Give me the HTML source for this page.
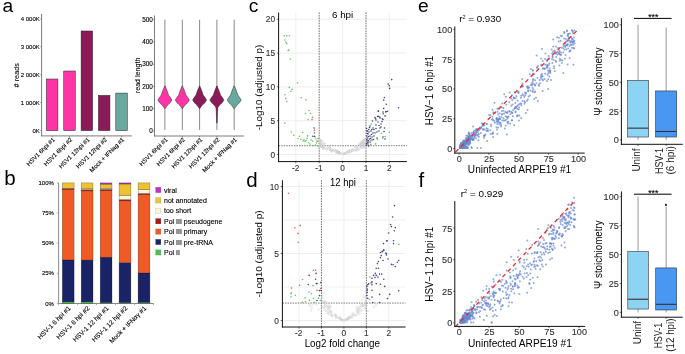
<!DOCTYPE html>
<html><head><meta charset="utf-8"><style>
html,body{margin:0;padding:0;background:#fff;width:685px;height:354px;overflow:hidden}
svg{display:block;will-change:transform}
text{font-family:"Liberation Sans", sans-serif}
</style></head><body>
<svg width="685" height="354" viewBox="0 0 685 354">
<rect width="685" height="354" fill="#fff"/>
<text x="2.40" y="12.20" font-size="19.2" text-anchor="start" fill="#000">a</text>
<text x="4.20" y="185.10" font-size="20.5" text-anchor="start" fill="#000">b</text>
<text x="248.80" y="12.20" font-size="19.2" text-anchor="start" fill="#000">c</text>
<text x="246.20" y="187.10" font-size="20.5" text-anchor="start" fill="#000">d</text>
<text x="418.00" y="11.90" font-size="19.2" text-anchor="start" fill="#000">e</text>
<text x="418.60" y="187.10" font-size="20.5" text-anchor="start" fill="#000">f</text>
<line x1="41.60" y1="14.00" x2="41.60" y2="136.20" stroke="#444" stroke-width="0.7"/>
<line x1="41.30" y1="135.90" x2="131.80" y2="135.90" stroke="#444" stroke-width="0.7"/>
<line x1="40.20" y1="130.60" x2="41.60" y2="130.60" stroke="#444" stroke-width="0.5"/>
<text x="39.80" y="132.70" font-size="6.0" text-anchor="end" fill="#000" stroke="#000" stroke-width="0.12">0K</text>
<line x1="40.20" y1="102.67" x2="41.60" y2="102.67" stroke="#444" stroke-width="0.5"/>
<text x="39.80" y="104.77" font-size="6.0" text-anchor="end" fill="#000" stroke="#000" stroke-width="0.12">1 000K</text>
<line x1="40.20" y1="74.74" x2="41.60" y2="74.74" stroke="#444" stroke-width="0.5"/>
<text x="39.80" y="76.84" font-size="6.0" text-anchor="end" fill="#000" stroke="#000" stroke-width="0.12">2 000K</text>
<line x1="40.20" y1="46.81" x2="41.60" y2="46.81" stroke="#444" stroke-width="0.5"/>
<text x="39.80" y="48.91" font-size="6.0" text-anchor="end" fill="#000" stroke="#000" stroke-width="0.12">3 000K</text>
<line x1="40.20" y1="18.88" x2="41.60" y2="18.88" stroke="#444" stroke-width="0.5"/>
<text x="39.80" y="20.98" font-size="6.0" text-anchor="end" fill="#000" stroke="#000" stroke-width="0.12">4 000K</text>
<rect x="46.40" y="79.00" width="11.50" height="51.60" fill="#FD35A6" stroke="#222" stroke-width="0.5"/>
<line x1="52.15" y1="135.90" x2="52.15" y2="137.30" stroke="#444" stroke-width="0.5"/>
<text x="55.35" y="140.00" font-size="6.05" text-anchor="end" fill="#000" stroke="#000" stroke-width="0.12" transform="rotate(-45 55.35 140.00)">HSV1 6hpi #1</text>
<rect x="63.75" y="71.00" width="11.50" height="59.60" fill="#FD35A6" stroke="#222" stroke-width="0.5"/>
<line x1="69.50" y1="135.90" x2="69.50" y2="137.30" stroke="#444" stroke-width="0.5"/>
<text x="72.70" y="140.00" font-size="6.05" text-anchor="end" fill="#000" stroke="#000" stroke-width="0.12" transform="rotate(-45 72.70 140.00)">HSV1 6hpi #2</text>
<rect x="81.10" y="31.00" width="11.50" height="99.60" fill="#8A1B58" stroke="#222" stroke-width="0.5"/>
<line x1="86.85" y1="135.90" x2="86.85" y2="137.30" stroke="#444" stroke-width="0.5"/>
<text x="90.05" y="140.00" font-size="6.05" text-anchor="end" fill="#000" stroke="#000" stroke-width="0.12" transform="rotate(-45 90.05 140.00)">HSV1 12hpi #1</text>
<rect x="98.45" y="95.40" width="11.50" height="35.20" fill="#8A1B58" stroke="#222" stroke-width="0.5"/>
<line x1="104.20" y1="135.90" x2="104.20" y2="137.30" stroke="#444" stroke-width="0.5"/>
<text x="107.40" y="140.00" font-size="6.05" text-anchor="end" fill="#000" stroke="#000" stroke-width="0.12" transform="rotate(-45 107.40 140.00)">HSV1 12hpi #2</text>
<rect x="115.80" y="93.10" width="11.50" height="37.50" fill="#69A89E" stroke="#222" stroke-width="0.5"/>
<line x1="121.55" y1="135.90" x2="121.55" y2="137.30" stroke="#444" stroke-width="0.5"/>
<text x="124.75" y="140.00" font-size="6.05" text-anchor="end" fill="#000" stroke="#000" stroke-width="0.12" transform="rotate(-45 124.75 140.00)">Mock + IFNag #1</text>
<text x="19.40" y="75.25" font-size="7.2" text-anchor="middle" fill="#111" stroke="#111" stroke-width="0.12" textLength="24.3" lengthAdjust="spacingAndGlyphs" transform="rotate(-90 19.40 75.25)"># reads</text>
<line x1="154.50" y1="15.50" x2="154.50" y2="136.30" stroke="#444" stroke-width="0.7"/>
<line x1="154.20" y1="136.00" x2="244.20" y2="136.00" stroke="#444" stroke-width="0.7"/>
<line x1="153.10" y1="131.00" x2="154.50" y2="131.00" stroke="#444" stroke-width="0.5"/>
<text x="152.90" y="133.20" font-size="6.4" text-anchor="end" fill="#000" stroke="#000" stroke-width="0.12">0</text>
<line x1="153.10" y1="108.74" x2="154.50" y2="108.74" stroke="#444" stroke-width="0.5"/>
<text x="152.90" y="110.94" font-size="6.4" text-anchor="end" fill="#000" stroke="#000" stroke-width="0.12">100</text>
<line x1="153.10" y1="86.48" x2="154.50" y2="86.48" stroke="#444" stroke-width="0.5"/>
<text x="152.90" y="88.68" font-size="6.4" text-anchor="end" fill="#000" stroke="#000" stroke-width="0.12">200</text>
<line x1="153.10" y1="64.22" x2="154.50" y2="64.22" stroke="#444" stroke-width="0.5"/>
<text x="152.90" y="66.42" font-size="6.4" text-anchor="end" fill="#000" stroke="#000" stroke-width="0.12">300</text>
<line x1="153.10" y1="41.96" x2="154.50" y2="41.96" stroke="#444" stroke-width="0.5"/>
<text x="152.90" y="44.16" font-size="6.4" text-anchor="end" fill="#000" stroke="#000" stroke-width="0.12">400</text>
<line x1="153.10" y1="19.70" x2="154.50" y2="19.70" stroke="#444" stroke-width="0.5"/>
<text x="152.90" y="21.90" font-size="6.4" text-anchor="end" fill="#000" stroke="#000" stroke-width="0.12">500</text>
<text x="140.00" y="75.40" font-size="7.2" text-anchor="middle" fill="#111" stroke="#111" stroke-width="0.12" textLength="35.5" lengthAdjust="spacingAndGlyphs" transform="rotate(-90 140.00 75.40)">read length</text>
<line x1="164.90" y1="19.70" x2="164.90" y2="88.00" stroke="#6a6a6a" stroke-width="0.8"/>
<line x1="164.90" y1="107.00" x2="164.90" y2="130.00" stroke="#6a6a6a" stroke-width="0.8"/>
<polygon points="165.20,86.00 165.70,87.50 166.40,89.00 167.50,92.00 168.50,95.00 170.40,97.50 171.90,100.10 170.40,102.50 167.70,105.00 166.20,107.00 165.30,108.50 164.50,108.50 163.60,107.00 162.10,105.00 159.40,102.50 157.90,100.10 159.40,97.50 161.30,95.00 162.30,92.00 163.40,89.00 164.10,87.50 164.60,86.00" fill="#FD35A6" stroke="#2a2a2a" stroke-width="0.5" stroke-linejoin="round"/>
<line x1="164.90" y1="136.00" x2="164.90" y2="137.30" stroke="#444" stroke-width="0.5"/>
<text x="168.10" y="140.00" font-size="6.05" text-anchor="end" fill="#000" stroke="#000" stroke-width="0.12" transform="rotate(-45 168.10 140.00)">HSV1 6hpi #1</text>
<line x1="182.30" y1="19.70" x2="182.30" y2="88.00" stroke="#6a6a6a" stroke-width="0.8"/>
<line x1="182.30" y1="107.00" x2="182.30" y2="130.00" stroke="#6a6a6a" stroke-width="0.8"/>
<polygon points="182.60,86.00 183.10,87.50 183.80,89.00 184.90,92.00 185.90,95.00 187.80,97.50 189.30,100.10 187.80,102.50 185.10,105.00 183.60,107.00 182.70,108.50 181.90,108.50 181.00,107.00 179.50,105.00 176.80,102.50 175.30,100.10 176.80,97.50 178.70,95.00 179.70,92.00 180.80,89.00 181.50,87.50 182.00,86.00" fill="#FD35A6" stroke="#2a2a2a" stroke-width="0.5" stroke-linejoin="round"/>
<line x1="182.30" y1="136.00" x2="182.30" y2="137.30" stroke="#444" stroke-width="0.5"/>
<text x="185.50" y="140.00" font-size="6.05" text-anchor="end" fill="#000" stroke="#000" stroke-width="0.12" transform="rotate(-45 185.50 140.00)">HSV1 6hpi #2</text>
<line x1="199.60" y1="19.70" x2="199.60" y2="88.00" stroke="#6a6a6a" stroke-width="0.8"/>
<line x1="199.60" y1="107.00" x2="199.60" y2="130.00" stroke="#6a6a6a" stroke-width="0.8"/>
<polygon points="199.90,86.00 200.40,87.50 201.10,89.00 202.20,92.00 203.20,95.00 205.10,97.50 206.60,100.10 205.10,102.50 202.40,105.00 200.90,107.00 200.00,108.50 199.20,108.50 198.30,107.00 196.80,105.00 194.10,102.50 192.60,100.10 194.10,97.50 196.00,95.00 197.00,92.00 198.10,89.00 198.80,87.50 199.30,86.00" fill="#8A1B58" stroke="#2a2a2a" stroke-width="0.5" stroke-linejoin="round"/>
<line x1="199.60" y1="136.00" x2="199.60" y2="137.30" stroke="#444" stroke-width="0.5"/>
<text x="202.80" y="140.00" font-size="6.05" text-anchor="end" fill="#000" stroke="#000" stroke-width="0.12" transform="rotate(-45 202.80 140.00)">HSV1 12hpi #1</text>
<line x1="216.90" y1="19.70" x2="216.90" y2="88.00" stroke="#6a6a6a" stroke-width="0.8"/>
<line x1="216.90" y1="107.00" x2="216.90" y2="130.00" stroke="#6a6a6a" stroke-width="0.8"/>
<polygon points="217.20,86.00 217.70,87.50 218.40,89.00 219.50,92.00 220.50,95.00 222.40,97.50 223.90,100.10 222.40,102.50 219.70,105.00 218.20,107.00 217.80,108.50 217.50,112.00 217.30,118.00 217.15,123.00 216.65,123.00 216.50,118.00 216.30,112.00 216.00,108.50 215.60,107.00 214.10,105.00 211.40,102.50 209.90,100.10 211.40,97.50 213.30,95.00 214.30,92.00 215.40,89.00 216.10,87.50 216.60,86.00" fill="#8A1B58" stroke="#2a2a2a" stroke-width="0.5" stroke-linejoin="round"/>
<line x1="216.90" y1="136.00" x2="216.90" y2="137.30" stroke="#444" stroke-width="0.5"/>
<text x="220.10" y="140.00" font-size="6.05" text-anchor="end" fill="#000" stroke="#000" stroke-width="0.12" transform="rotate(-45 220.10 140.00)">HSV1 12hpi #2</text>
<line x1="234.20" y1="19.70" x2="234.20" y2="88.00" stroke="#6a6a6a" stroke-width="0.8"/>
<line x1="234.20" y1="107.00" x2="234.20" y2="130.00" stroke="#6a6a6a" stroke-width="0.8"/>
<polygon points="234.50,86.00 235.00,87.50 235.70,89.00 236.80,92.00 237.80,95.00 239.70,97.50 241.20,100.10 239.70,102.50 237.00,105.00 235.50,107.00 234.60,108.50 233.80,108.50 232.90,107.00 231.40,105.00 228.70,102.50 227.20,100.10 228.70,97.50 230.60,95.00 231.60,92.00 232.70,89.00 233.40,87.50 233.90,86.00" fill="#69A89E" stroke="#2a2a2a" stroke-width="0.5" stroke-linejoin="round"/>
<line x1="234.20" y1="136.00" x2="234.20" y2="137.30" stroke="#444" stroke-width="0.5"/>
<text x="237.40" y="140.00" font-size="6.05" text-anchor="end" fill="#000" stroke="#000" stroke-width="0.12" transform="rotate(-45 237.40 140.00)">Mock + IFNag #1</text>
<line x1="58.60" y1="182.90" x2="58.60" y2="303.60" stroke="#8a8a8a" stroke-width="1.0"/>
<line x1="58.40" y1="303.50" x2="153.60" y2="303.50" stroke="#8a8a8a" stroke-width="1.0"/>
<line x1="56.80" y1="303.30" x2="58.60" y2="303.30" stroke="#8a8a8a" stroke-width="0.7"/>
<text x="53.90" y="305.50" font-size="6.0" text-anchor="end" fill="#000" stroke="#000" stroke-width="0.12">0%</text>
<line x1="56.80" y1="273.20" x2="58.60" y2="273.20" stroke="#8a8a8a" stroke-width="0.7"/>
<text x="53.90" y="275.40" font-size="6.0" text-anchor="end" fill="#000" stroke="#000" stroke-width="0.12">25%</text>
<line x1="56.80" y1="243.10" x2="58.60" y2="243.10" stroke="#8a8a8a" stroke-width="0.7"/>
<text x="53.90" y="245.30" font-size="6.0" text-anchor="end" fill="#000" stroke="#000" stroke-width="0.12">50%</text>
<line x1="56.80" y1="213.00" x2="58.60" y2="213.00" stroke="#8a8a8a" stroke-width="0.7"/>
<text x="53.90" y="215.20" font-size="6.0" text-anchor="end" fill="#000" stroke="#000" stroke-width="0.12">75%</text>
<line x1="56.80" y1="182.90" x2="58.60" y2="182.90" stroke="#8a8a8a" stroke-width="0.7"/>
<text x="53.90" y="185.10" font-size="6.0" text-anchor="end" fill="#000" stroke="#000" stroke-width="0.12">100%</text>
<line x1="58.60" y1="303.50" x2="58.60" y2="305.20" stroke="#8a8a8a" stroke-width="0.7"/>
<line x1="77.60" y1="303.50" x2="77.60" y2="305.20" stroke="#8a8a8a" stroke-width="0.7"/>
<line x1="96.50" y1="303.50" x2="96.50" y2="305.20" stroke="#8a8a8a" stroke-width="0.7"/>
<line x1="115.50" y1="303.50" x2="115.50" y2="305.20" stroke="#8a8a8a" stroke-width="0.7"/>
<line x1="134.50" y1="303.50" x2="134.50" y2="305.20" stroke="#8a8a8a" stroke-width="0.7"/>
<line x1="153.50" y1="303.50" x2="153.50" y2="305.20" stroke="#8a8a8a" stroke-width="0.7"/>
<rect x="62.30" y="301.86" width="11.80" height="1.44" fill="#4DC04A" stroke="#00000080" stroke-width="0.45"/>
<rect x="62.30" y="259.96" width="11.80" height="41.90" fill="#1A2366" stroke="#00000080" stroke-width="0.45"/>
<rect x="62.30" y="189.52" width="11.80" height="70.43" fill="#F05A27" stroke="#00000080" stroke-width="0.45"/>
<rect x="62.30" y="188.44" width="11.80" height="1.08" fill="#A81A14" stroke="#00000080" stroke-width="0.45"/>
<rect x="62.30" y="182.90" width="11.80" height="5.54" fill="#EFC232" stroke="#00000080" stroke-width="0.45"/>
<rect x="81.20" y="301.86" width="11.80" height="1.44" fill="#4DC04A" stroke="#00000080" stroke-width="0.45"/>
<rect x="81.20" y="260.08" width="11.80" height="41.78" fill="#1A2366" stroke="#00000080" stroke-width="0.45"/>
<rect x="81.20" y="190.85" width="11.80" height="69.23" fill="#F05A27" stroke="#00000080" stroke-width="0.45"/>
<rect x="81.20" y="189.64" width="11.80" height="1.20" fill="#A81A14" stroke="#00000080" stroke-width="0.45"/>
<rect x="81.20" y="188.56" width="11.80" height="1.08" fill="#F9F6D6" stroke="#00000080" stroke-width="0.45"/>
<rect x="81.20" y="182.90" width="11.80" height="5.66" fill="#EFC232" stroke="#00000080" stroke-width="0.45"/>
<rect x="100.20" y="302.58" width="11.80" height="0.72" fill="#4DC04A" stroke="#00000080" stroke-width="0.45"/>
<rect x="100.20" y="257.19" width="11.80" height="45.39" fill="#1A2366" stroke="#00000080" stroke-width="0.45"/>
<rect x="100.20" y="190.73" width="11.80" height="66.46" fill="#F05A27" stroke="#00000080" stroke-width="0.45"/>
<rect x="100.20" y="189.40" width="11.80" height="1.32" fill="#A81A14" stroke="#00000080" stroke-width="0.45"/>
<rect x="100.20" y="188.20" width="11.80" height="1.20" fill="#F9F6D6" stroke="#00000080" stroke-width="0.45"/>
<rect x="100.20" y="184.10" width="11.80" height="4.09" fill="#EFC232" stroke="#00000080" stroke-width="0.45"/>
<rect x="100.20" y="182.90" width="11.80" height="1.20" fill="#C22FCB" stroke="#00000080" stroke-width="0.45"/>
<rect x="119.10" y="302.58" width="11.80" height="0.72" fill="#4DC04A" stroke="#00000080" stroke-width="0.45"/>
<rect x="119.10" y="262.73" width="11.80" height="39.85" fill="#1A2366" stroke="#00000080" stroke-width="0.45"/>
<rect x="119.10" y="200.84" width="11.80" height="61.89" fill="#F05A27" stroke="#00000080" stroke-width="0.45"/>
<rect x="119.10" y="199.64" width="11.80" height="1.20" fill="#A81A14" stroke="#00000080" stroke-width="0.45"/>
<rect x="119.10" y="195.18" width="11.80" height="4.45" fill="#F9F6D6" stroke="#00000080" stroke-width="0.45"/>
<rect x="119.10" y="183.98" width="11.80" height="11.20" fill="#EFC232" stroke="#00000080" stroke-width="0.45"/>
<rect x="119.10" y="182.90" width="11.80" height="1.08" fill="#C22FCB" stroke="#00000080" stroke-width="0.45"/>
<rect x="138.10" y="302.34" width="11.80" height="0.96" fill="#4DC04A" stroke="#00000080" stroke-width="0.45"/>
<rect x="138.10" y="272.96" width="11.80" height="29.38" fill="#1A2366" stroke="#00000080" stroke-width="0.45"/>
<rect x="138.10" y="194.58" width="11.80" height="78.38" fill="#F05A27" stroke="#00000080" stroke-width="0.45"/>
<rect x="138.10" y="193.50" width="11.80" height="1.08" fill="#A81A14" stroke="#00000080" stroke-width="0.45"/>
<rect x="138.10" y="189.52" width="11.80" height="3.97" fill="#F9F6D6" stroke="#00000080" stroke-width="0.45"/>
<rect x="138.10" y="182.90" width="11.80" height="6.62" fill="#EFC232" stroke="#00000080" stroke-width="0.45"/>
<text x="71.10" y="308.80" font-size="6.5" text-anchor="end" fill="#000" stroke="#000" stroke-width="0.12" transform="rotate(-45 71.10 308.80)">HSV-1 6 hpi #1</text>
<text x="90.00" y="308.80" font-size="6.5" text-anchor="end" fill="#000" stroke="#000" stroke-width="0.12" transform="rotate(-45 90.00 308.80)">HSV-1 6 hpi #2</text>
<text x="109.00" y="308.80" font-size="6.5" text-anchor="end" fill="#000" stroke="#000" stroke-width="0.12" transform="rotate(-45 109.00 308.80)">HSV-1 12 hpi #1</text>
<text x="127.90" y="308.80" font-size="6.5" text-anchor="end" fill="#000" stroke="#000" stroke-width="0.12" transform="rotate(-45 127.90 308.80)">HSV-1 12 hpi #2</text>
<text x="146.90" y="308.80" font-size="6.5" text-anchor="end" fill="#000" stroke="#000" stroke-width="0.12" transform="rotate(-45 146.90 308.80)">Mock + IFN&#945;&#947; #1</text>
<rect x="155.60" y="187.30" width="5.30" height="5.40" fill="#C22FCB" stroke="#00000044" stroke-width="0.35"/>
<text x="164.00" y="192.50" font-size="7.0" text-anchor="start" fill="#000" stroke="#000" stroke-width="0.12">viral</text>
<rect x="155.60" y="197.70" width="5.30" height="5.40" fill="#EFC232" stroke="#00000044" stroke-width="0.35"/>
<text x="164.00" y="202.90" font-size="7.0" text-anchor="start" fill="#000" stroke="#000" stroke-width="0.12">not annotated</text>
<rect x="155.60" y="208.10" width="5.30" height="5.40" fill="#F9F6D6" stroke="#00000044" stroke-width="0.35"/>
<text x="164.00" y="213.30" font-size="7.0" text-anchor="start" fill="#000" stroke="#000" stroke-width="0.12">too short</text>
<rect x="155.60" y="218.50" width="5.30" height="5.40" fill="#A81A14" stroke="#00000044" stroke-width="0.35"/>
<text x="164.00" y="223.70" font-size="7.0" text-anchor="start" fill="#000" stroke="#000" stroke-width="0.12">Pol III pseudogene</text>
<rect x="155.60" y="228.90" width="5.30" height="5.40" fill="#F05A27" stroke="#00000044" stroke-width="0.35"/>
<text x="164.00" y="234.10" font-size="7.0" text-anchor="start" fill="#000" stroke="#000" stroke-width="0.12">Pol III primary</text>
<rect x="155.60" y="239.30" width="5.30" height="5.40" fill="#1A2366" stroke="#00000044" stroke-width="0.35"/>
<text x="164.00" y="244.50" font-size="7.0" text-anchor="start" fill="#000" stroke="#000" stroke-width="0.12">Pol III pre-tRNA</text>
<rect x="155.60" y="249.70" width="5.30" height="5.40" fill="#4DC04A" stroke="#00000044" stroke-width="0.35"/>
<text x="164.00" y="254.90" font-size="7.0" text-anchor="start" fill="#000" stroke="#000" stroke-width="0.12">Pol II</text>
<line x1="278.60" y1="154.50" x2="406.90" y2="154.50" stroke="#EBEBEB" stroke-width="0.8"/>
<line x1="278.60" y1="120.70" x2="406.90" y2="120.70" stroke="#EBEBEB" stroke-width="0.8"/>
<line x1="278.60" y1="86.90" x2="406.90" y2="86.90" stroke="#EBEBEB" stroke-width="0.8"/>
<line x1="278.60" y1="53.10" x2="406.90" y2="53.10" stroke="#EBEBEB" stroke-width="0.8"/>
<line x1="278.60" y1="19.30" x2="406.90" y2="19.30" stroke="#EBEBEB" stroke-width="0.8"/>
<line x1="295.80" y1="12.50" x2="295.80" y2="161.60" stroke="#EBEBEB" stroke-width="0.8"/>
<line x1="319.20" y1="12.50" x2="319.20" y2="161.60" stroke="#EBEBEB" stroke-width="0.8"/>
<line x1="342.60" y1="12.50" x2="342.60" y2="161.60" stroke="#EBEBEB" stroke-width="0.8"/>
<line x1="366.00" y1="12.50" x2="366.00" y2="161.60" stroke="#EBEBEB" stroke-width="0.8"/>
<line x1="389.40" y1="12.50" x2="389.40" y2="161.60" stroke="#EBEBEB" stroke-width="0.8"/>
<line x1="319.20" y1="12.50" x2="319.20" y2="161.60" stroke="#222" stroke-width="0.6" stroke-dasharray="1.5,1.05"/>
<line x1="366.00" y1="12.50" x2="366.00" y2="161.60" stroke="#222" stroke-width="0.6" stroke-dasharray="1.5,1.05"/>
<line x1="278.60" y1="145.71" x2="406.90" y2="145.71" stroke="#222" stroke-width="0.6" stroke-dasharray="1.5,1.05"/>
<circle cx="330.1" cy="150.0" r="0.85" fill="none" stroke="#CFCFCF" stroke-width="0.4"/>
<circle cx="356.9" cy="150.2" r="0.85" fill="none" stroke="#CFCFCF" stroke-width="0.4"/>
<circle cx="325.6" cy="144.5" r="0.85" fill="none" stroke="#CFCFCF" stroke-width="0.4"/>
<circle cx="365.8" cy="143.5" r="0.85" fill="none" stroke="#CFCFCF" stroke-width="0.4"/>
<circle cx="335.1" cy="150.9" r="0.85" fill="none" stroke="#CFCFCF" stroke-width="0.4"/>
<circle cx="323.3" cy="145.5" r="0.85" fill="none" stroke="#CFCFCF" stroke-width="0.4"/>
<circle cx="339.0" cy="153.4" r="0.85" fill="none" stroke="#CFCFCF" stroke-width="0.4"/>
<circle cx="332.2" cy="151.3" r="0.85" fill="none" stroke="#CFCFCF" stroke-width="0.4"/>
<circle cx="362.9" cy="142.7" r="0.85" fill="none" stroke="#CFCFCF" stroke-width="0.4"/>
<circle cx="356.1" cy="150.4" r="0.85" fill="none" stroke="#CFCFCF" stroke-width="0.4"/>
<circle cx="322.6" cy="144.0" r="0.85" fill="none" stroke="#CFCFCF" stroke-width="0.4"/>
<circle cx="350.1" cy="151.8" r="0.85" fill="none" stroke="#CFCFCF" stroke-width="0.4"/>
<circle cx="337.2" cy="151.9" r="0.85" fill="none" stroke="#CFCFCF" stroke-width="0.4"/>
<circle cx="343.5" cy="154.0" r="0.85" fill="none" stroke="#CFCFCF" stroke-width="0.4"/>
<circle cx="360.6" cy="144.1" r="0.85" fill="none" stroke="#CFCFCF" stroke-width="0.4"/>
<circle cx="339.3" cy="152.3" r="0.85" fill="none" stroke="#CFCFCF" stroke-width="0.4"/>
<circle cx="354.6" cy="149.8" r="0.85" fill="none" stroke="#CFCFCF" stroke-width="0.4"/>
<circle cx="330.6" cy="148.8" r="0.85" fill="none" stroke="#CFCFCF" stroke-width="0.4"/>
<circle cx="350.6" cy="151.6" r="0.85" fill="none" stroke="#CFCFCF" stroke-width="0.4"/>
<circle cx="363.7" cy="142.0" r="0.85" fill="none" stroke="#CFCFCF" stroke-width="0.4"/>
<circle cx="332.5" cy="149.7" r="0.85" fill="none" stroke="#CFCFCF" stroke-width="0.4"/>
<circle cx="347.9" cy="151.7" r="0.85" fill="none" stroke="#CFCFCF" stroke-width="0.4"/>
<circle cx="319.4" cy="140.8" r="0.85" fill="none" stroke="#CFCFCF" stroke-width="0.4"/>
<circle cx="347.7" cy="151.9" r="0.85" fill="none" stroke="#CFCFCF" stroke-width="0.4"/>
<circle cx="321.4" cy="146.9" r="0.85" fill="none" stroke="#CFCFCF" stroke-width="0.4"/>
<circle cx="322.0" cy="141.1" r="0.85" fill="none" stroke="#CFCFCF" stroke-width="0.4"/>
<circle cx="360.3" cy="145.0" r="0.85" fill="none" stroke="#CFCFCF" stroke-width="0.4"/>
<circle cx="332.4" cy="150.2" r="0.85" fill="none" stroke="#CFCFCF" stroke-width="0.4"/>
<circle cx="337.8" cy="151.8" r="0.85" fill="none" stroke="#CFCFCF" stroke-width="0.4"/>
<circle cx="355.3" cy="146.3" r="0.85" fill="none" stroke="#CFCFCF" stroke-width="0.4"/>
<circle cx="338.1" cy="152.7" r="0.85" fill="none" stroke="#CFCFCF" stroke-width="0.4"/>
<circle cx="357.1" cy="147.6" r="0.85" fill="none" stroke="#CFCFCF" stroke-width="0.4"/>
<circle cx="366.0" cy="144.7" r="0.85" fill="none" stroke="#CFCFCF" stroke-width="0.4"/>
<circle cx="319.4" cy="142.1" r="0.85" fill="none" stroke="#CFCFCF" stroke-width="0.4"/>
<circle cx="329.7" cy="149.8" r="0.85" fill="none" stroke="#CFCFCF" stroke-width="0.4"/>
<circle cx="355.5" cy="146.1" r="0.85" fill="none" stroke="#CFCFCF" stroke-width="0.4"/>
<circle cx="340.2" cy="153.0" r="0.85" fill="none" stroke="#CFCFCF" stroke-width="0.4"/>
<circle cx="319.3" cy="139.4" r="0.85" fill="none" stroke="#CFCFCF" stroke-width="0.4"/>
<circle cx="323.3" cy="147.5" r="0.85" fill="none" stroke="#CFCFCF" stroke-width="0.4"/>
<circle cx="319.9" cy="145.0" r="0.85" fill="none" stroke="#CFCFCF" stroke-width="0.4"/>
<circle cx="344.7" cy="153.6" r="0.85" fill="none" stroke="#CFCFCF" stroke-width="0.4"/>
<circle cx="361.4" cy="143.4" r="0.85" fill="none" stroke="#CFCFCF" stroke-width="0.4"/>
<circle cx="364.6" cy="144.0" r="0.85" fill="none" stroke="#CFCFCF" stroke-width="0.4"/>
<circle cx="326.6" cy="147.8" r="0.85" fill="none" stroke="#CFCFCF" stroke-width="0.4"/>
<circle cx="323.0" cy="148.7" r="0.85" fill="none" stroke="#CFCFCF" stroke-width="0.4"/>
<circle cx="336.7" cy="151.7" r="0.85" fill="none" stroke="#CFCFCF" stroke-width="0.4"/>
<circle cx="326.0" cy="149.6" r="0.85" fill="none" stroke="#CFCFCF" stroke-width="0.4"/>
<circle cx="358.1" cy="149.1" r="0.85" fill="none" stroke="#CFCFCF" stroke-width="0.4"/>
<circle cx="362.8" cy="141.4" r="0.85" fill="none" stroke="#CFCFCF" stroke-width="0.4"/>
<circle cx="353.1" cy="149.3" r="0.85" fill="none" stroke="#CFCFCF" stroke-width="0.4"/>
<circle cx="348.9" cy="151.1" r="0.85" fill="none" stroke="#CFCFCF" stroke-width="0.4"/>
<circle cx="323.9" cy="143.4" r="0.85" fill="none" stroke="#CFCFCF" stroke-width="0.4"/>
<circle cx="319.9" cy="145.0" r="0.85" fill="none" stroke="#CFCFCF" stroke-width="0.4"/>
<circle cx="350.6" cy="151.5" r="0.85" fill="none" stroke="#CFCFCF" stroke-width="0.4"/>
<circle cx="320.8" cy="145.4" r="0.85" fill="none" stroke="#CFCFCF" stroke-width="0.4"/>
<circle cx="362.9" cy="141.3" r="0.85" fill="none" stroke="#CFCFCF" stroke-width="0.4"/>
<circle cx="338.1" cy="151.6" r="0.85" fill="none" stroke="#CFCFCF" stroke-width="0.4"/>
<circle cx="324.9" cy="148.3" r="0.85" fill="none" stroke="#CFCFCF" stroke-width="0.4"/>
<circle cx="338.9" cy="152.3" r="0.85" fill="none" stroke="#CFCFCF" stroke-width="0.4"/>
<circle cx="345.1" cy="153.7" r="0.85" fill="none" stroke="#CFCFCF" stroke-width="0.4"/>
<circle cx="356.8" cy="147.3" r="0.85" fill="none" stroke="#CFCFCF" stroke-width="0.4"/>
<circle cx="359.1" cy="143.8" r="0.85" fill="none" stroke="#CFCFCF" stroke-width="0.4"/>
<circle cx="363.2" cy="147.2" r="0.85" fill="none" stroke="#CFCFCF" stroke-width="0.4"/>
<circle cx="364.3" cy="140.4" r="0.85" fill="none" stroke="#CFCFCF" stroke-width="0.4"/>
<circle cx="352.4" cy="150.7" r="0.85" fill="none" stroke="#CFCFCF" stroke-width="0.4"/>
<circle cx="345.8" cy="153.4" r="0.85" fill="none" stroke="#CFCFCF" stroke-width="0.4"/>
<circle cx="319.9" cy="146.3" r="0.85" fill="none" stroke="#CFCFCF" stroke-width="0.4"/>
<circle cx="321.5" cy="146.9" r="0.85" fill="none" stroke="#CFCFCF" stroke-width="0.4"/>
<circle cx="360.6" cy="142.8" r="0.85" fill="none" stroke="#CFCFCF" stroke-width="0.4"/>
<circle cx="360.4" cy="147.0" r="0.85" fill="none" stroke="#CFCFCF" stroke-width="0.4"/>
<circle cx="344.9" cy="153.0" r="0.85" fill="none" stroke="#CFCFCF" stroke-width="0.4"/>
<circle cx="329.7" cy="147.6" r="0.85" fill="none" stroke="#CFCFCF" stroke-width="0.4"/>
<circle cx="359.0" cy="149.5" r="0.85" fill="none" stroke="#CFCFCF" stroke-width="0.4"/>
<circle cx="320.7" cy="140.4" r="0.85" fill="none" stroke="#CFCFCF" stroke-width="0.4"/>
<circle cx="349.5" cy="150.8" r="0.85" fill="none" stroke="#CFCFCF" stroke-width="0.4"/>
<circle cx="329.6" cy="147.6" r="0.85" fill="none" stroke="#CFCFCF" stroke-width="0.4"/>
<circle cx="338.7" cy="152.9" r="0.85" fill="none" stroke="#CFCFCF" stroke-width="0.4"/>
<circle cx="320.5" cy="145.2" r="0.85" fill="none" stroke="#CFCFCF" stroke-width="0.4"/>
<circle cx="331.2" cy="151.1" r="0.85" fill="none" stroke="#CFCFCF" stroke-width="0.4"/>
<circle cx="320.6" cy="144.0" r="0.85" fill="none" stroke="#CFCFCF" stroke-width="0.4"/>
<circle cx="349.4" cy="152.0" r="0.85" fill="none" stroke="#CFCFCF" stroke-width="0.4"/>
<circle cx="327.3" cy="149.8" r="0.85" fill="none" stroke="#CFCFCF" stroke-width="0.4"/>
<circle cx="347.8" cy="151.4" r="0.85" fill="none" stroke="#CFCFCF" stroke-width="0.4"/>
<circle cx="344.2" cy="153.7" r="0.85" fill="none" stroke="#CFCFCF" stroke-width="0.4"/>
<circle cx="351.4" cy="150.8" r="0.85" fill="none" stroke="#CFCFCF" stroke-width="0.4"/>
<circle cx="332.2" cy="150.8" r="0.85" fill="none" stroke="#CFCFCF" stroke-width="0.4"/>
<circle cx="349.4" cy="152.7" r="0.85" fill="none" stroke="#CFCFCF" stroke-width="0.4"/>
<circle cx="360.8" cy="144.8" r="0.85" fill="none" stroke="#CFCFCF" stroke-width="0.4"/>
<circle cx="365.4" cy="143.7" r="0.85" fill="none" stroke="#CFCFCF" stroke-width="0.4"/>
<circle cx="320.5" cy="144.0" r="0.85" fill="none" stroke="#CFCFCF" stroke-width="0.4"/>
<circle cx="343.9" cy="153.9" r="0.85" fill="none" stroke="#CFCFCF" stroke-width="0.4"/>
<circle cx="323.1" cy="146.3" r="0.85" fill="none" stroke="#CFCFCF" stroke-width="0.4"/>
<circle cx="322.9" cy="147.4" r="0.85" fill="none" stroke="#CFCFCF" stroke-width="0.4"/>
<circle cx="343.8" cy="154.1" r="0.85" fill="none" stroke="#CFCFCF" stroke-width="0.4"/>
<circle cx="355.0" cy="147.2" r="0.85" fill="none" stroke="#CFCFCF" stroke-width="0.4"/>
<circle cx="340.9" cy="153.7" r="0.85" fill="none" stroke="#CFCFCF" stroke-width="0.4"/>
<circle cx="360.9" cy="147.9" r="0.85" fill="none" stroke="#CFCFCF" stroke-width="0.4"/>
<circle cx="320.4" cy="145.2" r="0.85" fill="none" stroke="#CFCFCF" stroke-width="0.4"/>
<circle cx="319.3" cy="146.1" r="0.85" fill="none" stroke="#CFCFCF" stroke-width="0.4"/>
<circle cx="323.3" cy="148.8" r="0.85" fill="none" stroke="#CFCFCF" stroke-width="0.4"/>
<circle cx="319.4" cy="147.4" r="0.85" fill="none" stroke="#CFCFCF" stroke-width="0.4"/>
<circle cx="349.2" cy="150.2" r="0.85" fill="none" stroke="#CFCFCF" stroke-width="0.4"/>
<circle cx="337.8" cy="151.9" r="0.85" fill="none" stroke="#CFCFCF" stroke-width="0.4"/>
<circle cx="336.0" cy="150.7" r="0.85" fill="none" stroke="#CFCFCF" stroke-width="0.4"/>
<circle cx="321.5" cy="142.0" r="0.85" fill="none" stroke="#CFCFCF" stroke-width="0.4"/>
<circle cx="347.2" cy="151.5" r="0.85" fill="none" stroke="#CFCFCF" stroke-width="0.4"/>
<circle cx="356.4" cy="146.3" r="0.85" fill="none" stroke="#CFCFCF" stroke-width="0.4"/>
<circle cx="321.0" cy="146.7" r="0.85" fill="none" stroke="#CFCFCF" stroke-width="0.4"/>
<circle cx="339.1" cy="152.2" r="0.85" fill="none" stroke="#CFCFCF" stroke-width="0.4"/>
<circle cx="326.8" cy="147.9" r="0.85" fill="none" stroke="#CFCFCF" stroke-width="0.4"/>
<circle cx="337.9" cy="151.7" r="0.85" fill="none" stroke="#CFCFCF" stroke-width="0.4"/>
<circle cx="365.4" cy="139.7" r="0.85" fill="none" stroke="#CFCFCF" stroke-width="0.4"/>
<circle cx="362.3" cy="144.2" r="0.85" fill="none" stroke="#CFCFCF" stroke-width="0.4"/>
<circle cx="365.9" cy="143.4" r="0.85" fill="none" stroke="#CFCFCF" stroke-width="0.4"/>
<circle cx="357.1" cy="148.7" r="0.85" fill="none" stroke="#CFCFCF" stroke-width="0.4"/>
<circle cx="365.4" cy="147.6" r="0.85" fill="none" stroke="#CFCFCF" stroke-width="0.4"/>
<circle cx="330.7" cy="150.2" r="0.85" fill="none" stroke="#CFCFCF" stroke-width="0.4"/>
<circle cx="361.7" cy="142.1" r="0.85" fill="none" stroke="#CFCFCF" stroke-width="0.4"/>
<circle cx="365.0" cy="142.5" r="0.85" fill="none" stroke="#CFCFCF" stroke-width="0.4"/>
<circle cx="356.1" cy="149.9" r="0.85" fill="none" stroke="#CFCFCF" stroke-width="0.4"/>
<circle cx="334.3" cy="149.6" r="0.85" fill="none" stroke="#CFCFCF" stroke-width="0.4"/>
<circle cx="333.1" cy="150.4" r="0.85" fill="none" stroke="#CFCFCF" stroke-width="0.4"/>
<circle cx="360.5" cy="146.2" r="0.85" fill="none" stroke="#CFCFCF" stroke-width="0.4"/>
<circle cx="319.6" cy="146.2" r="0.85" fill="none" stroke="#CFCFCF" stroke-width="0.4"/>
<circle cx="338.3" cy="152.4" r="0.85" fill="none" stroke="#CFCFCF" stroke-width="0.4"/>
<circle cx="336.0" cy="150.2" r="0.85" fill="none" stroke="#CFCFCF" stroke-width="0.4"/>
<circle cx="351.9" cy="150.6" r="0.85" fill="none" stroke="#CFCFCF" stroke-width="0.4"/>
<circle cx="351.7" cy="149.6" r="0.85" fill="none" stroke="#CFCFCF" stroke-width="0.4"/>
<circle cx="347.4" cy="153.0" r="0.85" fill="none" stroke="#CFCFCF" stroke-width="0.4"/>
<circle cx="323.0" cy="147.5" r="0.85" fill="none" stroke="#CFCFCF" stroke-width="0.4"/>
<circle cx="335.0" cy="150.0" r="0.85" fill="none" stroke="#CFCFCF" stroke-width="0.4"/>
<circle cx="359.2" cy="144.6" r="0.85" fill="none" stroke="#CFCFCF" stroke-width="0.4"/>
<circle cx="337.4" cy="152.1" r="0.85" fill="none" stroke="#CFCFCF" stroke-width="0.4"/>
<circle cx="336.4" cy="152.6" r="0.85" fill="none" stroke="#CFCFCF" stroke-width="0.4"/>
<circle cx="339.4" cy="152.9" r="0.85" fill="none" stroke="#CFCFCF" stroke-width="0.4"/>
<circle cx="340.9" cy="153.4" r="0.85" fill="none" stroke="#CFCFCF" stroke-width="0.4"/>
<circle cx="345.5" cy="152.6" r="0.85" fill="none" stroke="#CFCFCF" stroke-width="0.4"/>
<circle cx="363.8" cy="144.4" r="0.85" fill="none" stroke="#CFCFCF" stroke-width="0.4"/>
<circle cx="353.7" cy="150.5" r="0.85" fill="none" stroke="#CFCFCF" stroke-width="0.4"/>
<circle cx="358.4" cy="149.7" r="0.85" fill="none" stroke="#CFCFCF" stroke-width="0.4"/>
<circle cx="323.9" cy="143.4" r="0.85" fill="none" stroke="#CFCFCF" stroke-width="0.4"/>
<circle cx="329.9" cy="147.4" r="0.85" fill="none" stroke="#CFCFCF" stroke-width="0.4"/>
<circle cx="330.4" cy="149.0" r="0.85" fill="none" stroke="#CFCFCF" stroke-width="0.4"/>
<circle cx="362.4" cy="143.9" r="0.85" fill="none" stroke="#CFCFCF" stroke-width="0.4"/>
<circle cx="323.6" cy="147.7" r="0.85" fill="none" stroke="#CFCFCF" stroke-width="0.4"/>
<circle cx="354.7" cy="149.8" r="0.85" fill="none" stroke="#CFCFCF" stroke-width="0.4"/>
<circle cx="335.9" cy="151.7" r="0.85" fill="none" stroke="#CFCFCF" stroke-width="0.4"/>
<circle cx="328.2" cy="148.5" r="0.85" fill="none" stroke="#CFCFCF" stroke-width="0.4"/>
<circle cx="338.4" cy="152.3" r="0.85" fill="none" stroke="#CFCFCF" stroke-width="0.4"/>
<circle cx="320.5" cy="140.1" r="0.85" fill="none" stroke="#CFCFCF" stroke-width="0.4"/>
<circle cx="364.0" cy="147.0" r="0.85" fill="none" stroke="#CFCFCF" stroke-width="0.4"/>
<circle cx="319.4" cy="139.8" r="0.85" fill="none" stroke="#CFCFCF" stroke-width="0.4"/>
<circle cx="361.7" cy="145.2" r="0.85" fill="none" stroke="#CFCFCF" stroke-width="0.4"/>
<circle cx="363.4" cy="142.0" r="0.85" fill="none" stroke="#CFCFCF" stroke-width="0.4"/>
<circle cx="361.3" cy="144.9" r="0.85" fill="none" stroke="#CFCFCF" stroke-width="0.4"/>
<circle cx="363.0" cy="143.3" r="0.85" fill="none" stroke="#CFCFCF" stroke-width="0.4"/>
<circle cx="365.0" cy="141.0" r="0.85" fill="none" stroke="#CFCFCF" stroke-width="0.4"/>
<circle cx="361.8" cy="141.2" r="0.85" fill="none" stroke="#CFCFCF" stroke-width="0.4"/>
<circle cx="362.3" cy="147.7" r="0.85" fill="none" stroke="#CFCFCF" stroke-width="0.4"/>
<circle cx="320.9" cy="141.1" r="0.85" fill="none" stroke="#CFCFCF" stroke-width="0.4"/>
<circle cx="365.9" cy="142.4" r="0.85" fill="none" stroke="#CFCFCF" stroke-width="0.4"/>
<circle cx="365.7" cy="140.3" r="0.85" fill="none" stroke="#CFCFCF" stroke-width="0.4"/>
<circle cx="320.6" cy="143.2" r="0.85" fill="none" stroke="#CFCFCF" stroke-width="0.4"/>
<circle cx="363.0" cy="147.4" r="0.85" fill="none" stroke="#CFCFCF" stroke-width="0.4"/>
<circle cx="364.0" cy="139.3" r="0.85" fill="none" stroke="#CFCFCF" stroke-width="0.4"/>
<circle cx="319.8" cy="141.6" r="0.85" fill="none" stroke="#CFCFCF" stroke-width="0.4"/>
<circle cx="363.6" cy="141.3" r="0.85" fill="none" stroke="#CFCFCF" stroke-width="0.4"/>
<circle cx="320.9" cy="143.7" r="0.85" fill="none" stroke="#CFCFCF" stroke-width="0.4"/>
<circle cx="364.3" cy="139.4" r="0.85" fill="none" stroke="#CFCFCF" stroke-width="0.4"/>
<circle cx="319.9" cy="140.1" r="0.85" fill="none" stroke="#CFCFCF" stroke-width="0.4"/>
<circle cx="363.0" cy="145.4" r="0.85" fill="none" stroke="#CFCFCF" stroke-width="0.4"/>
<circle cx="319.8" cy="141.9" r="0.85" fill="none" stroke="#CFCFCF" stroke-width="0.4"/>
<circle cx="321.7" cy="145.2" r="0.85" fill="none" stroke="#CFCFCF" stroke-width="0.4"/>
<circle cx="321.7" cy="146.9" r="0.85" fill="none" stroke="#CFCFCF" stroke-width="0.4"/>
<circle cx="364.8" cy="143.3" r="0.85" fill="none" stroke="#CFCFCF" stroke-width="0.4"/>
<circle cx="284.2" cy="35.7" r="0.8" fill="#4CB84C" opacity="0.85"/>
<circle cx="286.8" cy="35.7" r="0.8" fill="#4CB84C" opacity="0.85"/>
<circle cx="289.4" cy="35.7" r="0.8" fill="#4CB84C" opacity="0.85"/>
<circle cx="284.8" cy="40.0" r="0.8" fill="#4CB84C" opacity="0.85"/>
<circle cx="285.8" cy="42.2" r="0.8" fill="#4CB84C" opacity="0.85"/>
<circle cx="286.8" cy="43.6" r="0.8" fill="#4CB84C" opacity="0.85"/>
<circle cx="288.2" cy="50.5" r="0.8" fill="#4CB84C" opacity="0.85"/>
<circle cx="289.0" cy="50.1" r="0.8" fill="#4CB84C" opacity="0.85"/>
<circle cx="290.3" cy="59.0" r="0.8" fill="#4CB84C" opacity="0.85"/>
<circle cx="297.5" cy="82.8" r="0.8" fill="#4CB84C" opacity="0.85"/>
<circle cx="289.3" cy="87.4" r="0.8" fill="#4CB84C" opacity="0.85"/>
<circle cx="292.1" cy="89.4" r="0.8" fill="#4CB84C" opacity="0.85"/>
<circle cx="291.0" cy="91.3" r="0.8" fill="#4CB84C" opacity="0.85"/>
<circle cx="285.1" cy="94.7" r="0.8" fill="#4CB84C" opacity="0.85"/>
<circle cx="301.2" cy="97.8" r="0.8" fill="#4CB84C" opacity="0.85"/>
<circle cx="285.9" cy="98.4" r="0.8" fill="#4CB84C" opacity="0.85"/>
<circle cx="306.0" cy="99.7" r="0.8" fill="#4CB84C" opacity="0.85"/>
<circle cx="286.8" cy="101.5" r="0.8" fill="#4CB84C" opacity="0.85"/>
<circle cx="309.1" cy="110.5" r="0.8" fill="#4CB84C" opacity="0.85"/>
<circle cx="305.5" cy="113.5" r="0.8" fill="#4CB84C" opacity="0.85"/>
<circle cx="310.5" cy="113.5" r="0.8" fill="#4CB84C" opacity="0.85"/>
<circle cx="308.0" cy="119.6" r="0.8" fill="#4CB84C" opacity="0.85"/>
<circle cx="284.8" cy="123.1" r="0.8" fill="#4CB84C" opacity="0.85"/>
<circle cx="291.2" cy="132.0" r="0.8" fill="#4CB84C" opacity="0.85"/>
<circle cx="302.7" cy="132.5" r="0.8" fill="#4CB84C" opacity="0.85"/>
<circle cx="293.8" cy="135.4" r="0.8" fill="#4CB84C" opacity="0.85"/>
<circle cx="299.5" cy="136.3" r="0.8" fill="#4CB84C" opacity="0.85"/>
<circle cx="307.6" cy="135.9" r="0.8" fill="#4CB84C" opacity="0.85"/>
<circle cx="298.1" cy="138.5" r="0.8" fill="#4CB84C" opacity="0.85"/>
<circle cx="300.9" cy="139.3" r="0.8" fill="#4CB84C" opacity="0.85"/>
<circle cx="304.0" cy="139.9" r="0.8" fill="#4CB84C" opacity="0.85"/>
<circle cx="305.0" cy="141.5" r="0.8" fill="#4CB84C" opacity="0.85"/>
<circle cx="306.0" cy="140.5" r="0.8" fill="#4CB84C" opacity="0.85"/>
<circle cx="308.5" cy="142.7" r="0.8" fill="#4CB84C" opacity="0.85"/>
<circle cx="312.5" cy="141.0" r="0.8" fill="#4CB84C" opacity="0.85"/>
<circle cx="315.3" cy="137.0" r="0.8" fill="#4CB84C" opacity="0.85"/>
<circle cx="316.0" cy="139.0" r="0.8" fill="#4CB84C" opacity="0.85"/>
<circle cx="317.0" cy="141.0" r="0.8" fill="#4CB84C" opacity="0.85"/>
<circle cx="316.5" cy="143.0" r="0.8" fill="#4CB84C" opacity="0.85"/>
<circle cx="315.5" cy="145.0" r="0.8" fill="#4CB84C" opacity="0.85"/>
<circle cx="317.6" cy="146.0" r="0.8" fill="#4CB84C" opacity="0.85"/>
<circle cx="310.0" cy="144.0" r="0.8" fill="#4CB84C" opacity="0.85"/>
<circle cx="313.0" cy="145.5" r="0.8" fill="#4CB84C" opacity="0.85"/>
<circle cx="303.0" cy="141.0" r="0.8" fill="#4CB84C" opacity="0.85"/>
<circle cx="318.2" cy="138.5" r="0.8" fill="#4CB84C" opacity="0.85"/>
<circle cx="311.0" cy="140.0" r="0.8" fill="#4CB84C" opacity="0.85"/>
<circle cx="307.0" cy="138.5" r="0.8" fill="#4CB84C" opacity="0.85"/>
<circle cx="312.5" cy="117.3" r="0.8" fill="#E8412A" opacity="0.85"/>
<circle cx="312.0" cy="119.6" r="0.8" fill="#E8412A" opacity="0.85"/>
<circle cx="314.2" cy="130.3" r="0.8" fill="#E8412A" opacity="0.85"/>
<circle cx="314.4" cy="132.9" r="0.8" fill="#E8412A" opacity="0.85"/>
<circle cx="314.0" cy="128.0" r="0.8" fill="#1E2766" opacity="0.85"/>
<circle cx="312.8" cy="136.3" r="0.8" fill="#1E2766" opacity="0.85"/>
<circle cx="314.4" cy="136.3" r="0.8" fill="#1E2766" opacity="0.85"/>
<circle cx="317.8" cy="141.2" r="0.8" fill="#E8862A" opacity="0.85"/>
<circle cx="391.7" cy="79.6" r="0.8" fill="#1E2766" opacity="0.85"/>
<circle cx="388.2" cy="84.1" r="0.8" fill="#1E2766" opacity="0.85"/>
<circle cx="389.3" cy="85.8" r="0.8" fill="#1E2766" opacity="0.85"/>
<circle cx="389.6" cy="88.4" r="0.8" fill="#1E2766" opacity="0.85"/>
<circle cx="384.4" cy="97.5" r="0.8" fill="#1E2766" opacity="0.85"/>
<circle cx="383.7" cy="100.1" r="0.8" fill="#1E2766" opacity="0.85"/>
<circle cx="386.3" cy="104.3" r="0.8" fill="#1E2766" opacity="0.85"/>
<circle cx="398.5" cy="107.8" r="0.8" fill="#1E2766" opacity="0.85"/>
<circle cx="383.7" cy="108.4" r="0.8" fill="#1E2766" opacity="0.85"/>
<circle cx="378.3" cy="111.2" r="0.8" fill="#1E2766" opacity="0.85"/>
<circle cx="387.5" cy="111.2" r="0.8" fill="#1E2766" opacity="0.85"/>
<circle cx="385.8" cy="112.0" r="0.8" fill="#1E2766" opacity="0.85"/>
<circle cx="383.2" cy="113.8" r="0.8" fill="#1E2766" opacity="0.85"/>
<circle cx="385.0" cy="115.9" r="0.8" fill="#1E2766" opacity="0.85"/>
<circle cx="378.3" cy="116.3" r="0.8" fill="#1E2766" opacity="0.85"/>
<circle cx="379.7" cy="117.0" r="0.8" fill="#1E2766" opacity="0.85"/>
<circle cx="375.5" cy="118.7" r="0.8" fill="#1E2766" opacity="0.85"/>
<circle cx="382.3" cy="118.7" r="0.8" fill="#1E2766" opacity="0.85"/>
<circle cx="378.4" cy="111.0" r="0.8" fill="#1E2766" opacity="0.85"/>
<circle cx="383.0" cy="112.0" r="0.8" fill="#1E2766" opacity="0.85"/>
<circle cx="386.0" cy="111.5" r="0.8" fill="#1E2766" opacity="0.85"/>
<circle cx="377.6" cy="116.5" r="0.8" fill="#1E2766" opacity="0.85"/>
<circle cx="380.0" cy="118.0" r="0.8" fill="#1E2766" opacity="0.85"/>
<circle cx="383.0" cy="119.5" r="0.8" fill="#1E2766" opacity="0.85"/>
<circle cx="375.0" cy="117.5" r="0.8" fill="#1E2766" opacity="0.85"/>
<circle cx="376.0" cy="120.0" r="0.8" fill="#1E2766" opacity="0.85"/>
<circle cx="372.5" cy="121.0" r="0.8" fill="#1E2766" opacity="0.85"/>
<circle cx="378.0" cy="122.0" r="0.8" fill="#1E2766" opacity="0.85"/>
<circle cx="381.0" cy="124.0" r="0.8" fill="#1E2766" opacity="0.85"/>
<circle cx="370.0" cy="126.0" r="0.8" fill="#1E2766" opacity="0.85"/>
<circle cx="373.0" cy="128.0" r="0.8" fill="#1E2766" opacity="0.85"/>
<circle cx="374.0" cy="129.5" r="0.8" fill="#1E2766" opacity="0.85"/>
<circle cx="376.0" cy="128.5" r="0.8" fill="#1E2766" opacity="0.85"/>
<circle cx="380.0" cy="128.0" r="0.8" fill="#1E2766" opacity="0.85"/>
<circle cx="381.0" cy="127.0" r="0.8" fill="#1E2766" opacity="0.85"/>
<circle cx="384.5" cy="128.0" r="0.8" fill="#1E2766" opacity="0.85"/>
<circle cx="369.0" cy="132.0" r="0.8" fill="#1E2766" opacity="0.85"/>
<circle cx="371.0" cy="131.0" r="0.8" fill="#1E2766" opacity="0.85"/>
<circle cx="373.0" cy="133.0" r="0.8" fill="#1E2766" opacity="0.85"/>
<circle cx="377.0" cy="132.0" r="0.8" fill="#1E2766" opacity="0.85"/>
<circle cx="384.0" cy="131.5" r="0.8" fill="#1E2766" opacity="0.85"/>
<circle cx="368.0" cy="134.0" r="0.8" fill="#1E2766" opacity="0.85"/>
<circle cx="370.0" cy="136.0" r="0.8" fill="#1E2766" opacity="0.85"/>
<circle cx="372.0" cy="137.0" r="0.8" fill="#1E2766" opacity="0.85"/>
<circle cx="367.5" cy="138.0" r="0.8" fill="#1E2766" opacity="0.85"/>
<circle cx="369.5" cy="139.0" r="0.8" fill="#1E2766" opacity="0.85"/>
<circle cx="374.0" cy="136.0" r="0.8" fill="#1E2766" opacity="0.85"/>
<circle cx="377.0" cy="138.0" r="0.8" fill="#1E2766" opacity="0.85"/>
<circle cx="367.0" cy="141.0" r="0.8" fill="#1E2766" opacity="0.85"/>
<circle cx="369.0" cy="142.0" r="0.8" fill="#1E2766" opacity="0.85"/>
<circle cx="372.0" cy="140.0" r="0.8" fill="#1E2766" opacity="0.85"/>
<circle cx="383.0" cy="137.0" r="0.8" fill="#1E2766" opacity="0.85"/>
<circle cx="385.0" cy="139.0" r="0.8" fill="#1E2766" opacity="0.85"/>
<circle cx="366.5" cy="145.0" r="0.8" fill="#1E2766" opacity="0.85"/>
<circle cx="368.0" cy="144.0" r="0.8" fill="#1E2766" opacity="0.85"/>
<circle cx="367.5" cy="131.0" r="0.8" fill="#1E2766" opacity="0.85"/>
<circle cx="371.5" cy="134.5" r="0.8" fill="#1E2766" opacity="0.85"/>
<circle cx="375.0" cy="133.0" r="0.8" fill="#1E2766" opacity="0.85"/>
<circle cx="379.0" cy="131.0" r="0.8" fill="#1E2766" opacity="0.85"/>
<circle cx="368.5" cy="136.5" r="0.8" fill="#1E2766" opacity="0.85"/>
<circle cx="373.5" cy="139.5" r="0.8" fill="#1E2766" opacity="0.85"/>
<circle cx="376.0" cy="125.0" r="0.8" fill="#1E2766" opacity="0.85"/>
<circle cx="379.0" cy="125.5" r="0.8" fill="#1E2766" opacity="0.85"/>
<circle cx="382.0" cy="121.5" r="0.8" fill="#1E2766" opacity="0.85"/>
<circle cx="366.8" cy="136.0" r="0.8" fill="#1E2766" opacity="0.85"/>
<circle cx="366.6" cy="128.5" r="0.8" fill="#1E2766" opacity="0.85"/>
<circle cx="366.9" cy="131.0" r="0.8" fill="#1E2766" opacity="0.85"/>
<circle cx="367.3" cy="133.5" r="0.8" fill="#1E2766" opacity="0.85"/>
<circle cx="366.8" cy="139.5" r="0.8" fill="#1E2766" opacity="0.85"/>
<circle cx="367.6" cy="142.5" r="0.8" fill="#1E2766" opacity="0.85"/>
<circle cx="366.5" cy="143.5" r="0.8" fill="#1E2766" opacity="0.85"/>
<circle cx="368.8" cy="129.5" r="0.8" fill="#1E2766" opacity="0.85"/>
<circle cx="369.5" cy="127.5" r="0.8" fill="#1E2766" opacity="0.85"/>
<circle cx="368.2" cy="140.5" r="0.8" fill="#1E2766" opacity="0.85"/>
<circle cx="370.5" cy="138.5" r="0.8" fill="#1E2766" opacity="0.85"/>
<circle cx="371.8" cy="129.5" r="0.8" fill="#1E2766" opacity="0.85"/>
<circle cx="368.5" cy="146.0" r="0.8" fill="#1E2766" opacity="0.85"/>
<circle cx="371.2" cy="124.1" r="0.8" fill="#4CB84C" opacity="0.85"/>
<circle cx="381.5" cy="133.3" r="0.8" fill="#4CB84C" opacity="0.85"/>
<circle cx="389.3" cy="132.3" r="0.8" fill="#4CB84C" opacity="0.85"/>
<circle cx="385.1" cy="136.5" r="0.8" fill="#4CB84C" opacity="0.85"/>
<circle cx="377.6" cy="139.4" r="0.8" fill="#4CB84C" opacity="0.85"/>
<circle cx="382.5" cy="138.2" r="0.8" fill="#4CB84C" opacity="0.85"/>
<circle cx="375.5" cy="143.9" r="0.8" fill="#4CB84C" opacity="0.85"/>
<circle cx="370.5" cy="142.5" r="0.8" fill="#4CB84C" opacity="0.85"/>
<circle cx="370.8" cy="144.6" r="0.8" fill="#4CB84C" opacity="0.85"/>
<circle cx="370.5" cy="141.0" r="0.8" fill="#E8412A" opacity="0.85"/>
<line x1="278.60" y1="12.50" x2="278.60" y2="162.10" stroke="#111" stroke-width="1.0"/>
<line x1="278.10" y1="161.60" x2="406.90" y2="161.60" stroke="#111" stroke-width="1.0"/>
<line x1="276.90" y1="154.50" x2="278.60" y2="154.50" stroke="#111" stroke-width="0.6"/>
<text x="275.20" y="157.50" font-size="8.4" text-anchor="end" fill="#333" stroke="#333" stroke-width="0.12">0</text>
<line x1="276.90" y1="120.70" x2="278.60" y2="120.70" stroke="#111" stroke-width="0.6"/>
<text x="275.20" y="123.70" font-size="8.4" text-anchor="end" fill="#333" stroke="#333" stroke-width="0.12">5</text>
<line x1="276.90" y1="86.90" x2="278.60" y2="86.90" stroke="#111" stroke-width="0.6"/>
<text x="275.20" y="89.90" font-size="8.4" text-anchor="end" fill="#333" stroke="#333" stroke-width="0.12">10</text>
<line x1="276.90" y1="53.10" x2="278.60" y2="53.10" stroke="#111" stroke-width="0.6"/>
<text x="275.20" y="56.10" font-size="8.4" text-anchor="end" fill="#333" stroke="#333" stroke-width="0.12">15</text>
<line x1="276.90" y1="19.30" x2="278.60" y2="19.30" stroke="#111" stroke-width="0.6"/>
<text x="275.20" y="22.30" font-size="8.4" text-anchor="end" fill="#333" stroke="#333" stroke-width="0.12">20</text>
<line x1="295.80" y1="161.60" x2="295.80" y2="163.30" stroke="#111" stroke-width="0.6"/>
<text x="295.60" y="170.80" font-size="8.3" text-anchor="middle" fill="#333" stroke="#333" stroke-width="0.12">-2</text>
<line x1="319.20" y1="161.60" x2="319.20" y2="163.30" stroke="#111" stroke-width="0.6"/>
<text x="319.00" y="170.80" font-size="8.3" text-anchor="middle" fill="#333" stroke="#333" stroke-width="0.12">-1</text>
<line x1="342.60" y1="161.60" x2="342.60" y2="163.30" stroke="#111" stroke-width="0.6"/>
<text x="342.60" y="170.80" font-size="8.3" text-anchor="middle" fill="#333" stroke="#333" stroke-width="0.12">0</text>
<line x1="366.00" y1="161.60" x2="366.00" y2="163.30" stroke="#111" stroke-width="0.6"/>
<text x="366.00" y="170.80" font-size="8.3" text-anchor="middle" fill="#333" stroke="#333" stroke-width="0.12">1</text>
<line x1="389.40" y1="161.60" x2="389.40" y2="163.30" stroke="#111" stroke-width="0.6"/>
<text x="389.40" y="170.80" font-size="8.3" text-anchor="middle" fill="#333" stroke="#333" stroke-width="0.12">2</text>
<text x="342.60" y="18.00" font-size="9.8" text-anchor="middle" fill="#000">6 hpi</text>
<text x="261.60" y="87.50" font-size="9.8" text-anchor="middle" fill="#000" textLength="85.6" lengthAdjust="spacingAndGlyphs" transform="rotate(-90 261.60 87.50)">-Log10 (adjusted p)</text>
<line x1="282.40" y1="287.00" x2="405.60" y2="287.00" stroke="#EBEBEB" stroke-width="0.8"/>
<line x1="282.40" y1="220.00" x2="405.60" y2="220.00" stroke="#EBEBEB" stroke-width="0.8"/>
<line x1="282.40" y1="320.50" x2="405.60" y2="320.50" stroke="#EBEBEB" stroke-width="0.8"/>
<line x1="282.40" y1="253.50" x2="405.60" y2="253.50" stroke="#EBEBEB" stroke-width="0.8"/>
<line x1="282.40" y1="186.50" x2="405.60" y2="186.50" stroke="#EBEBEB" stroke-width="0.8"/>
<line x1="299.00" y1="180.20" x2="299.00" y2="327.00" stroke="#EBEBEB" stroke-width="0.8"/>
<line x1="321.45" y1="180.20" x2="321.45" y2="327.00" stroke="#EBEBEB" stroke-width="0.8"/>
<line x1="343.90" y1="180.20" x2="343.90" y2="327.00" stroke="#EBEBEB" stroke-width="0.8"/>
<line x1="366.35" y1="180.20" x2="366.35" y2="327.00" stroke="#EBEBEB" stroke-width="0.8"/>
<line x1="388.80" y1="180.20" x2="388.80" y2="327.00" stroke="#EBEBEB" stroke-width="0.8"/>
<line x1="321.45" y1="180.20" x2="321.45" y2="327.00" stroke="#222" stroke-width="0.6" stroke-dasharray="1.5,1.05"/>
<line x1="366.35" y1="180.20" x2="366.35" y2="327.00" stroke="#222" stroke-width="0.6" stroke-dasharray="1.5,1.05"/>
<line x1="282.40" y1="303.07" x2="405.60" y2="303.07" stroke="#222" stroke-width="0.6" stroke-dasharray="1.5,1.05"/>
<circle cx="365.4" cy="309.7" r="0.85" fill="none" stroke="#CFCFCF" stroke-width="0.4"/>
<circle cx="325.1" cy="304.9" r="0.85" fill="none" stroke="#CFCFCF" stroke-width="0.4"/>
<circle cx="344.6" cy="320.4" r="0.85" fill="none" stroke="#CFCFCF" stroke-width="0.4"/>
<circle cx="330.3" cy="306.2" r="0.85" fill="none" stroke="#CFCFCF" stroke-width="0.4"/>
<circle cx="358.3" cy="309.0" r="0.85" fill="none" stroke="#CFCFCF" stroke-width="0.4"/>
<circle cx="340.2" cy="318.0" r="0.85" fill="none" stroke="#CFCFCF" stroke-width="0.4"/>
<circle cx="324.7" cy="306.5" r="0.85" fill="none" stroke="#CFCFCF" stroke-width="0.4"/>
<circle cx="364.7" cy="306.5" r="0.85" fill="none" stroke="#CFCFCF" stroke-width="0.4"/>
<circle cx="350.1" cy="316.0" r="0.85" fill="none" stroke="#CFCFCF" stroke-width="0.4"/>
<circle cx="345.1" cy="319.9" r="0.85" fill="none" stroke="#CFCFCF" stroke-width="0.4"/>
<circle cx="352.3" cy="313.5" r="0.85" fill="none" stroke="#CFCFCF" stroke-width="0.4"/>
<circle cx="362.2" cy="300.4" r="0.85" fill="none" stroke="#CFCFCF" stroke-width="0.4"/>
<circle cx="347.4" cy="318.5" r="0.85" fill="none" stroke="#CFCFCF" stroke-width="0.4"/>
<circle cx="330.0" cy="306.8" r="0.85" fill="none" stroke="#CFCFCF" stroke-width="0.4"/>
<circle cx="348.0" cy="319.1" r="0.85" fill="none" stroke="#CFCFCF" stroke-width="0.4"/>
<circle cx="361.7" cy="306.4" r="0.85" fill="none" stroke="#CFCFCF" stroke-width="0.4"/>
<circle cx="357.8" cy="311.0" r="0.85" fill="none" stroke="#CFCFCF" stroke-width="0.4"/>
<circle cx="335.8" cy="314.5" r="0.85" fill="none" stroke="#CFCFCF" stroke-width="0.4"/>
<circle cx="332.0" cy="315.8" r="0.85" fill="none" stroke="#CFCFCF" stroke-width="0.4"/>
<circle cx="334.7" cy="314.8" r="0.85" fill="none" stroke="#CFCFCF" stroke-width="0.4"/>
<circle cx="324.9" cy="304.8" r="0.85" fill="none" stroke="#CFCFCF" stroke-width="0.4"/>
<circle cx="340.4" cy="318.1" r="0.85" fill="none" stroke="#CFCFCF" stroke-width="0.4"/>
<circle cx="327.2" cy="305.7" r="0.85" fill="none" stroke="#CFCFCF" stroke-width="0.4"/>
<circle cx="322.8" cy="308.1" r="0.85" fill="none" stroke="#CFCFCF" stroke-width="0.4"/>
<circle cx="335.9" cy="317.8" r="0.85" fill="none" stroke="#CFCFCF" stroke-width="0.4"/>
<circle cx="323.0" cy="302.7" r="0.85" fill="none" stroke="#CFCFCF" stroke-width="0.4"/>
<circle cx="327.8" cy="313.0" r="0.85" fill="none" stroke="#CFCFCF" stroke-width="0.4"/>
<circle cx="342.4" cy="320.2" r="0.85" fill="none" stroke="#CFCFCF" stroke-width="0.4"/>
<circle cx="362.1" cy="310.2" r="0.85" fill="none" stroke="#CFCFCF" stroke-width="0.4"/>
<circle cx="329.1" cy="309.7" r="0.85" fill="none" stroke="#CFCFCF" stroke-width="0.4"/>
<circle cx="339.4" cy="318.0" r="0.85" fill="none" stroke="#CFCFCF" stroke-width="0.4"/>
<circle cx="365.4" cy="304.0" r="0.85" fill="none" stroke="#CFCFCF" stroke-width="0.4"/>
<circle cx="329.1" cy="314.2" r="0.85" fill="none" stroke="#CFCFCF" stroke-width="0.4"/>
<circle cx="330.6" cy="307.7" r="0.85" fill="none" stroke="#CFCFCF" stroke-width="0.4"/>
<circle cx="362.5" cy="305.1" r="0.85" fill="none" stroke="#CFCFCF" stroke-width="0.4"/>
<circle cx="353.4" cy="315.2" r="0.85" fill="none" stroke="#CFCFCF" stroke-width="0.4"/>
<circle cx="323.5" cy="307.0" r="0.85" fill="none" stroke="#CFCFCF" stroke-width="0.4"/>
<circle cx="330.5" cy="311.3" r="0.85" fill="none" stroke="#CFCFCF" stroke-width="0.4"/>
<circle cx="335.5" cy="316.1" r="0.85" fill="none" stroke="#CFCFCF" stroke-width="0.4"/>
<circle cx="355.4" cy="315.3" r="0.85" fill="none" stroke="#CFCFCF" stroke-width="0.4"/>
<circle cx="325.6" cy="301.8" r="0.85" fill="none" stroke="#CFCFCF" stroke-width="0.4"/>
<circle cx="327.7" cy="312.9" r="0.85" fill="none" stroke="#CFCFCF" stroke-width="0.4"/>
<circle cx="324.9" cy="309.6" r="0.85" fill="none" stroke="#CFCFCF" stroke-width="0.4"/>
<circle cx="336.4" cy="316.6" r="0.85" fill="none" stroke="#CFCFCF" stroke-width="0.4"/>
<circle cx="357.0" cy="315.1" r="0.85" fill="none" stroke="#CFCFCF" stroke-width="0.4"/>
<circle cx="356.7" cy="310.9" r="0.85" fill="none" stroke="#CFCFCF" stroke-width="0.4"/>
<circle cx="351.9" cy="316.4" r="0.85" fill="none" stroke="#CFCFCF" stroke-width="0.4"/>
<circle cx="332.2" cy="315.9" r="0.85" fill="none" stroke="#CFCFCF" stroke-width="0.4"/>
<circle cx="346.8" cy="319.6" r="0.85" fill="none" stroke="#CFCFCF" stroke-width="0.4"/>
<circle cx="330.7" cy="315.1" r="0.85" fill="none" stroke="#CFCFCF" stroke-width="0.4"/>
<circle cx="352.9" cy="315.1" r="0.85" fill="none" stroke="#CFCFCF" stroke-width="0.4"/>
<circle cx="348.1" cy="319.1" r="0.85" fill="none" stroke="#CFCFCF" stroke-width="0.4"/>
<circle cx="326.1" cy="310.8" r="0.85" fill="none" stroke="#CFCFCF" stroke-width="0.4"/>
<circle cx="359.5" cy="313.7" r="0.85" fill="none" stroke="#CFCFCF" stroke-width="0.4"/>
<circle cx="340.2" cy="318.6" r="0.85" fill="none" stroke="#CFCFCF" stroke-width="0.4"/>
<circle cx="366.2" cy="301.3" r="0.85" fill="none" stroke="#CFCFCF" stroke-width="0.4"/>
<circle cx="336.6" cy="316.2" r="0.85" fill="none" stroke="#CFCFCF" stroke-width="0.4"/>
<circle cx="359.9" cy="306.5" r="0.85" fill="none" stroke="#CFCFCF" stroke-width="0.4"/>
<circle cx="328.0" cy="307.2" r="0.85" fill="none" stroke="#CFCFCF" stroke-width="0.4"/>
<circle cx="364.9" cy="308.3" r="0.85" fill="none" stroke="#CFCFCF" stroke-width="0.4"/>
<circle cx="335.0" cy="315.7" r="0.85" fill="none" stroke="#CFCFCF" stroke-width="0.4"/>
<circle cx="352.1" cy="317.7" r="0.85" fill="none" stroke="#CFCFCF" stroke-width="0.4"/>
<circle cx="342.1" cy="319.9" r="0.85" fill="none" stroke="#CFCFCF" stroke-width="0.4"/>
<circle cx="357.9" cy="310.5" r="0.85" fill="none" stroke="#CFCFCF" stroke-width="0.4"/>
<circle cx="349.1" cy="317.0" r="0.85" fill="none" stroke="#CFCFCF" stroke-width="0.4"/>
<circle cx="364.4" cy="305.2" r="0.85" fill="none" stroke="#CFCFCF" stroke-width="0.4"/>
<circle cx="332.3" cy="314.6" r="0.85" fill="none" stroke="#CFCFCF" stroke-width="0.4"/>
<circle cx="323.7" cy="302.0" r="0.85" fill="none" stroke="#CFCFCF" stroke-width="0.4"/>
<circle cx="337.7" cy="317.8" r="0.85" fill="none" stroke="#CFCFCF" stroke-width="0.4"/>
<circle cx="359.9" cy="308.4" r="0.85" fill="none" stroke="#CFCFCF" stroke-width="0.4"/>
<circle cx="330.8" cy="312.7" r="0.85" fill="none" stroke="#CFCFCF" stroke-width="0.4"/>
<circle cx="322.5" cy="297.9" r="0.85" fill="none" stroke="#CFCFCF" stroke-width="0.4"/>
<circle cx="347.5" cy="318.9" r="0.85" fill="none" stroke="#CFCFCF" stroke-width="0.4"/>
<circle cx="348.1" cy="317.6" r="0.85" fill="none" stroke="#CFCFCF" stroke-width="0.4"/>
<circle cx="329.0" cy="305.4" r="0.85" fill="none" stroke="#CFCFCF" stroke-width="0.4"/>
<circle cx="327.9" cy="310.9" r="0.85" fill="none" stroke="#CFCFCF" stroke-width="0.4"/>
<circle cx="359.6" cy="308.7" r="0.85" fill="none" stroke="#CFCFCF" stroke-width="0.4"/>
<circle cx="345.6" cy="319.6" r="0.85" fill="none" stroke="#CFCFCF" stroke-width="0.4"/>
<circle cx="331.1" cy="312.5" r="0.85" fill="none" stroke="#CFCFCF" stroke-width="0.4"/>
<circle cx="342.6" cy="320.0" r="0.85" fill="none" stroke="#CFCFCF" stroke-width="0.4"/>
<circle cx="357.0" cy="306.9" r="0.85" fill="none" stroke="#CFCFCF" stroke-width="0.4"/>
<circle cx="321.6" cy="307.2" r="0.85" fill="none" stroke="#CFCFCF" stroke-width="0.4"/>
<circle cx="340.0" cy="319.0" r="0.85" fill="none" stroke="#CFCFCF" stroke-width="0.4"/>
<circle cx="325.5" cy="307.3" r="0.85" fill="none" stroke="#CFCFCF" stroke-width="0.4"/>
<circle cx="366.3" cy="305.1" r="0.85" fill="none" stroke="#CFCFCF" stroke-width="0.4"/>
<circle cx="330.6" cy="311.2" r="0.85" fill="none" stroke="#CFCFCF" stroke-width="0.4"/>
<circle cx="342.4" cy="320.1" r="0.85" fill="none" stroke="#CFCFCF" stroke-width="0.4"/>
<circle cx="340.6" cy="319.7" r="0.85" fill="none" stroke="#CFCFCF" stroke-width="0.4"/>
<circle cx="358.4" cy="308.1" r="0.85" fill="none" stroke="#CFCFCF" stroke-width="0.4"/>
<circle cx="354.8" cy="315.1" r="0.85" fill="none" stroke="#CFCFCF" stroke-width="0.4"/>
<circle cx="325.1" cy="301.2" r="0.85" fill="none" stroke="#CFCFCF" stroke-width="0.4"/>
<circle cx="357.5" cy="312.8" r="0.85" fill="none" stroke="#CFCFCF" stroke-width="0.4"/>
<circle cx="366.3" cy="305.1" r="0.85" fill="none" stroke="#CFCFCF" stroke-width="0.4"/>
<circle cx="366.1" cy="299.4" r="0.85" fill="none" stroke="#CFCFCF" stroke-width="0.4"/>
<circle cx="348.2" cy="318.8" r="0.85" fill="none" stroke="#CFCFCF" stroke-width="0.4"/>
<circle cx="357.9" cy="312.0" r="0.85" fill="none" stroke="#CFCFCF" stroke-width="0.4"/>
<circle cx="349.4" cy="317.8" r="0.85" fill="none" stroke="#CFCFCF" stroke-width="0.4"/>
<circle cx="353.8" cy="313.5" r="0.85" fill="none" stroke="#CFCFCF" stroke-width="0.4"/>
<circle cx="327.9" cy="309.1" r="0.85" fill="none" stroke="#CFCFCF" stroke-width="0.4"/>
<circle cx="366.0" cy="301.4" r="0.85" fill="none" stroke="#CFCFCF" stroke-width="0.4"/>
<circle cx="322.0" cy="301.7" r="0.85" fill="none" stroke="#CFCFCF" stroke-width="0.4"/>
<circle cx="339.3" cy="317.8" r="0.85" fill="none" stroke="#CFCFCF" stroke-width="0.4"/>
<circle cx="365.6" cy="300.1" r="0.85" fill="none" stroke="#CFCFCF" stroke-width="0.4"/>
<circle cx="357.6" cy="312.8" r="0.85" fill="none" stroke="#CFCFCF" stroke-width="0.4"/>
<circle cx="346.8" cy="319.3" r="0.85" fill="none" stroke="#CFCFCF" stroke-width="0.4"/>
<circle cx="326.5" cy="306.4" r="0.85" fill="none" stroke="#CFCFCF" stroke-width="0.4"/>
<circle cx="363.8" cy="297.4" r="0.85" fill="none" stroke="#CFCFCF" stroke-width="0.4"/>
<circle cx="323.1" cy="301.1" r="0.85" fill="none" stroke="#CFCFCF" stroke-width="0.4"/>
<circle cx="349.8" cy="317.5" r="0.85" fill="none" stroke="#CFCFCF" stroke-width="0.4"/>
<circle cx="362.2" cy="304.4" r="0.85" fill="none" stroke="#CFCFCF" stroke-width="0.4"/>
<circle cx="331.0" cy="311.6" r="0.85" fill="none" stroke="#CFCFCF" stroke-width="0.4"/>
<circle cx="328.0" cy="308.5" r="0.85" fill="none" stroke="#CFCFCF" stroke-width="0.4"/>
<circle cx="329.0" cy="307.6" r="0.85" fill="none" stroke="#CFCFCF" stroke-width="0.4"/>
<circle cx="342.1" cy="319.6" r="0.85" fill="none" stroke="#CFCFCF" stroke-width="0.4"/>
<circle cx="360.8" cy="311.1" r="0.85" fill="none" stroke="#CFCFCF" stroke-width="0.4"/>
<circle cx="366.3" cy="296.4" r="0.85" fill="none" stroke="#CFCFCF" stroke-width="0.4"/>
<circle cx="356.5" cy="308.7" r="0.85" fill="none" stroke="#CFCFCF" stroke-width="0.4"/>
<circle cx="361.5" cy="304.7" r="0.85" fill="none" stroke="#CFCFCF" stroke-width="0.4"/>
<circle cx="350.5" cy="317.7" r="0.85" fill="none" stroke="#CFCFCF" stroke-width="0.4"/>
<circle cx="359.3" cy="310.9" r="0.85" fill="none" stroke="#CFCFCF" stroke-width="0.4"/>
<circle cx="324.4" cy="302.8" r="0.85" fill="none" stroke="#CFCFCF" stroke-width="0.4"/>
<circle cx="365.1" cy="304.5" r="0.85" fill="none" stroke="#CFCFCF" stroke-width="0.4"/>
<circle cx="323.0" cy="295.7" r="0.85" fill="none" stroke="#CFCFCF" stroke-width="0.4"/>
<circle cx="362.7" cy="306.1" r="0.85" fill="none" stroke="#CFCFCF" stroke-width="0.4"/>
<circle cx="322.4" cy="302.9" r="0.85" fill="none" stroke="#CFCFCF" stroke-width="0.4"/>
<circle cx="363.4" cy="294.9" r="0.85" fill="none" stroke="#CFCFCF" stroke-width="0.4"/>
<circle cx="362.9" cy="306.1" r="0.85" fill="none" stroke="#CFCFCF" stroke-width="0.4"/>
<circle cx="323.7" cy="292.4" r="0.85" fill="none" stroke="#CFCFCF" stroke-width="0.4"/>
<circle cx="364.5" cy="297.1" r="0.85" fill="none" stroke="#CFCFCF" stroke-width="0.4"/>
<circle cx="366.3" cy="289.8" r="0.85" fill="none" stroke="#CFCFCF" stroke-width="0.4"/>
<circle cx="376.3" cy="305.3" r="0.85" fill="none" stroke="#CFCFCF" stroke-width="0.4"/>
<circle cx="310.1" cy="305.4" r="0.85" fill="none" stroke="#CFCFCF" stroke-width="0.4"/>
<circle cx="312.7" cy="304.5" r="0.85" fill="none" stroke="#CFCFCF" stroke-width="0.4"/>
<circle cx="316.4" cy="304.7" r="0.85" fill="none" stroke="#CFCFCF" stroke-width="0.4"/>
<circle cx="373.7" cy="306.9" r="0.85" fill="none" stroke="#CFCFCF" stroke-width="0.4"/>
<circle cx="311.6" cy="308.1" r="0.85" fill="none" stroke="#CFCFCF" stroke-width="0.4"/>
<circle cx="309.1" cy="305.5" r="0.85" fill="none" stroke="#CFCFCF" stroke-width="0.4"/>
<circle cx="311.2" cy="310.6" r="0.85" fill="none" stroke="#CFCFCF" stroke-width="0.4"/>
<circle cx="368.1" cy="311.1" r="0.85" fill="none" stroke="#CFCFCF" stroke-width="0.4"/>
<circle cx="318.6" cy="309.5" r="0.85" fill="none" stroke="#CFCFCF" stroke-width="0.4"/>
<circle cx="288.5" cy="193.2" r="0.8" fill="#E8412A" opacity="0.85"/>
<circle cx="294.9" cy="227.8" r="0.8" fill="#E8412A" opacity="0.85"/>
<circle cx="300.3" cy="225.8" r="0.8" fill="#E8412A" opacity="0.85"/>
<circle cx="298.0" cy="233.4" r="0.8" fill="#E8412A" opacity="0.85"/>
<circle cx="313.4" cy="270.3" r="0.8" fill="#E8412A" opacity="0.85"/>
<circle cx="315.6" cy="270.3" r="0.8" fill="#E8412A" opacity="0.85"/>
<circle cx="299.5" cy="285.3" r="0.8" fill="#E8412A" opacity="0.85"/>
<circle cx="291.4" cy="288.1" r="0.8" fill="#E8412A" opacity="0.85"/>
<circle cx="320.7" cy="288.5" r="0.8" fill="#E8412A" opacity="0.85"/>
<circle cx="317.0" cy="290.3" r="0.8" fill="#E8412A" opacity="0.85"/>
<circle cx="309.4" cy="300.2" r="0.8" fill="#E8412A" opacity="0.85"/>
<circle cx="300.3" cy="225.3" r="0.8" fill="#4CB84C" opacity="0.85"/>
<circle cx="298.3" cy="242.4" r="0.8" fill="#4CB84C" opacity="0.85"/>
<circle cx="302.5" cy="279.5" r="0.8" fill="#4CB84C" opacity="0.85"/>
<circle cx="313.0" cy="285.6" r="0.8" fill="#4CB84C" opacity="0.85"/>
<circle cx="291.0" cy="293.8" r="0.8" fill="#4CB84C" opacity="0.85"/>
<circle cx="291.2" cy="292.7" r="0.8" fill="#4CB84C" opacity="0.85"/>
<circle cx="295.3" cy="295.3" r="0.8" fill="#4CB84C" opacity="0.85"/>
<circle cx="291.0" cy="296.7" r="0.8" fill="#4CB84C" opacity="0.85"/>
<circle cx="309.0" cy="292.0" r="0.8" fill="#4CB84C" opacity="0.85"/>
<circle cx="311.4" cy="293.7" r="0.8" fill="#4CB84C" opacity="0.85"/>
<circle cx="305.1" cy="297.9" r="0.8" fill="#4CB84C" opacity="0.85"/>
<circle cx="313.5" cy="298.4" r="0.8" fill="#4CB84C" opacity="0.85"/>
<circle cx="318.4" cy="298.4" r="0.8" fill="#4CB84C" opacity="0.85"/>
<circle cx="320.3" cy="300.2" r="0.8" fill="#4CB84C" opacity="0.85"/>
<circle cx="302.3" cy="302.2" r="0.8" fill="#4CB84C" opacity="0.85"/>
<circle cx="305.4" cy="301.5" r="0.8" fill="#4CB84C" opacity="0.85"/>
<circle cx="314.2" cy="302.3" r="0.8" fill="#4CB84C" opacity="0.85"/>
<circle cx="398.7" cy="244.4" r="0.8" fill="#4CB84C" opacity="0.85"/>
<circle cx="369.9" cy="277.1" r="0.8" fill="#4CB84C" opacity="0.85"/>
<circle cx="369.4" cy="299.2" r="0.8" fill="#4CB84C" opacity="0.85"/>
<circle cx="309.2" cy="275.4" r="0.8" fill="#1E2766" opacity="0.85"/>
<circle cx="316.1" cy="273.4" r="0.8" fill="#1E2766" opacity="0.85"/>
<circle cx="315.6" cy="279.2" r="0.8" fill="#1E2766" opacity="0.85"/>
<circle cx="320.7" cy="282.5" r="0.8" fill="#1E2766" opacity="0.85"/>
<circle cx="316.4" cy="283.6" r="0.8" fill="#1E2766" opacity="0.85"/>
<circle cx="308.3" cy="284.6" r="0.8" fill="#1E2766" opacity="0.85"/>
<circle cx="317.0" cy="283.5" r="0.8" fill="#1E2766" opacity="0.85"/>
<circle cx="319.5" cy="290.6" r="0.8" fill="#1E2766" opacity="0.85"/>
<circle cx="321.2" cy="290.6" r="0.8" fill="#1E2766" opacity="0.85"/>
<circle cx="319.5" cy="295.5" r="0.8" fill="#1E2766" opacity="0.85"/>
<circle cx="317.0" cy="300.5" r="0.8" fill="#1E2766" opacity="0.85"/>
<circle cx="394.5" cy="205.6" r="0.8" fill="#1E2766" opacity="0.85"/>
<circle cx="392.6" cy="217.0" r="0.8" fill="#1E2766" opacity="0.85"/>
<circle cx="390.6" cy="224.6" r="0.8" fill="#1E2766" opacity="0.85"/>
<circle cx="391.4" cy="226.6" r="0.8" fill="#1E2766" opacity="0.85"/>
<circle cx="395.3" cy="227.6" r="0.8" fill="#1E2766" opacity="0.85"/>
<circle cx="394.3" cy="230.8" r="0.8" fill="#1E2766" opacity="0.85"/>
<circle cx="388.6" cy="233.0" r="0.8" fill="#1E2766" opacity="0.85"/>
<circle cx="387.2" cy="240.7" r="0.8" fill="#1E2766" opacity="0.85"/>
<circle cx="386.5" cy="241.0" r="0.8" fill="#1E2766" opacity="0.85"/>
<circle cx="393.5" cy="240.7" r="0.8" fill="#1E2766" opacity="0.85"/>
<circle cx="393.5" cy="243.6" r="0.8" fill="#1E2766" opacity="0.85"/>
<circle cx="383.5" cy="243.6" r="0.8" fill="#1E2766" opacity="0.85"/>
<circle cx="383.8" cy="249.7" r="0.8" fill="#1E2766" opacity="0.85"/>
<circle cx="382.5" cy="251.4" r="0.8" fill="#1E2766" opacity="0.85"/>
<circle cx="380.4" cy="252.5" r="0.8" fill="#1E2766" opacity="0.85"/>
<circle cx="385.8" cy="253.0" r="0.8" fill="#1E2766" opacity="0.85"/>
<circle cx="386.4" cy="255.0" r="0.8" fill="#1E2766" opacity="0.85"/>
<circle cx="381.3" cy="255.6" r="0.8" fill="#1E2766" opacity="0.85"/>
<circle cx="380.4" cy="257.6" r="0.8" fill="#1E2766" opacity="0.85"/>
<circle cx="388.0" cy="259.0" r="0.8" fill="#1E2766" opacity="0.85"/>
<circle cx="383.8" cy="250.5" r="0.8" fill="#1E2766" opacity="0.85"/>
<circle cx="382.1" cy="251.7" r="0.8" fill="#1E2766" opacity="0.85"/>
<circle cx="386.4" cy="253.7" r="0.8" fill="#1E2766" opacity="0.85"/>
<circle cx="383.0" cy="260.5" r="0.8" fill="#1E2766" opacity="0.85"/>
<circle cx="378.4" cy="261.5" r="0.8" fill="#1E2766" opacity="0.85"/>
<circle cx="398.7" cy="260.5" r="0.8" fill="#1E2766" opacity="0.85"/>
<circle cx="397.4" cy="262.2" r="0.8" fill="#1E2766" opacity="0.85"/>
<circle cx="377.4" cy="263.6" r="0.8" fill="#1E2766" opacity="0.85"/>
<circle cx="391.4" cy="264.4" r="0.8" fill="#1E2766" opacity="0.85"/>
<circle cx="393.1" cy="264.7" r="0.8" fill="#1E2766" opacity="0.85"/>
<circle cx="395.3" cy="266.6" r="0.8" fill="#1E2766" opacity="0.85"/>
<circle cx="376.2" cy="268.3" r="0.8" fill="#1E2766" opacity="0.85"/>
<circle cx="378.4" cy="268.3" r="0.8" fill="#1E2766" opacity="0.85"/>
<circle cx="375.3" cy="273.4" r="0.8" fill="#1E2766" opacity="0.85"/>
<circle cx="379.6" cy="274.1" r="0.8" fill="#1E2766" opacity="0.85"/>
<circle cx="381.8" cy="274.1" r="0.8" fill="#1E2766" opacity="0.85"/>
<circle cx="373.6" cy="275.4" r="0.8" fill="#1E2766" opacity="0.85"/>
<circle cx="376.2" cy="275.4" r="0.8" fill="#1E2766" opacity="0.85"/>
<circle cx="375.0" cy="277.5" r="0.8" fill="#1E2766" opacity="0.85"/>
<circle cx="372.0" cy="278.3" r="0.8" fill="#1E2766" opacity="0.85"/>
<circle cx="377.9" cy="277.1" r="0.8" fill="#1E2766" opacity="0.85"/>
<circle cx="383.8" cy="279.2" r="0.8" fill="#1E2766" opacity="0.85"/>
<circle cx="372.0" cy="281.9" r="0.8" fill="#1E2766" opacity="0.85"/>
<circle cx="371.1" cy="283.0" r="0.8" fill="#1E2766" opacity="0.85"/>
<circle cx="376.2" cy="283.6" r="0.8" fill="#1E2766" opacity="0.85"/>
<circle cx="380.4" cy="284.2" r="0.8" fill="#1E2766" opacity="0.85"/>
<circle cx="368.6" cy="283.9" r="0.8" fill="#1E2766" opacity="0.85"/>
<circle cx="367.7" cy="284.7" r="0.8" fill="#1E2766" opacity="0.85"/>
<circle cx="372.0" cy="284.7" r="0.8" fill="#1E2766" opacity="0.85"/>
<circle cx="384.7" cy="286.4" r="0.8" fill="#1E2766" opacity="0.85"/>
<circle cx="366.9" cy="286.4" r="0.8" fill="#1E2766" opacity="0.85"/>
<circle cx="367.2" cy="289.0" r="0.8" fill="#1E2766" opacity="0.85"/>
<circle cx="367.2" cy="290.3" r="0.8" fill="#1E2766" opacity="0.85"/>
<circle cx="372.0" cy="290.2" r="0.8" fill="#1E2766" opacity="0.85"/>
<circle cx="398.7" cy="290.7" r="0.8" fill="#1E2766" opacity="0.85"/>
<circle cx="367.2" cy="292.4" r="0.8" fill="#1E2766" opacity="0.85"/>
<circle cx="379.6" cy="294.4" r="0.8" fill="#1E2766" opacity="0.85"/>
<circle cx="389.7" cy="294.4" r="0.8" fill="#1E2766" opacity="0.85"/>
<circle cx="366.9" cy="295.4" r="0.8" fill="#1E2766" opacity="0.85"/>
<circle cx="372.0" cy="297.1" r="0.8" fill="#1E2766" opacity="0.85"/>
<circle cx="387.5" cy="298.6" r="0.8" fill="#1E2766" opacity="0.85"/>
<circle cx="367.7" cy="298.3" r="0.8" fill="#1E2766" opacity="0.85"/>
<circle cx="372.8" cy="302.5" r="0.8" fill="#1E2766" opacity="0.85"/>
<circle cx="379.6" cy="302.5" r="0.8" fill="#1E2766" opacity="0.85"/>
<line x1="282.40" y1="180.20" x2="282.40" y2="327.50" stroke="#111" stroke-width="1.0"/>
<line x1="281.90" y1="327.00" x2="405.60" y2="327.00" stroke="#111" stroke-width="1.0"/>
<line x1="280.70" y1="320.50" x2="282.40" y2="320.50" stroke="#111" stroke-width="0.6"/>
<text x="279.00" y="323.50" font-size="8.4" text-anchor="end" fill="#333" stroke="#333" stroke-width="0.12">0</text>
<line x1="280.70" y1="253.50" x2="282.40" y2="253.50" stroke="#111" stroke-width="0.6"/>
<text x="279.00" y="256.50" font-size="8.4" text-anchor="end" fill="#333" stroke="#333" stroke-width="0.12">5</text>
<line x1="280.70" y1="186.50" x2="282.40" y2="186.50" stroke="#111" stroke-width="0.6"/>
<text x="279.00" y="189.50" font-size="8.4" text-anchor="end" fill="#333" stroke="#333" stroke-width="0.12">10</text>
<line x1="299.00" y1="327.00" x2="299.00" y2="328.70" stroke="#111" stroke-width="0.6"/>
<text x="298.80" y="336.20" font-size="8.3" text-anchor="middle" fill="#333" stroke="#333" stroke-width="0.12">-2</text>
<line x1="321.45" y1="327.00" x2="321.45" y2="328.70" stroke="#111" stroke-width="0.6"/>
<text x="321.25" y="336.20" font-size="8.3" text-anchor="middle" fill="#333" stroke="#333" stroke-width="0.12">-1</text>
<line x1="343.90" y1="327.00" x2="343.90" y2="328.70" stroke="#111" stroke-width="0.6"/>
<text x="343.90" y="336.20" font-size="8.3" text-anchor="middle" fill="#333" stroke="#333" stroke-width="0.12">0</text>
<line x1="366.35" y1="327.00" x2="366.35" y2="328.70" stroke="#111" stroke-width="0.6"/>
<text x="366.35" y="336.20" font-size="8.3" text-anchor="middle" fill="#333" stroke="#333" stroke-width="0.12">1</text>
<line x1="388.80" y1="327.00" x2="388.80" y2="328.70" stroke="#111" stroke-width="0.6"/>
<text x="388.80" y="336.20" font-size="8.3" text-anchor="middle" fill="#333" stroke="#333" stroke-width="0.12">2</text>
<text x="343.00" y="185.90" font-size="10.6" text-anchor="middle" fill="#000" textLength="26.0" lengthAdjust="spacingAndGlyphs">12 hpi</text>
<text x="261.60" y="253.90" font-size="9.8" text-anchor="middle" fill="#000" textLength="87.0" lengthAdjust="spacingAndGlyphs" transform="rotate(-90 261.60 253.90)">-Log10 (adjusted p)</text>
<text x="342.30" y="346.60" font-size="10.1" text-anchor="middle" fill="#000" textLength="75.3" lengthAdjust="spacingAndGlyphs">Log2 fold change</text>
<circle cx="532.0" cy="75.5" r="1.0" fill="#6688CE" opacity="0.72"/>
<circle cx="491.1" cy="126.2" r="1.0" fill="#6688CE" opacity="0.72"/>
<circle cx="555.0" cy="51.4" r="1.0" fill="#6688CE" opacity="0.72"/>
<circle cx="545.3" cy="64.7" r="1.0" fill="#6688CE" opacity="0.72"/>
<circle cx="571.3" cy="45.1" r="1.0" fill="#6688CE" opacity="0.72"/>
<circle cx="467.8" cy="141.7" r="1.0" fill="#6688CE" opacity="0.72"/>
<circle cx="460.1" cy="145.7" r="1.0" fill="#6688CE" opacity="0.72"/>
<circle cx="527.8" cy="87.8" r="1.0" fill="#6688CE" opacity="0.72"/>
<circle cx="542.3" cy="79.5" r="1.0" fill="#6688CE" opacity="0.72"/>
<circle cx="559.6" cy="50.6" r="1.0" fill="#6688CE" opacity="0.72"/>
<circle cx="460.4" cy="145.8" r="1.0" fill="#6688CE" opacity="0.72"/>
<circle cx="515.4" cy="98.2" r="1.0" fill="#6688CE" opacity="0.72"/>
<circle cx="465.2" cy="145.1" r="1.0" fill="#6688CE" opacity="0.72"/>
<circle cx="522.7" cy="86.1" r="1.0" fill="#6688CE" opacity="0.72"/>
<circle cx="553.6" cy="59.9" r="1.0" fill="#6688CE" opacity="0.72"/>
<circle cx="468.8" cy="132.6" r="1.0" fill="#6688CE" opacity="0.72"/>
<circle cx="459.8" cy="147.1" r="1.0" fill="#6688CE" opacity="0.72"/>
<circle cx="490.3" cy="130.3" r="1.0" fill="#6688CE" opacity="0.72"/>
<circle cx="484.5" cy="129.6" r="1.0" fill="#6688CE" opacity="0.72"/>
<circle cx="464.0" cy="143.3" r="1.0" fill="#6688CE" opacity="0.72"/>
<circle cx="556.0" cy="61.8" r="1.0" fill="#6688CE" opacity="0.72"/>
<circle cx="560.9" cy="35.7" r="1.0" fill="#6688CE" opacity="0.72"/>
<circle cx="464.6" cy="143.6" r="1.0" fill="#6688CE" opacity="0.72"/>
<circle cx="507.6" cy="111.8" r="1.0" fill="#6688CE" opacity="0.72"/>
<circle cx="498.0" cy="114.6" r="1.0" fill="#6688CE" opacity="0.72"/>
<circle cx="521.0" cy="86.9" r="1.0" fill="#6688CE" opacity="0.72"/>
<circle cx="490.9" cy="124.8" r="1.0" fill="#6688CE" opacity="0.72"/>
<circle cx="557.4" cy="54.6" r="1.0" fill="#6688CE" opacity="0.72"/>
<circle cx="492.5" cy="116.7" r="1.0" fill="#6688CE" opacity="0.72"/>
<circle cx="536.4" cy="83.3" r="1.0" fill="#6688CE" opacity="0.72"/>
<circle cx="497.4" cy="119.8" r="1.0" fill="#6688CE" opacity="0.72"/>
<circle cx="503.7" cy="120.4" r="1.0" fill="#6688CE" opacity="0.72"/>
<circle cx="476.3" cy="132.7" r="1.0" fill="#6688CE" opacity="0.72"/>
<circle cx="502.2" cy="103.5" r="1.0" fill="#6688CE" opacity="0.72"/>
<circle cx="465.3" cy="142.7" r="1.0" fill="#6688CE" opacity="0.72"/>
<circle cx="462.8" cy="143.3" r="1.0" fill="#6688CE" opacity="0.72"/>
<circle cx="469.4" cy="133.9" r="1.0" fill="#6688CE" opacity="0.72"/>
<circle cx="545.1" cy="73.8" r="1.0" fill="#6688CE" opacity="0.72"/>
<circle cx="469.1" cy="142.2" r="1.0" fill="#6688CE" opacity="0.72"/>
<circle cx="465.1" cy="145.3" r="1.0" fill="#6688CE" opacity="0.72"/>
<circle cx="462.5" cy="145.4" r="1.0" fill="#6688CE" opacity="0.72"/>
<circle cx="565.3" cy="46.9" r="1.0" fill="#6688CE" opacity="0.72"/>
<circle cx="510.1" cy="123.6" r="1.0" fill="#6688CE" opacity="0.72"/>
<circle cx="562.5" cy="60.6" r="1.0" fill="#6688CE" opacity="0.72"/>
<circle cx="538.5" cy="69.0" r="1.0" fill="#6688CE" opacity="0.72"/>
<circle cx="536.9" cy="67.4" r="1.0" fill="#6688CE" opacity="0.72"/>
<circle cx="548.7" cy="58.8" r="1.0" fill="#6688CE" opacity="0.72"/>
<circle cx="534.1" cy="98.9" r="1.0" fill="#6688CE" opacity="0.72"/>
<circle cx="470.6" cy="135.7" r="1.0" fill="#6688CE" opacity="0.72"/>
<circle cx="496.5" cy="121.7" r="1.0" fill="#6688CE" opacity="0.72"/>
<circle cx="499.4" cy="124.6" r="1.0" fill="#6688CE" opacity="0.72"/>
<circle cx="469.9" cy="135.2" r="1.0" fill="#6688CE" opacity="0.72"/>
<circle cx="564.5" cy="33.0" r="1.0" fill="#6688CE" opacity="0.72"/>
<circle cx="492.8" cy="133.6" r="1.0" fill="#6688CE" opacity="0.72"/>
<circle cx="513.7" cy="97.8" r="1.0" fill="#6688CE" opacity="0.72"/>
<circle cx="465.2" cy="140.7" r="1.0" fill="#6688CE" opacity="0.72"/>
<circle cx="547.1" cy="60.1" r="1.0" fill="#6688CE" opacity="0.72"/>
<circle cx="501.6" cy="117.3" r="1.0" fill="#6688CE" opacity="0.72"/>
<circle cx="538.6" cy="84.8" r="1.0" fill="#6688CE" opacity="0.72"/>
<circle cx="520.9" cy="97.8" r="1.0" fill="#6688CE" opacity="0.72"/>
<circle cx="461.1" cy="147.1" r="1.0" fill="#6688CE" opacity="0.72"/>
<circle cx="505.4" cy="112.0" r="1.0" fill="#6688CE" opacity="0.72"/>
<circle cx="469.8" cy="139.5" r="1.0" fill="#6688CE" opacity="0.72"/>
<circle cx="461.1" cy="146.2" r="1.0" fill="#6688CE" opacity="0.72"/>
<circle cx="539.0" cy="85.7" r="1.0" fill="#6688CE" opacity="0.72"/>
<circle cx="492.9" cy="132.5" r="1.0" fill="#6688CE" opacity="0.72"/>
<circle cx="467.8" cy="140.5" r="1.0" fill="#6688CE" opacity="0.72"/>
<circle cx="460.6" cy="145.5" r="1.0" fill="#6688CE" opacity="0.72"/>
<circle cx="537.5" cy="77.9" r="1.0" fill="#6688CE" opacity="0.72"/>
<circle cx="478.8" cy="136.7" r="1.0" fill="#6688CE" opacity="0.72"/>
<circle cx="484.4" cy="135.5" r="1.0" fill="#6688CE" opacity="0.72"/>
<circle cx="532.9" cy="80.0" r="1.0" fill="#6688CE" opacity="0.72"/>
<circle cx="569.4" cy="51.4" r="1.0" fill="#6688CE" opacity="0.72"/>
<circle cx="557.5" cy="52.0" r="1.0" fill="#6688CE" opacity="0.72"/>
<circle cx="494.5" cy="102.7" r="1.0" fill="#6688CE" opacity="0.72"/>
<circle cx="554.8" cy="71.2" r="1.0" fill="#6688CE" opacity="0.72"/>
<circle cx="561.0" cy="52.5" r="1.0" fill="#6688CE" opacity="0.72"/>
<circle cx="552.6" cy="57.2" r="1.0" fill="#6688CE" opacity="0.72"/>
<circle cx="460.6" cy="147.7" r="1.0" fill="#6688CE" opacity="0.72"/>
<circle cx="466.1" cy="138.0" r="1.0" fill="#6688CE" opacity="0.72"/>
<circle cx="471.1" cy="138.3" r="1.0" fill="#6688CE" opacity="0.72"/>
<circle cx="569.6" cy="58.2" r="1.0" fill="#6688CE" opacity="0.72"/>
<circle cx="460.5" cy="148.0" r="1.0" fill="#6688CE" opacity="0.72"/>
<circle cx="528.2" cy="90.7" r="1.0" fill="#6688CE" opacity="0.72"/>
<circle cx="505.7" cy="125.6" r="1.0" fill="#6688CE" opacity="0.72"/>
<circle cx="469.1" cy="134.5" r="1.0" fill="#6688CE" opacity="0.72"/>
<circle cx="493.1" cy="137.0" r="1.0" fill="#6688CE" opacity="0.72"/>
<circle cx="536.6" cy="55.4" r="1.0" fill="#6688CE" opacity="0.72"/>
<circle cx="555.8" cy="52.7" r="1.0" fill="#6688CE" opacity="0.72"/>
<circle cx="545.1" cy="59.1" r="1.0" fill="#6688CE" opacity="0.72"/>
<circle cx="567.5" cy="40.2" r="1.0" fill="#6688CE" opacity="0.72"/>
<circle cx="484.0" cy="137.8" r="1.0" fill="#6688CE" opacity="0.72"/>
<circle cx="506.3" cy="104.8" r="1.0" fill="#6688CE" opacity="0.72"/>
<circle cx="567.6" cy="64.6" r="1.0" fill="#6688CE" opacity="0.72"/>
<circle cx="461.2" cy="143.7" r="1.0" fill="#6688CE" opacity="0.72"/>
<circle cx="538.0" cy="65.9" r="1.0" fill="#6688CE" opacity="0.72"/>
<circle cx="498.8" cy="108.8" r="1.0" fill="#6688CE" opacity="0.72"/>
<circle cx="519.2" cy="107.6" r="1.0" fill="#6688CE" opacity="0.72"/>
<circle cx="464.9" cy="142.3" r="1.0" fill="#6688CE" opacity="0.72"/>
<circle cx="560.6" cy="40.7" r="1.0" fill="#6688CE" opacity="0.72"/>
<circle cx="496.8" cy="119.4" r="1.0" fill="#6688CE" opacity="0.72"/>
<circle cx="472.7" cy="139.9" r="1.0" fill="#6688CE" opacity="0.72"/>
<circle cx="564.1" cy="32.0" r="1.0" fill="#6688CE" opacity="0.72"/>
<circle cx="460.5" cy="148.0" r="1.0" fill="#6688CE" opacity="0.72"/>
<circle cx="517.6" cy="100.5" r="1.0" fill="#6688CE" opacity="0.72"/>
<circle cx="468.6" cy="141.5" r="1.0" fill="#6688CE" opacity="0.72"/>
<circle cx="566.3" cy="41.4" r="1.0" fill="#6688CE" opacity="0.72"/>
<circle cx="526.1" cy="92.8" r="1.0" fill="#6688CE" opacity="0.72"/>
<circle cx="462.8" cy="148.0" r="1.0" fill="#6688CE" opacity="0.72"/>
<circle cx="486.5" cy="128.3" r="1.0" fill="#6688CE" opacity="0.72"/>
<circle cx="471.4" cy="146.9" r="1.0" fill="#6688CE" opacity="0.72"/>
<circle cx="476.0" cy="129.6" r="1.0" fill="#6688CE" opacity="0.72"/>
<circle cx="507.4" cy="122.2" r="1.0" fill="#6688CE" opacity="0.72"/>
<circle cx="467.8" cy="139.9" r="1.0" fill="#6688CE" opacity="0.72"/>
<circle cx="490.7" cy="134.0" r="1.0" fill="#6688CE" opacity="0.72"/>
<circle cx="463.0" cy="148.0" r="1.0" fill="#6688CE" opacity="0.72"/>
<circle cx="555.9" cy="60.9" r="1.0" fill="#6688CE" opacity="0.72"/>
<circle cx="536.0" cy="97.7" r="1.0" fill="#6688CE" opacity="0.72"/>
<circle cx="556.2" cy="57.0" r="1.0" fill="#6688CE" opacity="0.72"/>
<circle cx="557.1" cy="37.3" r="1.0" fill="#6688CE" opacity="0.72"/>
<circle cx="563.3" cy="52.5" r="1.0" fill="#6688CE" opacity="0.72"/>
<circle cx="548.2" cy="79.3" r="1.0" fill="#6688CE" opacity="0.72"/>
<circle cx="522.6" cy="86.8" r="1.0" fill="#6688CE" opacity="0.72"/>
<circle cx="496.7" cy="118.1" r="1.0" fill="#6688CE" opacity="0.72"/>
<circle cx="508.6" cy="116.6" r="1.0" fill="#6688CE" opacity="0.72"/>
<circle cx="574.6" cy="43.5" r="1.0" fill="#6688CE" opacity="0.72"/>
<circle cx="552.0" cy="59.0" r="1.0" fill="#6688CE" opacity="0.72"/>
<circle cx="499.5" cy="116.8" r="1.0" fill="#6688CE" opacity="0.72"/>
<circle cx="462.0" cy="144.0" r="1.0" fill="#6688CE" opacity="0.72"/>
<circle cx="467.2" cy="143.3" r="1.0" fill="#6688CE" opacity="0.72"/>
<circle cx="532.8" cy="70.5" r="1.0" fill="#6688CE" opacity="0.72"/>
<circle cx="460.0" cy="148.0" r="1.0" fill="#6688CE" opacity="0.72"/>
<circle cx="488.1" cy="131.1" r="1.0" fill="#6688CE" opacity="0.72"/>
<circle cx="469.5" cy="139.0" r="1.0" fill="#6688CE" opacity="0.72"/>
<circle cx="517.5" cy="115.3" r="1.0" fill="#6688CE" opacity="0.72"/>
<circle cx="461.3" cy="147.9" r="1.0" fill="#6688CE" opacity="0.72"/>
<circle cx="504.0" cy="113.7" r="1.0" fill="#6688CE" opacity="0.72"/>
<circle cx="461.8" cy="146.0" r="1.0" fill="#6688CE" opacity="0.72"/>
<circle cx="473.7" cy="139.7" r="1.0" fill="#6688CE" opacity="0.72"/>
<circle cx="477.0" cy="128.8" r="1.0" fill="#6688CE" opacity="0.72"/>
<circle cx="498.1" cy="122.5" r="1.0" fill="#6688CE" opacity="0.72"/>
<circle cx="548.2" cy="88.9" r="1.0" fill="#6688CE" opacity="0.72"/>
<circle cx="482.5" cy="125.4" r="1.0" fill="#6688CE" opacity="0.72"/>
<circle cx="493.4" cy="112.2" r="1.0" fill="#6688CE" opacity="0.72"/>
<circle cx="542.8" cy="68.4" r="1.0" fill="#6688CE" opacity="0.72"/>
<circle cx="466.2" cy="143.5" r="1.0" fill="#6688CE" opacity="0.72"/>
<circle cx="574.4" cy="30.6" r="1.0" fill="#6688CE" opacity="0.72"/>
<circle cx="463.1" cy="141.8" r="1.0" fill="#6688CE" opacity="0.72"/>
<circle cx="501.2" cy="124.9" r="1.0" fill="#6688CE" opacity="0.72"/>
<circle cx="535.2" cy="91.4" r="1.0" fill="#6688CE" opacity="0.72"/>
<circle cx="468.6" cy="133.0" r="1.0" fill="#6688CE" opacity="0.72"/>
<circle cx="461.7" cy="144.7" r="1.0" fill="#6688CE" opacity="0.72"/>
<circle cx="480.9" cy="128.3" r="1.0" fill="#6688CE" opacity="0.72"/>
<circle cx="468.9" cy="137.2" r="1.0" fill="#6688CE" opacity="0.72"/>
<circle cx="512.5" cy="113.1" r="1.0" fill="#6688CE" opacity="0.72"/>
<circle cx="559.4" cy="51.7" r="1.0" fill="#6688CE" opacity="0.72"/>
<circle cx="463.3" cy="147.6" r="1.0" fill="#6688CE" opacity="0.72"/>
<circle cx="464.6" cy="142.7" r="1.0" fill="#6688CE" opacity="0.72"/>
<circle cx="541.4" cy="65.6" r="1.0" fill="#6688CE" opacity="0.72"/>
<circle cx="567.2" cy="44.4" r="1.0" fill="#6688CE" opacity="0.72"/>
<circle cx="480.1" cy="128.9" r="1.0" fill="#6688CE" opacity="0.72"/>
<circle cx="524.3" cy="96.9" r="1.0" fill="#6688CE" opacity="0.72"/>
<circle cx="460.1" cy="148.0" r="1.0" fill="#6688CE" opacity="0.72"/>
<circle cx="478.1" cy="134.8" r="1.0" fill="#6688CE" opacity="0.72"/>
<circle cx="470.5" cy="136.2" r="1.0" fill="#6688CE" opacity="0.72"/>
<circle cx="482.8" cy="124.0" r="1.0" fill="#6688CE" opacity="0.72"/>
<circle cx="567.0" cy="30.6" r="1.0" fill="#6688CE" opacity="0.72"/>
<circle cx="505.0" cy="120.4" r="1.0" fill="#6688CE" opacity="0.72"/>
<circle cx="568.5" cy="38.5" r="1.0" fill="#6688CE" opacity="0.72"/>
<circle cx="511.4" cy="111.9" r="1.0" fill="#6688CE" opacity="0.72"/>
<circle cx="492.4" cy="133.8" r="1.0" fill="#6688CE" opacity="0.72"/>
<circle cx="532.3" cy="91.1" r="1.0" fill="#6688CE" opacity="0.72"/>
<circle cx="563.4" cy="48.3" r="1.0" fill="#6688CE" opacity="0.72"/>
<circle cx="532.7" cy="82.0" r="1.0" fill="#6688CE" opacity="0.72"/>
<circle cx="556.1" cy="46.6" r="1.0" fill="#6688CE" opacity="0.72"/>
<circle cx="463.2" cy="141.6" r="1.0" fill="#6688CE" opacity="0.72"/>
<circle cx="465.4" cy="143.8" r="1.0" fill="#6688CE" opacity="0.72"/>
<circle cx="498.3" cy="121.0" r="1.0" fill="#6688CE" opacity="0.72"/>
<circle cx="528.1" cy="88.7" r="1.0" fill="#6688CE" opacity="0.72"/>
<circle cx="543.2" cy="80.2" r="1.0" fill="#6688CE" opacity="0.72"/>
<circle cx="548.0" cy="70.6" r="1.0" fill="#6688CE" opacity="0.72"/>
<circle cx="542.7" cy="91.1" r="1.0" fill="#6688CE" opacity="0.72"/>
<circle cx="558.9" cy="37.8" r="1.0" fill="#6688CE" opacity="0.72"/>
<circle cx="547.0" cy="81.0" r="1.0" fill="#6688CE" opacity="0.72"/>
<circle cx="517.5" cy="91.8" r="1.0" fill="#6688CE" opacity="0.72"/>
<circle cx="489.1" cy="115.0" r="1.0" fill="#6688CE" opacity="0.72"/>
<circle cx="503.5" cy="110.7" r="1.0" fill="#6688CE" opacity="0.72"/>
<circle cx="460.2" cy="148.0" r="1.0" fill="#6688CE" opacity="0.72"/>
<circle cx="469.6" cy="143.3" r="1.0" fill="#6688CE" opacity="0.72"/>
<circle cx="462.1" cy="144.8" r="1.0" fill="#6688CE" opacity="0.72"/>
<circle cx="462.6" cy="146.0" r="1.0" fill="#6688CE" opacity="0.72"/>
<circle cx="469.1" cy="139.9" r="1.0" fill="#6688CE" opacity="0.72"/>
<circle cx="464.0" cy="148.0" r="1.0" fill="#6688CE" opacity="0.72"/>
<circle cx="463.6" cy="140.5" r="1.0" fill="#6688CE" opacity="0.72"/>
<circle cx="570.6" cy="50.2" r="1.0" fill="#6688CE" opacity="0.72"/>
<circle cx="476.2" cy="130.2" r="1.0" fill="#6688CE" opacity="0.72"/>
<circle cx="528.7" cy="96.5" r="1.0" fill="#6688CE" opacity="0.72"/>
<circle cx="497.4" cy="134.0" r="1.0" fill="#6688CE" opacity="0.72"/>
<circle cx="547.3" cy="65.1" r="1.0" fill="#6688CE" opacity="0.72"/>
<circle cx="463.2" cy="143.2" r="1.0" fill="#6688CE" opacity="0.72"/>
<circle cx="527.5" cy="110.1" r="1.0" fill="#6688CE" opacity="0.72"/>
<circle cx="487.0" cy="141.1" r="1.0" fill="#6688CE" opacity="0.72"/>
<circle cx="465.7" cy="147.2" r="1.0" fill="#6688CE" opacity="0.72"/>
<circle cx="461.1" cy="143.7" r="1.0" fill="#6688CE" opacity="0.72"/>
<circle cx="522.6" cy="83.5" r="1.0" fill="#6688CE" opacity="0.72"/>
<circle cx="462.3" cy="145.1" r="1.0" fill="#6688CE" opacity="0.72"/>
<circle cx="466.9" cy="140.6" r="1.0" fill="#6688CE" opacity="0.72"/>
<circle cx="487.8" cy="128.9" r="1.0" fill="#6688CE" opacity="0.72"/>
<circle cx="460.8" cy="146.3" r="1.0" fill="#6688CE" opacity="0.72"/>
<circle cx="547.5" cy="74.7" r="1.0" fill="#6688CE" opacity="0.72"/>
<circle cx="521.9" cy="85.3" r="1.0" fill="#6688CE" opacity="0.72"/>
<circle cx="541.4" cy="64.8" r="1.0" fill="#6688CE" opacity="0.72"/>
<circle cx="460.2" cy="148.0" r="1.0" fill="#6688CE" opacity="0.72"/>
<circle cx="555.6" cy="53.5" r="1.0" fill="#6688CE" opacity="0.72"/>
<circle cx="529.9" cy="74.6" r="1.0" fill="#6688CE" opacity="0.72"/>
<circle cx="514.5" cy="108.4" r="1.0" fill="#6688CE" opacity="0.72"/>
<circle cx="507.7" cy="117.1" r="1.0" fill="#6688CE" opacity="0.72"/>
<circle cx="548.3" cy="73.2" r="1.0" fill="#6688CE" opacity="0.72"/>
<circle cx="471.4" cy="133.0" r="1.0" fill="#6688CE" opacity="0.72"/>
<circle cx="465.7" cy="146.7" r="1.0" fill="#6688CE" opacity="0.72"/>
<circle cx="467.5" cy="140.7" r="1.0" fill="#6688CE" opacity="0.72"/>
<circle cx="476.9" cy="130.4" r="1.0" fill="#6688CE" opacity="0.72"/>
<circle cx="527.0" cy="100.8" r="1.0" fill="#6688CE" opacity="0.72"/>
<circle cx="507.9" cy="123.6" r="1.0" fill="#6688CE" opacity="0.72"/>
<circle cx="468.7" cy="137.0" r="1.0" fill="#6688CE" opacity="0.72"/>
<circle cx="542.0" cy="74.1" r="1.0" fill="#6688CE" opacity="0.72"/>
<circle cx="541.1" cy="75.0" r="1.0" fill="#6688CE" opacity="0.72"/>
<circle cx="526.8" cy="86.7" r="1.0" fill="#6688CE" opacity="0.72"/>
<circle cx="472.7" cy="135.6" r="1.0" fill="#6688CE" opacity="0.72"/>
<circle cx="525.9" cy="113.1" r="1.0" fill="#6688CE" opacity="0.72"/>
<circle cx="573.4" cy="47.9" r="1.0" fill="#6688CE" opacity="0.72"/>
<circle cx="460.8" cy="144.5" r="1.0" fill="#6688CE" opacity="0.72"/>
<circle cx="463.1" cy="144.8" r="1.0" fill="#6688CE" opacity="0.72"/>
<circle cx="568.0" cy="34.0" r="1.0" fill="#6688CE" opacity="0.72"/>
<circle cx="483.6" cy="124.5" r="1.0" fill="#6688CE" opacity="0.72"/>
<circle cx="532.1" cy="85.6" r="1.0" fill="#6688CE" opacity="0.72"/>
<circle cx="478.4" cy="140.3" r="1.0" fill="#6688CE" opacity="0.72"/>
<circle cx="483.5" cy="125.6" r="1.0" fill="#6688CE" opacity="0.72"/>
<circle cx="465.0" cy="147.5" r="1.0" fill="#6688CE" opacity="0.72"/>
<circle cx="477.3" cy="148.0" r="1.0" fill="#6688CE" opacity="0.72"/>
<circle cx="541.9" cy="49.1" r="1.0" fill="#6688CE" opacity="0.72"/>
<circle cx="549.7" cy="72.1" r="1.0" fill="#6688CE" opacity="0.72"/>
<circle cx="466.2" cy="141.2" r="1.0" fill="#6688CE" opacity="0.72"/>
<circle cx="533.0" cy="73.6" r="1.0" fill="#6688CE" opacity="0.72"/>
<circle cx="500.3" cy="123.1" r="1.0" fill="#6688CE" opacity="0.72"/>
<circle cx="462.4" cy="146.1" r="1.0" fill="#6688CE" opacity="0.72"/>
<circle cx="522.7" cy="100.9" r="1.0" fill="#6688CE" opacity="0.72"/>
<circle cx="544.9" cy="68.6" r="1.0" fill="#6688CE" opacity="0.72"/>
<circle cx="559.4" cy="65.6" r="1.0" fill="#6688CE" opacity="0.72"/>
<circle cx="518.9" cy="120.6" r="1.0" fill="#6688CE" opacity="0.72"/>
<circle cx="518.8" cy="109.6" r="1.0" fill="#6688CE" opacity="0.72"/>
<circle cx="474.3" cy="136.5" r="1.0" fill="#6688CE" opacity="0.72"/>
<circle cx="551.0" cy="80.0" r="1.0" fill="#6688CE" opacity="0.72"/>
<circle cx="476.5" cy="129.8" r="1.0" fill="#6688CE" opacity="0.72"/>
<circle cx="473.9" cy="132.3" r="1.0" fill="#6688CE" opacity="0.72"/>
<circle cx="497.5" cy="120.9" r="1.0" fill="#6688CE" opacity="0.72"/>
<circle cx="466.4" cy="135.7" r="1.0" fill="#6688CE" opacity="0.72"/>
<circle cx="517.6" cy="115.7" r="1.0" fill="#6688CE" opacity="0.72"/>
<circle cx="459.9" cy="148.0" r="1.0" fill="#6688CE" opacity="0.72"/>
<circle cx="460.7" cy="148.0" r="1.0" fill="#6688CE" opacity="0.72"/>
<circle cx="465.2" cy="142.9" r="1.0" fill="#6688CE" opacity="0.72"/>
<circle cx="465.7" cy="138.7" r="1.0" fill="#6688CE" opacity="0.72"/>
<circle cx="534.6" cy="92.3" r="1.0" fill="#6688CE" opacity="0.72"/>
<circle cx="464.6" cy="144.8" r="1.0" fill="#6688CE" opacity="0.72"/>
<circle cx="572.5" cy="43.0" r="1.0" fill="#6688CE" opacity="0.72"/>
<circle cx="564.9" cy="45.5" r="1.0" fill="#6688CE" opacity="0.72"/>
<circle cx="510.4" cy="114.2" r="1.0" fill="#6688CE" opacity="0.72"/>
<circle cx="493.2" cy="120.3" r="1.0" fill="#6688CE" opacity="0.72"/>
<circle cx="461.4" cy="146.9" r="1.0" fill="#6688CE" opacity="0.72"/>
<circle cx="505.9" cy="96.8" r="1.0" fill="#6688CE" opacity="0.72"/>
<circle cx="468.2" cy="142.8" r="1.0" fill="#6688CE" opacity="0.72"/>
<circle cx="475.6" cy="133.5" r="1.0" fill="#6688CE" opacity="0.72"/>
<circle cx="465.7" cy="141.7" r="1.0" fill="#6688CE" opacity="0.72"/>
<circle cx="512.4" cy="100.0" r="1.0" fill="#6688CE" opacity="0.72"/>
<circle cx="535.0" cy="80.2" r="1.0" fill="#6688CE" opacity="0.72"/>
<circle cx="501.8" cy="107.6" r="1.0" fill="#6688CE" opacity="0.72"/>
<circle cx="467.4" cy="141.4" r="1.0" fill="#6688CE" opacity="0.72"/>
<circle cx="473.0" cy="138.9" r="1.0" fill="#6688CE" opacity="0.72"/>
<circle cx="478.8" cy="134.0" r="1.0" fill="#6688CE" opacity="0.72"/>
<circle cx="498.3" cy="119.4" r="1.0" fill="#6688CE" opacity="0.72"/>
<circle cx="573.5" cy="64.7" r="1.0" fill="#6688CE" opacity="0.72"/>
<circle cx="568.0" cy="40.4" r="1.0" fill="#6688CE" opacity="0.72"/>
<circle cx="469.3" cy="140.9" r="1.0" fill="#6688CE" opacity="0.72"/>
<circle cx="554.1" cy="68.2" r="1.0" fill="#6688CE" opacity="0.72"/>
<circle cx="528.0" cy="90.9" r="1.0" fill="#6688CE" opacity="0.72"/>
<circle cx="460.5" cy="148.0" r="1.0" fill="#6688CE" opacity="0.72"/>
<circle cx="471.2" cy="135.4" r="1.0" fill="#6688CE" opacity="0.72"/>
<circle cx="497.2" cy="124.0" r="1.0" fill="#6688CE" opacity="0.72"/>
<circle cx="471.4" cy="137.3" r="1.0" fill="#6688CE" opacity="0.72"/>
<circle cx="533.3" cy="79.2" r="1.0" fill="#6688CE" opacity="0.72"/>
<circle cx="462.9" cy="147.4" r="1.0" fill="#6688CE" opacity="0.72"/>
<circle cx="459.9" cy="147.6" r="1.0" fill="#6688CE" opacity="0.72"/>
<circle cx="530.3" cy="90.4" r="1.0" fill="#6688CE" opacity="0.72"/>
<circle cx="463.4" cy="143.0" r="1.0" fill="#6688CE" opacity="0.72"/>
<circle cx="466.0" cy="144.6" r="1.0" fill="#6688CE" opacity="0.72"/>
<circle cx="479.0" cy="130.0" r="1.0" fill="#6688CE" opacity="0.72"/>
<circle cx="463.7" cy="146.0" r="1.0" fill="#6688CE" opacity="0.72"/>
<circle cx="472.2" cy="139.9" r="1.0" fill="#6688CE" opacity="0.72"/>
<circle cx="472.5" cy="134.6" r="1.0" fill="#6688CE" opacity="0.72"/>
<circle cx="573.3" cy="33.5" r="1.0" fill="#6688CE" opacity="0.72"/>
<circle cx="465.9" cy="142.0" r="1.0" fill="#6688CE" opacity="0.72"/>
<circle cx="504.2" cy="94.2" r="1.0" fill="#6688CE" opacity="0.72"/>
<circle cx="483.0" cy="124.0" r="1.0" fill="#6688CE" opacity="0.72"/>
<circle cx="496.5" cy="119.0" r="1.0" fill="#6688CE" opacity="0.72"/>
<circle cx="568.3" cy="34.1" r="1.0" fill="#6688CE" opacity="0.72"/>
<circle cx="572.9" cy="39.7" r="1.0" fill="#6688CE" opacity="0.72"/>
<circle cx="474.9" cy="135.5" r="1.0" fill="#6688CE" opacity="0.72"/>
<circle cx="561.9" cy="63.1" r="1.0" fill="#6688CE" opacity="0.72"/>
<circle cx="559.8" cy="60.8" r="1.0" fill="#6688CE" opacity="0.72"/>
<circle cx="494.8" cy="122.8" r="1.0" fill="#6688CE" opacity="0.72"/>
<circle cx="463.4" cy="144.2" r="1.0" fill="#6688CE" opacity="0.72"/>
<circle cx="464.5" cy="148.0" r="1.0" fill="#6688CE" opacity="0.72"/>
<circle cx="493.5" cy="113.1" r="1.0" fill="#6688CE" opacity="0.72"/>
<circle cx="462.1" cy="147.6" r="1.0" fill="#6688CE" opacity="0.72"/>
<circle cx="462.0" cy="144.4" r="1.0" fill="#6688CE" opacity="0.72"/>
<circle cx="547.5" cy="67.2" r="1.0" fill="#6688CE" opacity="0.72"/>
<circle cx="511.0" cy="98.6" r="1.0" fill="#6688CE" opacity="0.72"/>
<circle cx="565.9" cy="39.0" r="1.0" fill="#6688CE" opacity="0.72"/>
<circle cx="460.5" cy="146.1" r="1.0" fill="#6688CE" opacity="0.72"/>
<circle cx="474.4" cy="137.6" r="1.0" fill="#6688CE" opacity="0.72"/>
<circle cx="463.6" cy="144.1" r="1.0" fill="#6688CE" opacity="0.72"/>
<circle cx="462.6" cy="143.3" r="1.0" fill="#6688CE" opacity="0.72"/>
<circle cx="461.2" cy="148.0" r="1.0" fill="#6688CE" opacity="0.72"/>
<circle cx="486.6" cy="124.2" r="1.0" fill="#6688CE" opacity="0.72"/>
<circle cx="513.9" cy="97.4" r="1.0" fill="#6688CE" opacity="0.72"/>
<circle cx="461.4" cy="144.7" r="1.0" fill="#6688CE" opacity="0.72"/>
<circle cx="469.7" cy="138.3" r="1.0" fill="#6688CE" opacity="0.72"/>
<circle cx="572.4" cy="41.7" r="1.0" fill="#6688CE" opacity="0.72"/>
<circle cx="469.9" cy="140.7" r="1.0" fill="#6688CE" opacity="0.72"/>
<circle cx="497.0" cy="129.5" r="1.0" fill="#6688CE" opacity="0.72"/>
<circle cx="466.1" cy="141.0" r="1.0" fill="#6688CE" opacity="0.72"/>
<circle cx="507.6" cy="118.6" r="1.0" fill="#6688CE" opacity="0.72"/>
<circle cx="523.3" cy="95.2" r="1.0" fill="#6688CE" opacity="0.72"/>
<circle cx="497.6" cy="111.7" r="1.0" fill="#6688CE" opacity="0.72"/>
<circle cx="463.3" cy="147.8" r="1.0" fill="#6688CE" opacity="0.72"/>
<circle cx="469.5" cy="141.7" r="1.0" fill="#6688CE" opacity="0.72"/>
<circle cx="475.5" cy="135.4" r="1.0" fill="#6688CE" opacity="0.72"/>
<circle cx="522.6" cy="94.2" r="1.0" fill="#6688CE" opacity="0.72"/>
<circle cx="466.2" cy="141.7" r="1.0" fill="#6688CE" opacity="0.72"/>
<circle cx="500.1" cy="118.9" r="1.0" fill="#6688CE" opacity="0.72"/>
<circle cx="570.4" cy="44.5" r="1.0" fill="#6688CE" opacity="0.72"/>
<circle cx="569.2" cy="40.6" r="1.0" fill="#6688CE" opacity="0.72"/>
<circle cx="517.0" cy="116.3" r="1.0" fill="#6688CE" opacity="0.72"/>
<circle cx="563.3" cy="72.9" r="1.0" fill="#6688CE" opacity="0.72"/>
<circle cx="465.8" cy="142.5" r="1.0" fill="#6688CE" opacity="0.72"/>
<circle cx="486.9" cy="123.8" r="1.0" fill="#6688CE" opacity="0.72"/>
<circle cx="464.5" cy="140.5" r="1.0" fill="#6688CE" opacity="0.72"/>
<circle cx="459.7" cy="148.0" r="1.0" fill="#6688CE" opacity="0.72"/>
<circle cx="532.1" cy="84.2" r="1.0" fill="#6688CE" opacity="0.72"/>
<circle cx="508.1" cy="121.7" r="1.0" fill="#6688CE" opacity="0.72"/>
<circle cx="545.5" cy="53.6" r="1.0" fill="#6688CE" opacity="0.72"/>
<circle cx="558.0" cy="48.0" r="1.0" fill="#6688CE" opacity="0.72"/>
<circle cx="512.1" cy="95.3" r="1.0" fill="#6688CE" opacity="0.72"/>
<circle cx="529.3" cy="87.4" r="1.0" fill="#6688CE" opacity="0.72"/>
<circle cx="465.1" cy="144.4" r="1.0" fill="#6688CE" opacity="0.72"/>
<circle cx="460.0" cy="145.5" r="1.0" fill="#6688CE" opacity="0.72"/>
<circle cx="553.0" cy="51.8" r="1.0" fill="#6688CE" opacity="0.72"/>
<circle cx="469.3" cy="144.2" r="1.0" fill="#6688CE" opacity="0.72"/>
<circle cx="472.4" cy="137.0" r="1.0" fill="#6688CE" opacity="0.72"/>
<circle cx="499.0" cy="118.6" r="1.0" fill="#6688CE" opacity="0.72"/>
<circle cx="559.8" cy="58.8" r="1.0" fill="#6688CE" opacity="0.72"/>
<circle cx="517.5" cy="105.6" r="1.0" fill="#6688CE" opacity="0.72"/>
<circle cx="483.8" cy="135.8" r="1.0" fill="#6688CE" opacity="0.72"/>
<circle cx="496.6" cy="118.2" r="1.0" fill="#6688CE" opacity="0.72"/>
<circle cx="571.9" cy="38.3" r="1.0" fill="#6688CE" opacity="0.72"/>
<circle cx="517.4" cy="108.8" r="1.0" fill="#6688CE" opacity="0.72"/>
<circle cx="473.5" cy="138.8" r="1.0" fill="#6688CE" opacity="0.72"/>
<circle cx="465.4" cy="142.3" r="1.0" fill="#6688CE" opacity="0.72"/>
<circle cx="483.1" cy="128.8" r="1.0" fill="#6688CE" opacity="0.72"/>
<circle cx="512.5" cy="104.4" r="1.0" fill="#6688CE" opacity="0.72"/>
<circle cx="559.4" cy="54.1" r="1.0" fill="#6688CE" opacity="0.72"/>
<circle cx="572.9" cy="32.0" r="1.0" fill="#6688CE" opacity="0.72"/>
<circle cx="530.6" cy="84.9" r="1.0" fill="#6688CE" opacity="0.72"/>
<circle cx="463.5" cy="142.9" r="1.0" fill="#6688CE" opacity="0.72"/>
<circle cx="461.9" cy="146.2" r="1.0" fill="#6688CE" opacity="0.72"/>
<circle cx="461.0" cy="147.9" r="1.0" fill="#6688CE" opacity="0.72"/>
<circle cx="511.7" cy="112.7" r="1.0" fill="#6688CE" opacity="0.72"/>
<circle cx="473.6" cy="132.3" r="1.0" fill="#6688CE" opacity="0.72"/>
<circle cx="463.1" cy="142.6" r="1.0" fill="#6688CE" opacity="0.72"/>
<circle cx="465.2" cy="145.2" r="1.0" fill="#6688CE" opacity="0.72"/>
<circle cx="514.9" cy="92.5" r="1.0" fill="#6688CE" opacity="0.72"/>
<circle cx="501.9" cy="111.1" r="1.0" fill="#6688CE" opacity="0.72"/>
<circle cx="574.1" cy="48.4" r="1.0" fill="#6688CE" opacity="0.72"/>
<circle cx="464.4" cy="142.2" r="1.0" fill="#6688CE" opacity="0.72"/>
<circle cx="460.4" cy="148.0" r="1.0" fill="#6688CE" opacity="0.72"/>
<circle cx="467.3" cy="137.3" r="1.0" fill="#6688CE" opacity="0.72"/>
<circle cx="467.4" cy="146.3" r="1.0" fill="#6688CE" opacity="0.72"/>
<circle cx="515.3" cy="107.0" r="1.0" fill="#6688CE" opacity="0.72"/>
<circle cx="552.6" cy="56.3" r="1.0" fill="#6688CE" opacity="0.72"/>
<circle cx="546.5" cy="67.8" r="1.0" fill="#6688CE" opacity="0.72"/>
<circle cx="469.6" cy="141.2" r="1.0" fill="#6688CE" opacity="0.72"/>
<circle cx="541.7" cy="76.2" r="1.0" fill="#6688CE" opacity="0.72"/>
<circle cx="539.8" cy="79.9" r="1.0" fill="#6688CE" opacity="0.72"/>
<circle cx="479.8" cy="127.4" r="1.0" fill="#6688CE" opacity="0.72"/>
<circle cx="494.3" cy="120.7" r="1.0" fill="#6688CE" opacity="0.72"/>
<circle cx="468.7" cy="138.5" r="1.0" fill="#6688CE" opacity="0.72"/>
<circle cx="467.1" cy="140.3" r="1.0" fill="#6688CE" opacity="0.72"/>
<circle cx="506.8" cy="134.4" r="1.0" fill="#6688CE" opacity="0.72"/>
<circle cx="506.8" cy="117.0" r="1.0" fill="#6688CE" opacity="0.72"/>
<circle cx="467.3" cy="141.4" r="1.0" fill="#6688CE" opacity="0.72"/>
<circle cx="469.1" cy="136.8" r="1.0" fill="#6688CE" opacity="0.72"/>
<circle cx="467.4" cy="147.5" r="1.0" fill="#6688CE" opacity="0.72"/>
<circle cx="473.1" cy="126.6" r="1.0" fill="#6688CE" opacity="0.72"/>
<circle cx="513.0" cy="110.2" r="1.0" fill="#6688CE" opacity="0.72"/>
<circle cx="561.1" cy="54.8" r="1.0" fill="#6688CE" opacity="0.72"/>
<circle cx="532.8" cy="70.4" r="1.0" fill="#6688CE" opacity="0.72"/>
<circle cx="542.6" cy="61.0" r="1.0" fill="#6688CE" opacity="0.72"/>
<circle cx="496.5" cy="127.2" r="1.0" fill="#6688CE" opacity="0.72"/>
<circle cx="465.2" cy="145.0" r="1.0" fill="#6688CE" opacity="0.72"/>
<circle cx="568.2" cy="48.4" r="1.0" fill="#6688CE" opacity="0.72"/>
<circle cx="574.0" cy="37.6" r="1.0" fill="#6688CE" opacity="0.72"/>
<circle cx="515.6" cy="112.2" r="1.0" fill="#6688CE" opacity="0.72"/>
<circle cx="468.0" cy="140.7" r="1.0" fill="#6688CE" opacity="0.72"/>
<circle cx="541.0" cy="58.4" r="1.0" fill="#6688CE" opacity="0.72"/>
<circle cx="574.0" cy="41.7" r="1.0" fill="#6688CE" opacity="0.72"/>
<circle cx="547.1" cy="66.8" r="1.0" fill="#6688CE" opacity="0.72"/>
<circle cx="562.0" cy="35.9" r="1.0" fill="#6688CE" opacity="0.72"/>
<circle cx="461.4" cy="147.0" r="1.0" fill="#6688CE" opacity="0.72"/>
<circle cx="524.9" cy="92.5" r="1.0" fill="#6688CE" opacity="0.72"/>
<circle cx="530.9" cy="69.1" r="1.0" fill="#6688CE" opacity="0.72"/>
<circle cx="487.1" cy="131.0" r="1.0" fill="#6688CE" opacity="0.72"/>
<circle cx="561.9" cy="47.8" r="1.0" fill="#6688CE" opacity="0.72"/>
<circle cx="560.4" cy="54.7" r="1.0" fill="#6688CE" opacity="0.72"/>
<circle cx="476.7" cy="130.0" r="1.0" fill="#6688CE" opacity="0.72"/>
<circle cx="548.7" cy="65.3" r="1.0" fill="#6688CE" opacity="0.72"/>
<circle cx="518.6" cy="91.7" r="1.0" fill="#6688CE" opacity="0.72"/>
<circle cx="502.0" cy="114.1" r="1.0" fill="#6688CE" opacity="0.72"/>
<circle cx="490.6" cy="115.3" r="1.0" fill="#6688CE" opacity="0.72"/>
<circle cx="467.6" cy="135.5" r="1.0" fill="#6688CE" opacity="0.72"/>
<circle cx="492.5" cy="109.8" r="1.0" fill="#6688CE" opacity="0.72"/>
<circle cx="549.5" cy="68.5" r="1.0" fill="#6688CE" opacity="0.72"/>
<circle cx="464.4" cy="145.5" r="1.0" fill="#6688CE" opacity="0.72"/>
<circle cx="521.3" cy="105.3" r="1.0" fill="#6688CE" opacity="0.72"/>
<circle cx="509.5" cy="111.1" r="1.0" fill="#6688CE" opacity="0.72"/>
<circle cx="464.7" cy="142.0" r="1.0" fill="#6688CE" opacity="0.72"/>
<circle cx="521.2" cy="103.8" r="1.0" fill="#6688CE" opacity="0.72"/>
<circle cx="550.2" cy="70.5" r="1.0" fill="#6688CE" opacity="0.72"/>
<circle cx="502.3" cy="120.4" r="1.0" fill="#6688CE" opacity="0.72"/>
<circle cx="503.6" cy="118.3" r="1.0" fill="#6688CE" opacity="0.72"/>
<circle cx="484.7" cy="135.8" r="1.0" fill="#6688CE" opacity="0.72"/>
<circle cx="465.4" cy="141.7" r="1.0" fill="#6688CE" opacity="0.72"/>
<circle cx="535.1" cy="85.2" r="1.0" fill="#6688CE" opacity="0.72"/>
<circle cx="460.6" cy="148.0" r="1.0" fill="#6688CE" opacity="0.72"/>
<circle cx="509.3" cy="102.2" r="1.0" fill="#6688CE" opacity="0.72"/>
<circle cx="469.5" cy="141.6" r="1.0" fill="#6688CE" opacity="0.72"/>
<circle cx="506.2" cy="119.8" r="1.0" fill="#6688CE" opacity="0.72"/>
<circle cx="571.9" cy="30.6" r="1.0" fill="#6688CE" opacity="0.72"/>
<circle cx="541.0" cy="78.2" r="1.0" fill="#6688CE" opacity="0.72"/>
<circle cx="476.0" cy="138.3" r="1.0" fill="#6688CE" opacity="0.72"/>
<circle cx="461.4" cy="145.1" r="1.0" fill="#6688CE" opacity="0.72"/>
<circle cx="460.0" cy="148.0" r="1.0" fill="#6688CE" opacity="0.72"/>
<circle cx="466.9" cy="143.8" r="1.0" fill="#6688CE" opacity="0.72"/>
<circle cx="467.7" cy="138.9" r="1.0" fill="#6688CE" opacity="0.72"/>
<circle cx="470.4" cy="138.9" r="1.0" fill="#6688CE" opacity="0.72"/>
<circle cx="564.8" cy="58.7" r="1.0" fill="#6688CE" opacity="0.72"/>
<circle cx="482.0" cy="123.2" r="1.0" fill="#6688CE" opacity="0.72"/>
<circle cx="463.4" cy="144.7" r="1.0" fill="#6688CE" opacity="0.72"/>
<circle cx="467.0" cy="139.6" r="1.0" fill="#6688CE" opacity="0.72"/>
<circle cx="498.4" cy="119.8" r="1.0" fill="#6688CE" opacity="0.72"/>
<circle cx="531.8" cy="83.5" r="1.0" fill="#6688CE" opacity="0.72"/>
<circle cx="481.1" cy="127.8" r="1.0" fill="#6688CE" opacity="0.72"/>
<circle cx="516.0" cy="107.9" r="1.0" fill="#6688CE" opacity="0.72"/>
<circle cx="571.2" cy="40.8" r="1.0" fill="#6688CE" opacity="0.72"/>
<circle cx="549.3" cy="63.4" r="1.0" fill="#6688CE" opacity="0.72"/>
<circle cx="461.4" cy="146.5" r="1.0" fill="#6688CE" opacity="0.72"/>
<circle cx="469.7" cy="140.0" r="1.0" fill="#6688CE" opacity="0.72"/>
<circle cx="462.2" cy="145.3" r="1.0" fill="#6688CE" opacity="0.72"/>
<circle cx="465.3" cy="144.1" r="1.0" fill="#6688CE" opacity="0.72"/>
<circle cx="564.0" cy="38.4" r="1.0" fill="#6688CE" opacity="0.72"/>
<circle cx="514.7" cy="108.6" r="1.0" fill="#6688CE" opacity="0.72"/>
<circle cx="499.7" cy="122.5" r="1.0" fill="#6688CE" opacity="0.72"/>
<circle cx="518.6" cy="93.0" r="1.0" fill="#6688CE" opacity="0.72"/>
<circle cx="461.0" cy="147.4" r="1.0" fill="#6688CE" opacity="0.72"/>
<circle cx="515.3" cy="103.1" r="1.0" fill="#6688CE" opacity="0.72"/>
<circle cx="462.9" cy="146.6" r="1.0" fill="#6688CE" opacity="0.72"/>
<circle cx="467.0" cy="141.1" r="1.0" fill="#6688CE" opacity="0.72"/>
<circle cx="466.7" cy="147.7" r="1.0" fill="#6688CE" opacity="0.72"/>
<circle cx="512.0" cy="120.6" r="1.0" fill="#6688CE" opacity="0.72"/>
<circle cx="535.0" cy="85.6" r="1.0" fill="#6688CE" opacity="0.72"/>
<circle cx="474.1" cy="130.8" r="1.0" fill="#6688CE" opacity="0.72"/>
<circle cx="461.3" cy="143.1" r="1.0" fill="#6688CE" opacity="0.72"/>
<circle cx="515.6" cy="107.0" r="1.0" fill="#6688CE" opacity="0.72"/>
<circle cx="558.7" cy="41.6" r="1.0" fill="#6688CE" opacity="0.72"/>
<circle cx="465.0" cy="147.3" r="1.0" fill="#6688CE" opacity="0.72"/>
<circle cx="459.9" cy="148.0" r="1.0" fill="#6688CE" opacity="0.72"/>
<circle cx="567.8" cy="44.3" r="1.0" fill="#6688CE" opacity="0.72"/>
<circle cx="534.0" cy="83.9" r="1.0" fill="#6688CE" opacity="0.72"/>
<circle cx="573.1" cy="44.8" r="1.0" fill="#6688CE" opacity="0.72"/>
<circle cx="461.2" cy="148.0" r="1.0" fill="#6688CE" opacity="0.72"/>
<circle cx="520.4" cy="103.4" r="1.0" fill="#6688CE" opacity="0.72"/>
<circle cx="476.7" cy="132.3" r="1.0" fill="#6688CE" opacity="0.72"/>
<circle cx="542.6" cy="76.2" r="1.0" fill="#6688CE" opacity="0.72"/>
<circle cx="460.7" cy="144.8" r="1.0" fill="#6688CE" opacity="0.72"/>
<circle cx="462.3" cy="147.8" r="1.0" fill="#6688CE" opacity="0.72"/>
<circle cx="464.2" cy="148.0" r="1.0" fill="#6688CE" opacity="0.72"/>
<circle cx="512.9" cy="116.3" r="1.0" fill="#6688CE" opacity="0.72"/>
<circle cx="514.1" cy="125.2" r="1.0" fill="#6688CE" opacity="0.72"/>
<circle cx="459.9" cy="148.0" r="1.0" fill="#6688CE" opacity="0.72"/>
<circle cx="462.1" cy="144.8" r="1.0" fill="#6688CE" opacity="0.72"/>
<circle cx="527.9" cy="99.4" r="1.0" fill="#6688CE" opacity="0.72"/>
<circle cx="534.4" cy="74.1" r="1.0" fill="#6688CE" opacity="0.72"/>
<circle cx="507.5" cy="113.1" r="1.0" fill="#6688CE" opacity="0.72"/>
<circle cx="533.5" cy="89.5" r="1.0" fill="#6688CE" opacity="0.72"/>
<circle cx="462.8" cy="147.0" r="1.0" fill="#6688CE" opacity="0.72"/>
<circle cx="537.8" cy="101.1" r="1.0" fill="#6688CE" opacity="0.72"/>
<circle cx="524.5" cy="103.7" r="1.0" fill="#6688CE" opacity="0.72"/>
<circle cx="480.8" cy="148.0" r="1.0" fill="#6688CE" opacity="0.72"/>
<circle cx="532.8" cy="91.9" r="1.0" fill="#6688CE" opacity="0.72"/>
<circle cx="552.3" cy="62.9" r="1.0" fill="#6688CE" opacity="0.72"/>
<circle cx="460.8" cy="148.0" r="1.0" fill="#6688CE" opacity="0.72"/>
<circle cx="537.0" cy="67.5" r="1.0" fill="#6688CE" opacity="0.72"/>
<circle cx="567.5" cy="35.4" r="1.0" fill="#6688CE" opacity="0.72"/>
<circle cx="570.0" cy="42.2" r="1.0" fill="#6688CE" opacity="0.72"/>
<circle cx="500.5" cy="123.0" r="1.0" fill="#6688CE" opacity="0.72"/>
<circle cx="465.0" cy="143.6" r="1.0" fill="#6688CE" opacity="0.72"/>
<circle cx="465.3" cy="140.7" r="1.0" fill="#6688CE" opacity="0.72"/>
<circle cx="461.2" cy="144.4" r="1.0" fill="#6688CE" opacity="0.72"/>
<circle cx="468.6" cy="144.7" r="1.0" fill="#6688CE" opacity="0.72"/>
<circle cx="549.3" cy="76.4" r="1.0" fill="#6688CE" opacity="0.72"/>
<circle cx="499.9" cy="119.1" r="1.0" fill="#6688CE" opacity="0.72"/>
<circle cx="511.3" cy="105.8" r="1.0" fill="#6688CE" opacity="0.72"/>
<circle cx="548.8" cy="70.7" r="1.0" fill="#6688CE" opacity="0.72"/>
<circle cx="532.6" cy="88.1" r="1.0" fill="#6688CE" opacity="0.72"/>
<circle cx="463.9" cy="140.9" r="1.0" fill="#6688CE" opacity="0.72"/>
<circle cx="480.8" cy="132.9" r="1.0" fill="#6688CE" opacity="0.72"/>
<circle cx="465.8" cy="142.6" r="1.0" fill="#6688CE" opacity="0.72"/>
<circle cx="461.0" cy="148.0" r="1.0" fill="#6688CE" opacity="0.72"/>
<circle cx="561.0" cy="60.1" r="1.0" fill="#6688CE" opacity="0.72"/>
<circle cx="477.5" cy="135.7" r="1.0" fill="#6688CE" opacity="0.72"/>
<circle cx="525.7" cy="93.4" r="1.0" fill="#6688CE" opacity="0.72"/>
<circle cx="517.2" cy="106.2" r="1.0" fill="#6688CE" opacity="0.72"/>
<circle cx="572.1" cy="38.9" r="1.0" fill="#6688CE" opacity="0.72"/>
<circle cx="461.7" cy="144.4" r="1.0" fill="#6688CE" opacity="0.72"/>
<circle cx="572.4" cy="30.6" r="1.0" fill="#6688CE" opacity="0.72"/>
<circle cx="469.0" cy="141.8" r="1.0" fill="#6688CE" opacity="0.72"/>
<circle cx="544.6" cy="79.0" r="1.0" fill="#6688CE" opacity="0.72"/>
<circle cx="466.1" cy="147.3" r="1.0" fill="#6688CE" opacity="0.72"/>
<circle cx="471.9" cy="148.0" r="1.0" fill="#6688CE" opacity="0.72"/>
<circle cx="527.9" cy="86.2" r="1.0" fill="#6688CE" opacity="0.72"/>
<circle cx="556.4" cy="52.7" r="1.0" fill="#6688CE" opacity="0.72"/>
<circle cx="558.9" cy="53.0" r="1.0" fill="#6688CE" opacity="0.72"/>
<circle cx="509.6" cy="92.5" r="1.0" fill="#6688CE" opacity="0.72"/>
<circle cx="528.5" cy="87.5" r="1.0" fill="#6688CE" opacity="0.72"/>
<circle cx="521.2" cy="95.8" r="1.0" fill="#6688CE" opacity="0.72"/>
<circle cx="474.4" cy="135.2" r="1.0" fill="#6688CE" opacity="0.72"/>
<circle cx="497.4" cy="108.8" r="1.0" fill="#6688CE" opacity="0.72"/>
<circle cx="465.1" cy="143.4" r="1.0" fill="#6688CE" opacity="0.72"/>
<circle cx="460.4" cy="145.9" r="1.0" fill="#6688CE" opacity="0.72"/>
<circle cx="543.4" cy="68.4" r="1.0" fill="#6688CE" opacity="0.72"/>
<circle cx="498.1" cy="127.5" r="1.0" fill="#6688CE" opacity="0.72"/>
<circle cx="573.7" cy="41.6" r="1.0" fill="#6688CE" opacity="0.72"/>
<circle cx="514.0" cy="98.3" r="1.0" fill="#6688CE" opacity="0.72"/>
<circle cx="554.0" cy="66.2" r="1.0" fill="#6688CE" opacity="0.72"/>
<circle cx="470.4" cy="143.1" r="1.0" fill="#6688CE" opacity="0.72"/>
<circle cx="467.9" cy="143.3" r="1.0" fill="#6688CE" opacity="0.72"/>
<circle cx="475.8" cy="131.8" r="1.0" fill="#6688CE" opacity="0.72"/>
<circle cx="570.9" cy="42.1" r="1.0" fill="#6688CE" opacity="0.72"/>
<circle cx="568.1" cy="36.1" r="1.0" fill="#6688CE" opacity="0.72"/>
<circle cx="468.5" cy="136.9" r="1.0" fill="#6688CE" opacity="0.72"/>
<circle cx="569.9" cy="33.6" r="1.0" fill="#6688CE" opacity="0.72"/>
<circle cx="483.1" cy="130.1" r="1.0" fill="#6688CE" opacity="0.72"/>
<circle cx="476.4" cy="134.3" r="1.0" fill="#6688CE" opacity="0.72"/>
<circle cx="461.6" cy="144.6" r="1.0" fill="#6688CE" opacity="0.72"/>
<circle cx="552.1" cy="53.6" r="1.0" fill="#6688CE" opacity="0.72"/>
<circle cx="478.1" cy="131.8" r="1.0" fill="#6688CE" opacity="0.72"/>
<circle cx="567.5" cy="40.9" r="1.0" fill="#6688CE" opacity="0.72"/>
<circle cx="464.2" cy="141.2" r="1.0" fill="#6688CE" opacity="0.72"/>
<circle cx="572.1" cy="47.8" r="1.0" fill="#6688CE" opacity="0.72"/>
<circle cx="491.9" cy="119.5" r="1.0" fill="#6688CE" opacity="0.72"/>
<circle cx="469.7" cy="138.7" r="1.0" fill="#6688CE" opacity="0.72"/>
<circle cx="466.9" cy="139.3" r="1.0" fill="#6688CE" opacity="0.72"/>
<circle cx="470.0" cy="137.5" r="1.0" fill="#6688CE" opacity="0.72"/>
<circle cx="522.2" cy="79.1" r="1.0" fill="#6688CE" opacity="0.72"/>
<circle cx="460.4" cy="146.9" r="1.0" fill="#6688CE" opacity="0.72"/>
<circle cx="512.0" cy="120.3" r="1.0" fill="#6688CE" opacity="0.72"/>
<circle cx="563.7" cy="46.0" r="1.0" fill="#6688CE" opacity="0.72"/>
<circle cx="530.0" cy="95.6" r="1.0" fill="#6688CE" opacity="0.72"/>
<circle cx="461.3" cy="143.1" r="1.0" fill="#6688CE" opacity="0.72"/>
<circle cx="465.2" cy="148.0" r="1.0" fill="#6688CE" opacity="0.72"/>
<circle cx="460.8" cy="147.2" r="1.0" fill="#6688CE" opacity="0.72"/>
<circle cx="464.9" cy="141.4" r="1.0" fill="#6688CE" opacity="0.72"/>
<circle cx="509.6" cy="111.5" r="1.0" fill="#6688CE" opacity="0.72"/>
<circle cx="567.4" cy="45.3" r="1.0" fill="#6688CE" opacity="0.72"/>
<circle cx="501.0" cy="126.6" r="1.0" fill="#6688CE" opacity="0.72"/>
<circle cx="464.2" cy="146.7" r="1.0" fill="#6688CE" opacity="0.72"/>
<circle cx="502.2" cy="114.6" r="1.0" fill="#6688CE" opacity="0.72"/>
<circle cx="461.3" cy="147.9" r="1.0" fill="#6688CE" opacity="0.72"/>
<circle cx="499.3" cy="108.6" r="1.0" fill="#6688CE" opacity="0.72"/>
<circle cx="569.6" cy="46.2" r="1.0" fill="#6688CE" opacity="0.72"/>
<circle cx="503.4" cy="108.1" r="1.0" fill="#6688CE" opacity="0.72"/>
<circle cx="466.8" cy="140.4" r="1.0" fill="#6688CE" opacity="0.72"/>
<circle cx="566.9" cy="31.2" r="1.0" fill="#6688CE" opacity="0.72"/>
<circle cx="547.1" cy="61.0" r="1.0" fill="#6688CE" opacity="0.72"/>
<circle cx="504.8" cy="128.4" r="1.0" fill="#6688CE" opacity="0.72"/>
<circle cx="469.5" cy="142.2" r="1.0" fill="#6688CE" opacity="0.72"/>
<circle cx="566.3" cy="45.4" r="1.0" fill="#6688CE" opacity="0.72"/>
<circle cx="475.7" cy="135.1" r="1.0" fill="#6688CE" opacity="0.72"/>
<circle cx="505.6" cy="116.3" r="1.0" fill="#6688CE" opacity="0.72"/>
<circle cx="551.6" cy="49.5" r="1.0" fill="#6688CE" opacity="0.72"/>
<circle cx="474.9" cy="135.3" r="1.0" fill="#6688CE" opacity="0.72"/>
<circle cx="554.3" cy="50.5" r="1.0" fill="#6688CE" opacity="0.72"/>
<circle cx="525.0" cy="102.3" r="1.0" fill="#6688CE" opacity="0.72"/>
<circle cx="469.5" cy="136.0" r="1.0" fill="#6688CE" opacity="0.72"/>
<circle cx="553.3" cy="46.6" r="1.0" fill="#6688CE" opacity="0.72"/>
<circle cx="506.2" cy="112.8" r="1.0" fill="#6688CE" opacity="0.72"/>
<circle cx="569.2" cy="37.6" r="1.0" fill="#6688CE" opacity="0.72"/>
<circle cx="566.3" cy="49.3" r="1.0" fill="#6688CE" opacity="0.72"/>
<circle cx="553.2" cy="39.4" r="1.0" fill="#6688CE" opacity="0.72"/>
<circle cx="467.9" cy="148.0" r="1.0" fill="#6688CE" opacity="0.72"/>
<circle cx="550.3" cy="70.9" r="1.0" fill="#6688CE" opacity="0.72"/>
<circle cx="464.3" cy="144.7" r="1.0" fill="#6688CE" opacity="0.72"/>
<circle cx="466.0" cy="141.4" r="1.0" fill="#6688CE" opacity="0.72"/>
<circle cx="540.0" cy="83.2" r="1.0" fill="#6688CE" opacity="0.72"/>
<circle cx="570.8" cy="36.9" r="1.0" fill="#6688CE" opacity="0.72"/>
<circle cx="544.6" cy="68.9" r="1.0" fill="#6688CE" opacity="0.72"/>
<circle cx="565.5" cy="54.9" r="1.0" fill="#6688CE" opacity="0.72"/>
<circle cx="574.4" cy="40.8" r="1.0" fill="#6688CE" opacity="0.72"/>
<circle cx="460.5" cy="145.9" r="1.0" fill="#6688CE" opacity="0.72"/>
<circle cx="548.6" cy="56.1" r="1.0" fill="#6688CE" opacity="0.72"/>
<circle cx="540.8" cy="77.0" r="1.0" fill="#6688CE" opacity="0.72"/>
<circle cx="467.3" cy="148.0" r="1.0" fill="#6688CE" opacity="0.72"/>
<circle cx="462.5" cy="143.9" r="1.0" fill="#6688CE" opacity="0.72"/>
<circle cx="484.1" cy="125.3" r="1.0" fill="#6688CE" opacity="0.72"/>
<circle cx="550.3" cy="73.0" r="1.0" fill="#6688CE" opacity="0.72"/>
<circle cx="473.1" cy="132.8" r="1.0" fill="#6688CE" opacity="0.72"/>
<circle cx="467.3" cy="148.0" r="1.0" fill="#6688CE" opacity="0.72"/>
<circle cx="481.3" cy="127.1" r="1.0" fill="#6688CE" opacity="0.72"/>
<circle cx="524.5" cy="101.2" r="1.0" fill="#6688CE" opacity="0.72"/>
<circle cx="463.0" cy="145.5" r="1.0" fill="#6688CE" opacity="0.72"/>
<circle cx="516.5" cy="96.2" r="1.0" fill="#6688CE" opacity="0.72"/>
<circle cx="499.6" cy="113.2" r="1.0" fill="#6688CE" opacity="0.72"/>
<circle cx="519.3" cy="115.4" r="1.0" fill="#6688CE" opacity="0.72"/>
<circle cx="464.9" cy="145.1" r="1.0" fill="#6688CE" opacity="0.72"/>
<circle cx="521.2" cy="118.1" r="1.0" fill="#6688CE" opacity="0.72"/>
<circle cx="565.1" cy="43.8" r="1.0" fill="#6688CE" opacity="0.72"/>
<circle cx="515.5" cy="111.5" r="1.0" fill="#6688CE" opacity="0.72"/>
<circle cx="569.9" cy="51.0" r="1.0" fill="#6688CE" opacity="0.72"/>
<circle cx="519.1" cy="104.5" r="1.0" fill="#6688CE" opacity="0.72"/>
<circle cx="572.8" cy="42.2" r="1.0" fill="#6688CE" opacity="0.72"/>
<circle cx="468.4" cy="144.7" r="1.0" fill="#6688CE" opacity="0.72"/>
<circle cx="495.4" cy="112.8" r="1.0" fill="#6688CE" opacity="0.72"/>
<circle cx="492.6" cy="119.3" r="1.0" fill="#6688CE" opacity="0.72"/>
<circle cx="559.3" cy="54.0" r="1.0" fill="#6688CE" opacity="0.72"/>
<circle cx="547.2" cy="65.6" r="1.0" fill="#6688CE" opacity="0.72"/>
<circle cx="471.5" cy="138.7" r="1.0" fill="#6688CE" opacity="0.72"/>
<circle cx="485.2" cy="134.4" r="1.0" fill="#6688CE" opacity="0.72"/>
<circle cx="548.6" cy="58.4" r="1.0" fill="#6688CE" opacity="0.72"/>
<circle cx="525.3" cy="95.2" r="1.0" fill="#6688CE" opacity="0.72"/>
<circle cx="564.6" cy="49.8" r="1.0" fill="#6688CE" opacity="0.72"/>
<circle cx="486.3" cy="130.4" r="1.0" fill="#6688CE" opacity="0.72"/>
<line x1="455.53" y1="152.07" x2="578.20" y2="29.40" stroke="#EE2C2C" stroke-width="1.3" stroke-dasharray="4,3.6"/>
<line x1="454.80" y1="26.50" x2="454.80" y2="153.60" stroke="#111" stroke-width="1.0"/>
<line x1="454.30" y1="153.10" x2="584.70" y2="153.10" stroke="#111" stroke-width="1.0"/>
<line x1="453.10" y1="148.50" x2="454.80" y2="148.50" stroke="#111" stroke-width="0.6"/>
<text transform="translate(452.20 152.00) scale(1 1.08)" font-size="9.1" text-anchor="end" fill="#333" stroke="#333" stroke-width="0.12">0</text>
<line x1="453.10" y1="118.72" x2="454.80" y2="118.72" stroke="#111" stroke-width="0.6"/>
<text transform="translate(452.20 122.22) scale(1 1.08)" font-size="9.1" text-anchor="end" fill="#333" stroke="#333" stroke-width="0.12">25</text>
<line x1="453.10" y1="88.95" x2="454.80" y2="88.95" stroke="#111" stroke-width="0.6"/>
<text transform="translate(452.20 92.45) scale(1 1.08)" font-size="9.1" text-anchor="end" fill="#333" stroke="#333" stroke-width="0.12">50</text>
<line x1="453.10" y1="59.17" x2="454.80" y2="59.17" stroke="#111" stroke-width="0.6"/>
<text transform="translate(452.20 62.67) scale(1 1.08)" font-size="9.1" text-anchor="end" fill="#333" stroke="#333" stroke-width="0.12">75</text>
<line x1="453.10" y1="29.40" x2="454.80" y2="29.40" stroke="#111" stroke-width="0.6"/>
<text transform="translate(452.20 32.90) scale(1 1.08)" font-size="9.1" text-anchor="end" fill="#333" stroke="#333" stroke-width="0.12">100</text>
<line x1="459.10" y1="153.10" x2="459.10" y2="154.80" stroke="#111" stroke-width="0.6"/>
<text transform="translate(459.40 162.10) scale(1 1.08)" font-size="9.1" text-anchor="middle" fill="#333" stroke="#333" stroke-width="0.12">0</text>
<line x1="488.88" y1="153.10" x2="488.88" y2="154.80" stroke="#111" stroke-width="0.6"/>
<text transform="translate(489.18 162.10) scale(1 1.08)" font-size="9.1" text-anchor="middle" fill="#333" stroke="#333" stroke-width="0.12">25</text>
<line x1="518.65" y1="153.10" x2="518.65" y2="154.80" stroke="#111" stroke-width="0.6"/>
<text transform="translate(518.95 162.10) scale(1 1.08)" font-size="9.1" text-anchor="middle" fill="#333" stroke="#333" stroke-width="0.12">50</text>
<line x1="548.43" y1="153.10" x2="548.43" y2="154.80" stroke="#111" stroke-width="0.6"/>
<text transform="translate(548.73 162.10) scale(1 1.08)" font-size="9.1" text-anchor="middle" fill="#333" stroke="#333" stroke-width="0.12">75</text>
<line x1="578.20" y1="153.10" x2="578.20" y2="154.80" stroke="#111" stroke-width="0.6"/>
<text transform="translate(578.50 162.10) scale(1 1.08)" font-size="9.1" text-anchor="middle" fill="#333" stroke="#333" stroke-width="0.12">100</text>
<text x="459.20" y="21.80" font-size="9.8" text-anchor="start" fill="#000" textLength="42.0" lengthAdjust="spacingAndGlyphs">r<tspan font-size="5.5" dy="-3.3">2</tspan><tspan dy="3.3"> = 0.930</tspan></text>
<text x="519.50" y="172.80" font-size="10.1" text-anchor="middle" fill="#000" textLength="103.3" lengthAdjust="spacingAndGlyphs">Uninfected ARPE19 #1</text>
<text x="433.20" y="90.50" font-size="10.1" text-anchor="middle" fill="#000" textLength="69.3" lengthAdjust="spacingAndGlyphs" transform="rotate(-90 433.20 90.50)">HSV&#8722;1 6 hpi #1</text>
<circle cx="542.4" cy="260.1" r="1.0" fill="#6688CE" opacity="0.72"/>
<circle cx="501.8" cy="285.7" r="1.0" fill="#6688CE" opacity="0.72"/>
<circle cx="542.8" cy="266.5" r="1.0" fill="#6688CE" opacity="0.72"/>
<circle cx="488.6" cy="298.3" r="1.0" fill="#6688CE" opacity="0.72"/>
<circle cx="461.1" cy="321.9" r="1.0" fill="#6688CE" opacity="0.72"/>
<circle cx="468.8" cy="317.5" r="1.0" fill="#6688CE" opacity="0.72"/>
<circle cx="527.3" cy="240.5" r="1.0" fill="#6688CE" opacity="0.72"/>
<circle cx="471.2" cy="314.5" r="1.0" fill="#6688CE" opacity="0.72"/>
<circle cx="488.8" cy="298.4" r="1.0" fill="#6688CE" opacity="0.72"/>
<circle cx="466.0" cy="312.4" r="1.0" fill="#6688CE" opacity="0.72"/>
<circle cx="536.2" cy="261.3" r="1.0" fill="#6688CE" opacity="0.72"/>
<circle cx="572.4" cy="202.4" r="1.0" fill="#6688CE" opacity="0.72"/>
<circle cx="545.6" cy="249.6" r="1.0" fill="#6688CE" opacity="0.72"/>
<circle cx="460.3" cy="320.1" r="1.0" fill="#6688CE" opacity="0.72"/>
<circle cx="526.3" cy="248.9" r="1.0" fill="#6688CE" opacity="0.72"/>
<circle cx="495.8" cy="292.9" r="1.0" fill="#6688CE" opacity="0.72"/>
<circle cx="553.7" cy="226.0" r="1.0" fill="#6688CE" opacity="0.72"/>
<circle cx="471.8" cy="309.3" r="1.0" fill="#6688CE" opacity="0.72"/>
<circle cx="540.3" cy="242.6" r="1.0" fill="#6688CE" opacity="0.72"/>
<circle cx="462.3" cy="322.4" r="1.0" fill="#6688CE" opacity="0.72"/>
<circle cx="489.3" cy="297.2" r="1.0" fill="#6688CE" opacity="0.72"/>
<circle cx="491.9" cy="322.4" r="1.0" fill="#6688CE" opacity="0.72"/>
<circle cx="460.6" cy="322.4" r="1.0" fill="#6688CE" opacity="0.72"/>
<circle cx="469.4" cy="313.0" r="1.0" fill="#6688CE" opacity="0.72"/>
<circle cx="526.7" cy="259.4" r="1.0" fill="#6688CE" opacity="0.72"/>
<circle cx="540.6" cy="252.3" r="1.0" fill="#6688CE" opacity="0.72"/>
<circle cx="524.0" cy="278.4" r="1.0" fill="#6688CE" opacity="0.72"/>
<circle cx="488.6" cy="304.6" r="1.0" fill="#6688CE" opacity="0.72"/>
<circle cx="502.3" cy="279.7" r="1.0" fill="#6688CE" opacity="0.72"/>
<circle cx="494.9" cy="300.1" r="1.0" fill="#6688CE" opacity="0.72"/>
<circle cx="464.2" cy="322.2" r="1.0" fill="#6688CE" opacity="0.72"/>
<circle cx="517.9" cy="277.7" r="1.0" fill="#6688CE" opacity="0.72"/>
<circle cx="539.1" cy="243.7" r="1.0" fill="#6688CE" opacity="0.72"/>
<circle cx="552.6" cy="249.7" r="1.0" fill="#6688CE" opacity="0.72"/>
<circle cx="534.6" cy="253.3" r="1.0" fill="#6688CE" opacity="0.72"/>
<circle cx="550.2" cy="242.9" r="1.0" fill="#6688CE" opacity="0.72"/>
<circle cx="556.2" cy="233.7" r="1.0" fill="#6688CE" opacity="0.72"/>
<circle cx="530.0" cy="263.2" r="1.0" fill="#6688CE" opacity="0.72"/>
<circle cx="506.1" cy="298.2" r="1.0" fill="#6688CE" opacity="0.72"/>
<circle cx="530.7" cy="269.4" r="1.0" fill="#6688CE" opacity="0.72"/>
<circle cx="515.1" cy="284.7" r="1.0" fill="#6688CE" opacity="0.72"/>
<circle cx="507.4" cy="289.6" r="1.0" fill="#6688CE" opacity="0.72"/>
<circle cx="463.4" cy="320.7" r="1.0" fill="#6688CE" opacity="0.72"/>
<circle cx="512.0" cy="302.4" r="1.0" fill="#6688CE" opacity="0.72"/>
<circle cx="460.3" cy="322.4" r="1.0" fill="#6688CE" opacity="0.72"/>
<circle cx="570.2" cy="225.1" r="1.0" fill="#6688CE" opacity="0.72"/>
<circle cx="464.2" cy="320.3" r="1.0" fill="#6688CE" opacity="0.72"/>
<circle cx="546.4" cy="243.1" r="1.0" fill="#6688CE" opacity="0.72"/>
<circle cx="537.3" cy="252.9" r="1.0" fill="#6688CE" opacity="0.72"/>
<circle cx="559.5" cy="234.8" r="1.0" fill="#6688CE" opacity="0.72"/>
<circle cx="552.7" cy="249.8" r="1.0" fill="#6688CE" opacity="0.72"/>
<circle cx="531.9" cy="253.4" r="1.0" fill="#6688CE" opacity="0.72"/>
<circle cx="549.8" cy="247.0" r="1.0" fill="#6688CE" opacity="0.72"/>
<circle cx="467.3" cy="314.5" r="1.0" fill="#6688CE" opacity="0.72"/>
<circle cx="463.6" cy="314.9" r="1.0" fill="#6688CE" opacity="0.72"/>
<circle cx="536.5" cy="252.8" r="1.0" fill="#6688CE" opacity="0.72"/>
<circle cx="565.8" cy="222.7" r="1.0" fill="#6688CE" opacity="0.72"/>
<circle cx="537.5" cy="252.1" r="1.0" fill="#6688CE" opacity="0.72"/>
<circle cx="538.4" cy="257.2" r="1.0" fill="#6688CE" opacity="0.72"/>
<circle cx="515.7" cy="268.8" r="1.0" fill="#6688CE" opacity="0.72"/>
<circle cx="461.2" cy="319.6" r="1.0" fill="#6688CE" opacity="0.72"/>
<circle cx="474.2" cy="305.9" r="1.0" fill="#6688CE" opacity="0.72"/>
<circle cx="550.0" cy="259.4" r="1.0" fill="#6688CE" opacity="0.72"/>
<circle cx="468.7" cy="319.6" r="1.0" fill="#6688CE" opacity="0.72"/>
<circle cx="469.8" cy="314.1" r="1.0" fill="#6688CE" opacity="0.72"/>
<circle cx="460.8" cy="321.8" r="1.0" fill="#6688CE" opacity="0.72"/>
<circle cx="465.6" cy="319.5" r="1.0" fill="#6688CE" opacity="0.72"/>
<circle cx="473.0" cy="313.5" r="1.0" fill="#6688CE" opacity="0.72"/>
<circle cx="541.8" cy="264.6" r="1.0" fill="#6688CE" opacity="0.72"/>
<circle cx="540.2" cy="269.3" r="1.0" fill="#6688CE" opacity="0.72"/>
<circle cx="528.1" cy="264.6" r="1.0" fill="#6688CE" opacity="0.72"/>
<circle cx="467.2" cy="317.7" r="1.0" fill="#6688CE" opacity="0.72"/>
<circle cx="571.4" cy="218.0" r="1.0" fill="#6688CE" opacity="0.72"/>
<circle cx="551.9" cy="248.6" r="1.0" fill="#6688CE" opacity="0.72"/>
<circle cx="462.9" cy="319.3" r="1.0" fill="#6688CE" opacity="0.72"/>
<circle cx="465.1" cy="317.7" r="1.0" fill="#6688CE" opacity="0.72"/>
<circle cx="538.2" cy="229.1" r="1.0" fill="#6688CE" opacity="0.72"/>
<circle cx="470.4" cy="315.4" r="1.0" fill="#6688CE" opacity="0.72"/>
<circle cx="523.8" cy="267.3" r="1.0" fill="#6688CE" opacity="0.72"/>
<circle cx="506.6" cy="270.6" r="1.0" fill="#6688CE" opacity="0.72"/>
<circle cx="473.6" cy="317.6" r="1.0" fill="#6688CE" opacity="0.72"/>
<circle cx="569.2" cy="221.3" r="1.0" fill="#6688CE" opacity="0.72"/>
<circle cx="543.6" cy="252.9" r="1.0" fill="#6688CE" opacity="0.72"/>
<circle cx="558.9" cy="218.7" r="1.0" fill="#6688CE" opacity="0.72"/>
<circle cx="513.8" cy="260.1" r="1.0" fill="#6688CE" opacity="0.72"/>
<circle cx="476.3" cy="313.3" r="1.0" fill="#6688CE" opacity="0.72"/>
<circle cx="466.0" cy="320.1" r="1.0" fill="#6688CE" opacity="0.72"/>
<circle cx="571.0" cy="208.0" r="1.0" fill="#6688CE" opacity="0.72"/>
<circle cx="462.6" cy="319.4" r="1.0" fill="#6688CE" opacity="0.72"/>
<circle cx="489.9" cy="309.6" r="1.0" fill="#6688CE" opacity="0.72"/>
<circle cx="505.9" cy="292.6" r="1.0" fill="#6688CE" opacity="0.72"/>
<circle cx="508.2" cy="298.6" r="1.0" fill="#6688CE" opacity="0.72"/>
<circle cx="493.8" cy="297.3" r="1.0" fill="#6688CE" opacity="0.72"/>
<circle cx="510.3" cy="276.3" r="1.0" fill="#6688CE" opacity="0.72"/>
<circle cx="515.5" cy="284.0" r="1.0" fill="#6688CE" opacity="0.72"/>
<circle cx="477.1" cy="309.4" r="1.0" fill="#6688CE" opacity="0.72"/>
<circle cx="574.5" cy="214.4" r="1.0" fill="#6688CE" opacity="0.72"/>
<circle cx="465.1" cy="317.0" r="1.0" fill="#6688CE" opacity="0.72"/>
<circle cx="463.1" cy="316.3" r="1.0" fill="#6688CE" opacity="0.72"/>
<circle cx="524.1" cy="259.9" r="1.0" fill="#6688CE" opacity="0.72"/>
<circle cx="522.7" cy="276.7" r="1.0" fill="#6688CE" opacity="0.72"/>
<circle cx="551.7" cy="238.2" r="1.0" fill="#6688CE" opacity="0.72"/>
<circle cx="542.9" cy="237.9" r="1.0" fill="#6688CE" opacity="0.72"/>
<circle cx="510.9" cy="285.1" r="1.0" fill="#6688CE" opacity="0.72"/>
<circle cx="514.7" cy="278.7" r="1.0" fill="#6688CE" opacity="0.72"/>
<circle cx="487.3" cy="297.4" r="1.0" fill="#6688CE" opacity="0.72"/>
<circle cx="466.1" cy="317.8" r="1.0" fill="#6688CE" opacity="0.72"/>
<circle cx="460.9" cy="321.8" r="1.0" fill="#6688CE" opacity="0.72"/>
<circle cx="513.6" cy="275.9" r="1.0" fill="#6688CE" opacity="0.72"/>
<circle cx="569.2" cy="213.5" r="1.0" fill="#6688CE" opacity="0.72"/>
<circle cx="569.1" cy="212.5" r="1.0" fill="#6688CE" opacity="0.72"/>
<circle cx="491.8" cy="286.6" r="1.0" fill="#6688CE" opacity="0.72"/>
<circle cx="500.3" cy="301.3" r="1.0" fill="#6688CE" opacity="0.72"/>
<circle cx="481.8" cy="307.7" r="1.0" fill="#6688CE" opacity="0.72"/>
<circle cx="541.1" cy="257.8" r="1.0" fill="#6688CE" opacity="0.72"/>
<circle cx="466.5" cy="316.6" r="1.0" fill="#6688CE" opacity="0.72"/>
<circle cx="467.4" cy="317.7" r="1.0" fill="#6688CE" opacity="0.72"/>
<circle cx="565.7" cy="231.0" r="1.0" fill="#6688CE" opacity="0.72"/>
<circle cx="566.1" cy="226.7" r="1.0" fill="#6688CE" opacity="0.72"/>
<circle cx="574.6" cy="220.0" r="1.0" fill="#6688CE" opacity="0.72"/>
<circle cx="556.4" cy="233.0" r="1.0" fill="#6688CE" opacity="0.72"/>
<circle cx="563.1" cy="235.0" r="1.0" fill="#6688CE" opacity="0.72"/>
<circle cx="503.3" cy="285.8" r="1.0" fill="#6688CE" opacity="0.72"/>
<circle cx="485.9" cy="300.4" r="1.0" fill="#6688CE" opacity="0.72"/>
<circle cx="468.4" cy="315.9" r="1.0" fill="#6688CE" opacity="0.72"/>
<circle cx="562.2" cy="219.0" r="1.0" fill="#6688CE" opacity="0.72"/>
<circle cx="502.8" cy="291.6" r="1.0" fill="#6688CE" opacity="0.72"/>
<circle cx="551.7" cy="231.3" r="1.0" fill="#6688CE" opacity="0.72"/>
<circle cx="519.4" cy="294.0" r="1.0" fill="#6688CE" opacity="0.72"/>
<circle cx="464.6" cy="320.0" r="1.0" fill="#6688CE" opacity="0.72"/>
<circle cx="517.4" cy="285.5" r="1.0" fill="#6688CE" opacity="0.72"/>
<circle cx="574.3" cy="203.0" r="1.0" fill="#6688CE" opacity="0.72"/>
<circle cx="464.0" cy="320.3" r="1.0" fill="#6688CE" opacity="0.72"/>
<circle cx="466.6" cy="310.2" r="1.0" fill="#6688CE" opacity="0.72"/>
<circle cx="493.7" cy="281.5" r="1.0" fill="#6688CE" opacity="0.72"/>
<circle cx="472.3" cy="318.7" r="1.0" fill="#6688CE" opacity="0.72"/>
<circle cx="554.4" cy="227.4" r="1.0" fill="#6688CE" opacity="0.72"/>
<circle cx="506.6" cy="262.2" r="1.0" fill="#6688CE" opacity="0.72"/>
<circle cx="524.3" cy="262.8" r="1.0" fill="#6688CE" opacity="0.72"/>
<circle cx="462.6" cy="319.5" r="1.0" fill="#6688CE" opacity="0.72"/>
<circle cx="569.1" cy="229.0" r="1.0" fill="#6688CE" opacity="0.72"/>
<circle cx="547.3" cy="246.5" r="1.0" fill="#6688CE" opacity="0.72"/>
<circle cx="544.4" cy="254.4" r="1.0" fill="#6688CE" opacity="0.72"/>
<circle cx="487.6" cy="303.4" r="1.0" fill="#6688CE" opacity="0.72"/>
<circle cx="490.3" cy="304.3" r="1.0" fill="#6688CE" opacity="0.72"/>
<circle cx="528.1" cy="275.0" r="1.0" fill="#6688CE" opacity="0.72"/>
<circle cx="493.3" cy="279.3" r="1.0" fill="#6688CE" opacity="0.72"/>
<circle cx="486.4" cy="305.4" r="1.0" fill="#6688CE" opacity="0.72"/>
<circle cx="464.0" cy="315.8" r="1.0" fill="#6688CE" opacity="0.72"/>
<circle cx="460.7" cy="322.4" r="1.0" fill="#6688CE" opacity="0.72"/>
<circle cx="474.1" cy="305.0" r="1.0" fill="#6688CE" opacity="0.72"/>
<circle cx="532.2" cy="244.9" r="1.0" fill="#6688CE" opacity="0.72"/>
<circle cx="486.6" cy="286.0" r="1.0" fill="#6688CE" opacity="0.72"/>
<circle cx="498.8" cy="288.9" r="1.0" fill="#6688CE" opacity="0.72"/>
<circle cx="464.0" cy="319.6" r="1.0" fill="#6688CE" opacity="0.72"/>
<circle cx="518.6" cy="250.4" r="1.0" fill="#6688CE" opacity="0.72"/>
<circle cx="484.1" cy="301.2" r="1.0" fill="#6688CE" opacity="0.72"/>
<circle cx="467.0" cy="322.4" r="1.0" fill="#6688CE" opacity="0.72"/>
<circle cx="485.9" cy="303.6" r="1.0" fill="#6688CE" opacity="0.72"/>
<circle cx="560.3" cy="221.7" r="1.0" fill="#6688CE" opacity="0.72"/>
<circle cx="462.4" cy="318.4" r="1.0" fill="#6688CE" opacity="0.72"/>
<circle cx="470.0" cy="318.3" r="1.0" fill="#6688CE" opacity="0.72"/>
<circle cx="475.5" cy="310.5" r="1.0" fill="#6688CE" opacity="0.72"/>
<circle cx="483.2" cy="290.7" r="1.0" fill="#6688CE" opacity="0.72"/>
<circle cx="469.5" cy="317.4" r="1.0" fill="#6688CE" opacity="0.72"/>
<circle cx="574.1" cy="227.0" r="1.0" fill="#6688CE" opacity="0.72"/>
<circle cx="481.5" cy="297.0" r="1.0" fill="#6688CE" opacity="0.72"/>
<circle cx="564.7" cy="222.9" r="1.0" fill="#6688CE" opacity="0.72"/>
<circle cx="472.0" cy="311.7" r="1.0" fill="#6688CE" opacity="0.72"/>
<circle cx="544.6" cy="248.1" r="1.0" fill="#6688CE" opacity="0.72"/>
<circle cx="515.0" cy="286.2" r="1.0" fill="#6688CE" opacity="0.72"/>
<circle cx="469.6" cy="312.5" r="1.0" fill="#6688CE" opacity="0.72"/>
<circle cx="551.0" cy="243.8" r="1.0" fill="#6688CE" opacity="0.72"/>
<circle cx="463.2" cy="315.8" r="1.0" fill="#6688CE" opacity="0.72"/>
<circle cx="506.5" cy="295.1" r="1.0" fill="#6688CE" opacity="0.72"/>
<circle cx="463.6" cy="318.5" r="1.0" fill="#6688CE" opacity="0.72"/>
<circle cx="574.5" cy="227.5" r="1.0" fill="#6688CE" opacity="0.72"/>
<circle cx="461.3" cy="321.6" r="1.0" fill="#6688CE" opacity="0.72"/>
<circle cx="462.6" cy="318.8" r="1.0" fill="#6688CE" opacity="0.72"/>
<circle cx="573.9" cy="210.5" r="1.0" fill="#6688CE" opacity="0.72"/>
<circle cx="496.4" cy="275.2" r="1.0" fill="#6688CE" opacity="0.72"/>
<circle cx="486.3" cy="289.2" r="1.0" fill="#6688CE" opacity="0.72"/>
<circle cx="479.1" cy="303.4" r="1.0" fill="#6688CE" opacity="0.72"/>
<circle cx="478.0" cy="300.1" r="1.0" fill="#6688CE" opacity="0.72"/>
<circle cx="485.5" cy="296.9" r="1.0" fill="#6688CE" opacity="0.72"/>
<circle cx="518.7" cy="275.2" r="1.0" fill="#6688CE" opacity="0.72"/>
<circle cx="463.5" cy="316.7" r="1.0" fill="#6688CE" opacity="0.72"/>
<circle cx="553.3" cy="232.4" r="1.0" fill="#6688CE" opacity="0.72"/>
<circle cx="489.1" cy="307.1" r="1.0" fill="#6688CE" opacity="0.72"/>
<circle cx="472.4" cy="309.9" r="1.0" fill="#6688CE" opacity="0.72"/>
<circle cx="574.1" cy="197.7" r="1.0" fill="#6688CE" opacity="0.72"/>
<circle cx="534.6" cy="251.9" r="1.0" fill="#6688CE" opacity="0.72"/>
<circle cx="561.6" cy="236.3" r="1.0" fill="#6688CE" opacity="0.72"/>
<circle cx="535.3" cy="266.5" r="1.0" fill="#6688CE" opacity="0.72"/>
<circle cx="508.1" cy="288.1" r="1.0" fill="#6688CE" opacity="0.72"/>
<circle cx="549.3" cy="249.8" r="1.0" fill="#6688CE" opacity="0.72"/>
<circle cx="463.8" cy="315.8" r="1.0" fill="#6688CE" opacity="0.72"/>
<circle cx="564.3" cy="228.3" r="1.0" fill="#6688CE" opacity="0.72"/>
<circle cx="519.7" cy="273.2" r="1.0" fill="#6688CE" opacity="0.72"/>
<circle cx="509.8" cy="272.5" r="1.0" fill="#6688CE" opacity="0.72"/>
<circle cx="574.0" cy="219.3" r="1.0" fill="#6688CE" opacity="0.72"/>
<circle cx="555.3" cy="236.1" r="1.0" fill="#6688CE" opacity="0.72"/>
<circle cx="532.8" cy="277.8" r="1.0" fill="#6688CE" opacity="0.72"/>
<circle cx="546.1" cy="264.4" r="1.0" fill="#6688CE" opacity="0.72"/>
<circle cx="530.1" cy="279.4" r="1.0" fill="#6688CE" opacity="0.72"/>
<circle cx="464.8" cy="312.7" r="1.0" fill="#6688CE" opacity="0.72"/>
<circle cx="483.8" cy="319.9" r="1.0" fill="#6688CE" opacity="0.72"/>
<circle cx="556.3" cy="237.5" r="1.0" fill="#6688CE" opacity="0.72"/>
<circle cx="481.3" cy="302.8" r="1.0" fill="#6688CE" opacity="0.72"/>
<circle cx="502.5" cy="305.1" r="1.0" fill="#6688CE" opacity="0.72"/>
<circle cx="463.6" cy="317.6" r="1.0" fill="#6688CE" opacity="0.72"/>
<circle cx="554.3" cy="238.7" r="1.0" fill="#6688CE" opacity="0.72"/>
<circle cx="539.3" cy="259.9" r="1.0" fill="#6688CE" opacity="0.72"/>
<circle cx="552.1" cy="239.6" r="1.0" fill="#6688CE" opacity="0.72"/>
<circle cx="469.8" cy="309.4" r="1.0" fill="#6688CE" opacity="0.72"/>
<circle cx="474.7" cy="309.5" r="1.0" fill="#6688CE" opacity="0.72"/>
<circle cx="465.3" cy="322.4" r="1.0" fill="#6688CE" opacity="0.72"/>
<circle cx="469.7" cy="314.0" r="1.0" fill="#6688CE" opacity="0.72"/>
<circle cx="473.6" cy="312.5" r="1.0" fill="#6688CE" opacity="0.72"/>
<circle cx="505.5" cy="287.7" r="1.0" fill="#6688CE" opacity="0.72"/>
<circle cx="520.7" cy="274.4" r="1.0" fill="#6688CE" opacity="0.72"/>
<circle cx="545.5" cy="233.1" r="1.0" fill="#6688CE" opacity="0.72"/>
<circle cx="538.9" cy="244.9" r="1.0" fill="#6688CE" opacity="0.72"/>
<circle cx="490.6" cy="296.1" r="1.0" fill="#6688CE" opacity="0.72"/>
<circle cx="573.4" cy="219.3" r="1.0" fill="#6688CE" opacity="0.72"/>
<circle cx="506.4" cy="281.9" r="1.0" fill="#6688CE" opacity="0.72"/>
<circle cx="517.8" cy="287.8" r="1.0" fill="#6688CE" opacity="0.72"/>
<circle cx="482.9" cy="305.0" r="1.0" fill="#6688CE" opacity="0.72"/>
<circle cx="504.9" cy="283.8" r="1.0" fill="#6688CE" opacity="0.72"/>
<circle cx="486.0" cy="303.9" r="1.0" fill="#6688CE" opacity="0.72"/>
<circle cx="553.4" cy="243.6" r="1.0" fill="#6688CE" opacity="0.72"/>
<circle cx="461.8" cy="321.5" r="1.0" fill="#6688CE" opacity="0.72"/>
<circle cx="501.2" cy="306.5" r="1.0" fill="#6688CE" opacity="0.72"/>
<circle cx="517.5" cy="276.6" r="1.0" fill="#6688CE" opacity="0.72"/>
<circle cx="490.0" cy="306.0" r="1.0" fill="#6688CE" opacity="0.72"/>
<circle cx="500.8" cy="309.4" r="1.0" fill="#6688CE" opacity="0.72"/>
<circle cx="499.9" cy="289.0" r="1.0" fill="#6688CE" opacity="0.72"/>
<circle cx="493.0" cy="294.3" r="1.0" fill="#6688CE" opacity="0.72"/>
<circle cx="460.5" cy="321.9" r="1.0" fill="#6688CE" opacity="0.72"/>
<circle cx="526.9" cy="273.1" r="1.0" fill="#6688CE" opacity="0.72"/>
<circle cx="512.9" cy="286.6" r="1.0" fill="#6688CE" opacity="0.72"/>
<circle cx="557.2" cy="232.3" r="1.0" fill="#6688CE" opacity="0.72"/>
<circle cx="518.7" cy="287.4" r="1.0" fill="#6688CE" opacity="0.72"/>
<circle cx="534.2" cy="266.8" r="1.0" fill="#6688CE" opacity="0.72"/>
<circle cx="537.9" cy="245.8" r="1.0" fill="#6688CE" opacity="0.72"/>
<circle cx="522.6" cy="266.1" r="1.0" fill="#6688CE" opacity="0.72"/>
<circle cx="527.7" cy="253.7" r="1.0" fill="#6688CE" opacity="0.72"/>
<circle cx="554.8" cy="238.8" r="1.0" fill="#6688CE" opacity="0.72"/>
<circle cx="506.9" cy="282.9" r="1.0" fill="#6688CE" opacity="0.72"/>
<circle cx="495.5" cy="284.7" r="1.0" fill="#6688CE" opacity="0.72"/>
<circle cx="478.9" cy="312.2" r="1.0" fill="#6688CE" opacity="0.72"/>
<circle cx="564.4" cy="242.5" r="1.0" fill="#6688CE" opacity="0.72"/>
<circle cx="467.9" cy="313.8" r="1.0" fill="#6688CE" opacity="0.72"/>
<circle cx="537.8" cy="266.0" r="1.0" fill="#6688CE" opacity="0.72"/>
<circle cx="468.3" cy="317.9" r="1.0" fill="#6688CE" opacity="0.72"/>
<circle cx="464.6" cy="320.4" r="1.0" fill="#6688CE" opacity="0.72"/>
<circle cx="485.1" cy="309.8" r="1.0" fill="#6688CE" opacity="0.72"/>
<circle cx="459.9" cy="322.2" r="1.0" fill="#6688CE" opacity="0.72"/>
<circle cx="464.9" cy="313.2" r="1.0" fill="#6688CE" opacity="0.72"/>
<circle cx="558.8" cy="238.2" r="1.0" fill="#6688CE" opacity="0.72"/>
<circle cx="571.2" cy="205.3" r="1.0" fill="#6688CE" opacity="0.72"/>
<circle cx="509.4" cy="295.1" r="1.0" fill="#6688CE" opacity="0.72"/>
<circle cx="462.7" cy="317.5" r="1.0" fill="#6688CE" opacity="0.72"/>
<circle cx="543.1" cy="244.0" r="1.0" fill="#6688CE" opacity="0.72"/>
<circle cx="563.3" cy="217.3" r="1.0" fill="#6688CE" opacity="0.72"/>
<circle cx="553.2" cy="238.6" r="1.0" fill="#6688CE" opacity="0.72"/>
<circle cx="533.5" cy="262.0" r="1.0" fill="#6688CE" opacity="0.72"/>
<circle cx="527.2" cy="292.7" r="1.0" fill="#6688CE" opacity="0.72"/>
<circle cx="541.8" cy="254.4" r="1.0" fill="#6688CE" opacity="0.72"/>
<circle cx="528.7" cy="266.7" r="1.0" fill="#6688CE" opacity="0.72"/>
<circle cx="573.7" cy="225.8" r="1.0" fill="#6688CE" opacity="0.72"/>
<circle cx="514.9" cy="284.1" r="1.0" fill="#6688CE" opacity="0.72"/>
<circle cx="565.9" cy="214.0" r="1.0" fill="#6688CE" opacity="0.72"/>
<circle cx="558.9" cy="234.5" r="1.0" fill="#6688CE" opacity="0.72"/>
<circle cx="467.6" cy="316.7" r="1.0" fill="#6688CE" opacity="0.72"/>
<circle cx="460.6" cy="322.4" r="1.0" fill="#6688CE" opacity="0.72"/>
<circle cx="534.5" cy="264.8" r="1.0" fill="#6688CE" opacity="0.72"/>
<circle cx="469.4" cy="319.0" r="1.0" fill="#6688CE" opacity="0.72"/>
<circle cx="566.3" cy="213.2" r="1.0" fill="#6688CE" opacity="0.72"/>
<circle cx="499.3" cy="301.9" r="1.0" fill="#6688CE" opacity="0.72"/>
<circle cx="526.5" cy="277.0" r="1.0" fill="#6688CE" opacity="0.72"/>
<circle cx="489.3" cy="293.5" r="1.0" fill="#6688CE" opacity="0.72"/>
<circle cx="559.7" cy="233.5" r="1.0" fill="#6688CE" opacity="0.72"/>
<circle cx="529.6" cy="284.1" r="1.0" fill="#6688CE" opacity="0.72"/>
<circle cx="465.0" cy="321.6" r="1.0" fill="#6688CE" opacity="0.72"/>
<circle cx="550.7" cy="246.3" r="1.0" fill="#6688CE" opacity="0.72"/>
<circle cx="464.6" cy="321.2" r="1.0" fill="#6688CE" opacity="0.72"/>
<circle cx="471.3" cy="308.8" r="1.0" fill="#6688CE" opacity="0.72"/>
<circle cx="499.6" cy="303.5" r="1.0" fill="#6688CE" opacity="0.72"/>
<circle cx="462.6" cy="322.3" r="1.0" fill="#6688CE" opacity="0.72"/>
<circle cx="471.1" cy="322.4" r="1.0" fill="#6688CE" opacity="0.72"/>
<circle cx="467.2" cy="316.2" r="1.0" fill="#6688CE" opacity="0.72"/>
<circle cx="484.0" cy="309.2" r="1.0" fill="#6688CE" opacity="0.72"/>
<circle cx="561.5" cy="245.6" r="1.0" fill="#6688CE" opacity="0.72"/>
<circle cx="462.0" cy="319.2" r="1.0" fill="#6688CE" opacity="0.72"/>
<circle cx="460.4" cy="320.2" r="1.0" fill="#6688CE" opacity="0.72"/>
<circle cx="462.8" cy="320.9" r="1.0" fill="#6688CE" opacity="0.72"/>
<circle cx="463.5" cy="320.8" r="1.0" fill="#6688CE" opacity="0.72"/>
<circle cx="465.2" cy="317.3" r="1.0" fill="#6688CE" opacity="0.72"/>
<circle cx="551.6" cy="243.5" r="1.0" fill="#6688CE" opacity="0.72"/>
<circle cx="545.3" cy="243.5" r="1.0" fill="#6688CE" opacity="0.72"/>
<circle cx="463.5" cy="319.2" r="1.0" fill="#6688CE" opacity="0.72"/>
<circle cx="471.8" cy="310.9" r="1.0" fill="#6688CE" opacity="0.72"/>
<circle cx="468.3" cy="315.0" r="1.0" fill="#6688CE" opacity="0.72"/>
<circle cx="525.4" cy="268.9" r="1.0" fill="#6688CE" opacity="0.72"/>
<circle cx="500.8" cy="299.4" r="1.0" fill="#6688CE" opacity="0.72"/>
<circle cx="568.5" cy="215.5" r="1.0" fill="#6688CE" opacity="0.72"/>
<circle cx="509.3" cy="302.2" r="1.0" fill="#6688CE" opacity="0.72"/>
<circle cx="562.5" cy="216.1" r="1.0" fill="#6688CE" opacity="0.72"/>
<circle cx="462.8" cy="319.0" r="1.0" fill="#6688CE" opacity="0.72"/>
<circle cx="491.3" cy="322.4" r="1.0" fill="#6688CE" opacity="0.72"/>
<circle cx="472.3" cy="313.1" r="1.0" fill="#6688CE" opacity="0.72"/>
<circle cx="547.3" cy="249.0" r="1.0" fill="#6688CE" opacity="0.72"/>
<circle cx="510.4" cy="277.9" r="1.0" fill="#6688CE" opacity="0.72"/>
<circle cx="508.6" cy="297.3" r="1.0" fill="#6688CE" opacity="0.72"/>
<circle cx="538.2" cy="241.5" r="1.0" fill="#6688CE" opacity="0.72"/>
<circle cx="474.5" cy="305.7" r="1.0" fill="#6688CE" opacity="0.72"/>
<circle cx="471.2" cy="316.2" r="1.0" fill="#6688CE" opacity="0.72"/>
<circle cx="463.2" cy="322.4" r="1.0" fill="#6688CE" opacity="0.72"/>
<circle cx="515.1" cy="282.7" r="1.0" fill="#6688CE" opacity="0.72"/>
<circle cx="463.3" cy="316.6" r="1.0" fill="#6688CE" opacity="0.72"/>
<circle cx="513.0" cy="289.2" r="1.0" fill="#6688CE" opacity="0.72"/>
<circle cx="500.2" cy="274.7" r="1.0" fill="#6688CE" opacity="0.72"/>
<circle cx="552.6" cy="238.1" r="1.0" fill="#6688CE" opacity="0.72"/>
<circle cx="531.2" cy="265.1" r="1.0" fill="#6688CE" opacity="0.72"/>
<circle cx="462.8" cy="322.4" r="1.0" fill="#6688CE" opacity="0.72"/>
<circle cx="465.2" cy="316.7" r="1.0" fill="#6688CE" opacity="0.72"/>
<circle cx="467.0" cy="314.4" r="1.0" fill="#6688CE" opacity="0.72"/>
<circle cx="562.4" cy="221.3" r="1.0" fill="#6688CE" opacity="0.72"/>
<circle cx="565.6" cy="220.6" r="1.0" fill="#6688CE" opacity="0.72"/>
<circle cx="529.1" cy="283.3" r="1.0" fill="#6688CE" opacity="0.72"/>
<circle cx="568.9" cy="216.1" r="1.0" fill="#6688CE" opacity="0.72"/>
<circle cx="474.0" cy="306.3" r="1.0" fill="#6688CE" opacity="0.72"/>
<circle cx="461.3" cy="320.6" r="1.0" fill="#6688CE" opacity="0.72"/>
<circle cx="491.5" cy="299.8" r="1.0" fill="#6688CE" opacity="0.72"/>
<circle cx="508.5" cy="306.2" r="1.0" fill="#6688CE" opacity="0.72"/>
<circle cx="554.4" cy="230.0" r="1.0" fill="#6688CE" opacity="0.72"/>
<circle cx="471.5" cy="302.2" r="1.0" fill="#6688CE" opacity="0.72"/>
<circle cx="495.7" cy="310.0" r="1.0" fill="#6688CE" opacity="0.72"/>
<circle cx="463.9" cy="321.5" r="1.0" fill="#6688CE" opacity="0.72"/>
<circle cx="547.2" cy="229.6" r="1.0" fill="#6688CE" opacity="0.72"/>
<circle cx="568.4" cy="223.9" r="1.0" fill="#6688CE" opacity="0.72"/>
<circle cx="476.2" cy="301.7" r="1.0" fill="#6688CE" opacity="0.72"/>
<circle cx="484.5" cy="298.6" r="1.0" fill="#6688CE" opacity="0.72"/>
<circle cx="462.8" cy="318.3" r="1.0" fill="#6688CE" opacity="0.72"/>
<circle cx="551.3" cy="234.0" r="1.0" fill="#6688CE" opacity="0.72"/>
<circle cx="464.0" cy="321.5" r="1.0" fill="#6688CE" opacity="0.72"/>
<circle cx="517.9" cy="257.1" r="1.0" fill="#6688CE" opacity="0.72"/>
<circle cx="495.1" cy="292.8" r="1.0" fill="#6688CE" opacity="0.72"/>
<circle cx="502.7" cy="305.8" r="1.0" fill="#6688CE" opacity="0.72"/>
<circle cx="473.3" cy="322.4" r="1.0" fill="#6688CE" opacity="0.72"/>
<circle cx="534.4" cy="258.4" r="1.0" fill="#6688CE" opacity="0.72"/>
<circle cx="463.2" cy="319.8" r="1.0" fill="#6688CE" opacity="0.72"/>
<circle cx="499.9" cy="290.3" r="1.0" fill="#6688CE" opacity="0.72"/>
<circle cx="468.8" cy="316.0" r="1.0" fill="#6688CE" opacity="0.72"/>
<circle cx="543.6" cy="246.8" r="1.0" fill="#6688CE" opacity="0.72"/>
<circle cx="567.1" cy="215.4" r="1.0" fill="#6688CE" opacity="0.72"/>
<circle cx="467.8" cy="310.2" r="1.0" fill="#6688CE" opacity="0.72"/>
<circle cx="548.9" cy="234.6" r="1.0" fill="#6688CE" opacity="0.72"/>
<circle cx="467.2" cy="321.0" r="1.0" fill="#6688CE" opacity="0.72"/>
<circle cx="510.6" cy="277.6" r="1.0" fill="#6688CE" opacity="0.72"/>
<circle cx="487.6" cy="306.0" r="1.0" fill="#6688CE" opacity="0.72"/>
<circle cx="574.7" cy="214.6" r="1.0" fill="#6688CE" opacity="0.72"/>
<circle cx="519.9" cy="281.3" r="1.0" fill="#6688CE" opacity="0.72"/>
<circle cx="472.5" cy="315.1" r="1.0" fill="#6688CE" opacity="0.72"/>
<circle cx="486.3" cy="302.9" r="1.0" fill="#6688CE" opacity="0.72"/>
<circle cx="461.5" cy="320.0" r="1.0" fill="#6688CE" opacity="0.72"/>
<circle cx="567.3" cy="209.4" r="1.0" fill="#6688CE" opacity="0.72"/>
<circle cx="518.5" cy="286.9" r="1.0" fill="#6688CE" opacity="0.72"/>
<circle cx="469.7" cy="317.0" r="1.0" fill="#6688CE" opacity="0.72"/>
<circle cx="542.8" cy="247.3" r="1.0" fill="#6688CE" opacity="0.72"/>
<circle cx="553.3" cy="230.2" r="1.0" fill="#6688CE" opacity="0.72"/>
<circle cx="532.0" cy="264.4" r="1.0" fill="#6688CE" opacity="0.72"/>
<circle cx="467.9" cy="313.5" r="1.0" fill="#6688CE" opacity="0.72"/>
<circle cx="518.6" cy="274.7" r="1.0" fill="#6688CE" opacity="0.72"/>
<circle cx="469.9" cy="313.6" r="1.0" fill="#6688CE" opacity="0.72"/>
<circle cx="467.2" cy="315.1" r="1.0" fill="#6688CE" opacity="0.72"/>
<circle cx="461.6" cy="321.5" r="1.0" fill="#6688CE" opacity="0.72"/>
<circle cx="465.8" cy="315.9" r="1.0" fill="#6688CE" opacity="0.72"/>
<circle cx="472.6" cy="308.6" r="1.0" fill="#6688CE" opacity="0.72"/>
<circle cx="570.0" cy="211.9" r="1.0" fill="#6688CE" opacity="0.72"/>
<circle cx="495.7" cy="292.8" r="1.0" fill="#6688CE" opacity="0.72"/>
<circle cx="512.5" cy="281.3" r="1.0" fill="#6688CE" opacity="0.72"/>
<circle cx="496.8" cy="315.9" r="1.0" fill="#6688CE" opacity="0.72"/>
<circle cx="493.1" cy="316.3" r="1.0" fill="#6688CE" opacity="0.72"/>
<circle cx="561.0" cy="220.0" r="1.0" fill="#6688CE" opacity="0.72"/>
<circle cx="549.6" cy="233.7" r="1.0" fill="#6688CE" opacity="0.72"/>
<circle cx="463.6" cy="322.4" r="1.0" fill="#6688CE" opacity="0.72"/>
<circle cx="490.8" cy="308.8" r="1.0" fill="#6688CE" opacity="0.72"/>
<circle cx="556.9" cy="231.1" r="1.0" fill="#6688CE" opacity="0.72"/>
<circle cx="499.8" cy="281.0" r="1.0" fill="#6688CE" opacity="0.72"/>
<circle cx="492.4" cy="307.4" r="1.0" fill="#6688CE" opacity="0.72"/>
<circle cx="567.4" cy="222.6" r="1.0" fill="#6688CE" opacity="0.72"/>
<circle cx="461.5" cy="321.0" r="1.0" fill="#6688CE" opacity="0.72"/>
<circle cx="560.6" cy="216.8" r="1.0" fill="#6688CE" opacity="0.72"/>
<circle cx="520.2" cy="271.2" r="1.0" fill="#6688CE" opacity="0.72"/>
<circle cx="524.7" cy="273.4" r="1.0" fill="#6688CE" opacity="0.72"/>
<circle cx="469.8" cy="316.2" r="1.0" fill="#6688CE" opacity="0.72"/>
<circle cx="476.5" cy="312.8" r="1.0" fill="#6688CE" opacity="0.72"/>
<circle cx="519.6" cy="262.5" r="1.0" fill="#6688CE" opacity="0.72"/>
<circle cx="469.7" cy="316.2" r="1.0" fill="#6688CE" opacity="0.72"/>
<circle cx="462.4" cy="318.8" r="1.0" fill="#6688CE" opacity="0.72"/>
<circle cx="479.9" cy="316.8" r="1.0" fill="#6688CE" opacity="0.72"/>
<circle cx="497.8" cy="301.3" r="1.0" fill="#6688CE" opacity="0.72"/>
<circle cx="564.6" cy="217.2" r="1.0" fill="#6688CE" opacity="0.72"/>
<circle cx="463.3" cy="321.5" r="1.0" fill="#6688CE" opacity="0.72"/>
<circle cx="497.7" cy="300.7" r="1.0" fill="#6688CE" opacity="0.72"/>
<circle cx="565.2" cy="228.0" r="1.0" fill="#6688CE" opacity="0.72"/>
<circle cx="464.0" cy="318.8" r="1.0" fill="#6688CE" opacity="0.72"/>
<circle cx="477.1" cy="307.2" r="1.0" fill="#6688CE" opacity="0.72"/>
<circle cx="564.1" cy="217.2" r="1.0" fill="#6688CE" opacity="0.72"/>
<circle cx="571.5" cy="222.2" r="1.0" fill="#6688CE" opacity="0.72"/>
<circle cx="517.5" cy="278.3" r="1.0" fill="#6688CE" opacity="0.72"/>
<circle cx="463.9" cy="317.7" r="1.0" fill="#6688CE" opacity="0.72"/>
<circle cx="499.5" cy="289.0" r="1.0" fill="#6688CE" opacity="0.72"/>
<circle cx="570.9" cy="213.5" r="1.0" fill="#6688CE" opacity="0.72"/>
<circle cx="464.7" cy="314.2" r="1.0" fill="#6688CE" opacity="0.72"/>
<circle cx="570.7" cy="218.8" r="1.0" fill="#6688CE" opacity="0.72"/>
<circle cx="534.0" cy="260.9" r="1.0" fill="#6688CE" opacity="0.72"/>
<circle cx="511.2" cy="256.8" r="1.0" fill="#6688CE" opacity="0.72"/>
<circle cx="564.4" cy="219.8" r="1.0" fill="#6688CE" opacity="0.72"/>
<circle cx="550.8" cy="227.8" r="1.0" fill="#6688CE" opacity="0.72"/>
<circle cx="485.0" cy="302.7" r="1.0" fill="#6688CE" opacity="0.72"/>
<circle cx="465.4" cy="313.3" r="1.0" fill="#6688CE" opacity="0.72"/>
<circle cx="548.4" cy="225.3" r="1.0" fill="#6688CE" opacity="0.72"/>
<circle cx="480.2" cy="311.0" r="1.0" fill="#6688CE" opacity="0.72"/>
<circle cx="507.0" cy="294.3" r="1.0" fill="#6688CE" opacity="0.72"/>
<circle cx="477.8" cy="306.8" r="1.0" fill="#6688CE" opacity="0.72"/>
<circle cx="470.9" cy="315.1" r="1.0" fill="#6688CE" opacity="0.72"/>
<circle cx="468.5" cy="314.7" r="1.0" fill="#6688CE" opacity="0.72"/>
<circle cx="566.3" cy="224.0" r="1.0" fill="#6688CE" opacity="0.72"/>
<circle cx="561.8" cy="236.0" r="1.0" fill="#6688CE" opacity="0.72"/>
<circle cx="486.8" cy="315.7" r="1.0" fill="#6688CE" opacity="0.72"/>
<circle cx="531.2" cy="288.0" r="1.0" fill="#6688CE" opacity="0.72"/>
<circle cx="574.5" cy="208.0" r="1.0" fill="#6688CE" opacity="0.72"/>
<circle cx="463.0" cy="319.7" r="1.0" fill="#6688CE" opacity="0.72"/>
<circle cx="463.7" cy="321.4" r="1.0" fill="#6688CE" opacity="0.72"/>
<circle cx="564.5" cy="227.0" r="1.0" fill="#6688CE" opacity="0.72"/>
<circle cx="519.7" cy="261.6" r="1.0" fill="#6688CE" opacity="0.72"/>
<circle cx="467.5" cy="319.2" r="1.0" fill="#6688CE" opacity="0.72"/>
<circle cx="552.0" cy="258.2" r="1.0" fill="#6688CE" opacity="0.72"/>
<circle cx="469.4" cy="310.4" r="1.0" fill="#6688CE" opacity="0.72"/>
<circle cx="572.6" cy="210.2" r="1.0" fill="#6688CE" opacity="0.72"/>
<circle cx="482.6" cy="305.0" r="1.0" fill="#6688CE" opacity="0.72"/>
<circle cx="511.4" cy="291.2" r="1.0" fill="#6688CE" opacity="0.72"/>
<circle cx="461.1" cy="322.4" r="1.0" fill="#6688CE" opacity="0.72"/>
<circle cx="463.9" cy="317.4" r="1.0" fill="#6688CE" opacity="0.72"/>
<circle cx="548.0" cy="228.1" r="1.0" fill="#6688CE" opacity="0.72"/>
<circle cx="557.3" cy="231.2" r="1.0" fill="#6688CE" opacity="0.72"/>
<circle cx="479.3" cy="306.9" r="1.0" fill="#6688CE" opacity="0.72"/>
<circle cx="568.5" cy="217.3" r="1.0" fill="#6688CE" opacity="0.72"/>
<circle cx="467.8" cy="318.4" r="1.0" fill="#6688CE" opacity="0.72"/>
<circle cx="470.5" cy="319.8" r="1.0" fill="#6688CE" opacity="0.72"/>
<circle cx="461.0" cy="322.4" r="1.0" fill="#6688CE" opacity="0.72"/>
<circle cx="493.3" cy="296.6" r="1.0" fill="#6688CE" opacity="0.72"/>
<circle cx="489.2" cy="289.0" r="1.0" fill="#6688CE" opacity="0.72"/>
<circle cx="493.9" cy="295.6" r="1.0" fill="#6688CE" opacity="0.72"/>
<circle cx="464.7" cy="322.4" r="1.0" fill="#6688CE" opacity="0.72"/>
<circle cx="526.7" cy="266.3" r="1.0" fill="#6688CE" opacity="0.72"/>
<circle cx="512.9" cy="286.5" r="1.0" fill="#6688CE" opacity="0.72"/>
<circle cx="460.8" cy="320.8" r="1.0" fill="#6688CE" opacity="0.72"/>
<circle cx="473.2" cy="308.2" r="1.0" fill="#6688CE" opacity="0.72"/>
<circle cx="472.3" cy="316.4" r="1.0" fill="#6688CE" opacity="0.72"/>
<circle cx="554.7" cy="248.0" r="1.0" fill="#6688CE" opacity="0.72"/>
<circle cx="466.3" cy="314.6" r="1.0" fill="#6688CE" opacity="0.72"/>
<circle cx="560.7" cy="223.9" r="1.0" fill="#6688CE" opacity="0.72"/>
<circle cx="530.3" cy="273.5" r="1.0" fill="#6688CE" opacity="0.72"/>
<circle cx="553.4" cy="234.1" r="1.0" fill="#6688CE" opacity="0.72"/>
<circle cx="565.0" cy="247.6" r="1.0" fill="#6688CE" opacity="0.72"/>
<circle cx="508.5" cy="285.9" r="1.0" fill="#6688CE" opacity="0.72"/>
<circle cx="481.0" cy="306.9" r="1.0" fill="#6688CE" opacity="0.72"/>
<circle cx="462.3" cy="321.7" r="1.0" fill="#6688CE" opacity="0.72"/>
<circle cx="515.5" cy="279.6" r="1.0" fill="#6688CE" opacity="0.72"/>
<circle cx="463.6" cy="319.1" r="1.0" fill="#6688CE" opacity="0.72"/>
<circle cx="563.5" cy="213.2" r="1.0" fill="#6688CE" opacity="0.72"/>
<circle cx="462.8" cy="321.4" r="1.0" fill="#6688CE" opacity="0.72"/>
<circle cx="575.3" cy="219.2" r="1.0" fill="#6688CE" opacity="0.72"/>
<circle cx="461.5" cy="321.8" r="1.0" fill="#6688CE" opacity="0.72"/>
<circle cx="463.6" cy="322.4" r="1.0" fill="#6688CE" opacity="0.72"/>
<circle cx="511.1" cy="288.8" r="1.0" fill="#6688CE" opacity="0.72"/>
<circle cx="492.8" cy="310.9" r="1.0" fill="#6688CE" opacity="0.72"/>
<circle cx="501.0" cy="281.9" r="1.0" fill="#6688CE" opacity="0.72"/>
<circle cx="537.5" cy="277.2" r="1.0" fill="#6688CE" opacity="0.72"/>
<circle cx="565.8" cy="219.0" r="1.0" fill="#6688CE" opacity="0.72"/>
<circle cx="574.0" cy="207.4" r="1.0" fill="#6688CE" opacity="0.72"/>
<circle cx="463.7" cy="320.7" r="1.0" fill="#6688CE" opacity="0.72"/>
<circle cx="548.2" cy="253.1" r="1.0" fill="#6688CE" opacity="0.72"/>
<circle cx="463.5" cy="317.3" r="1.0" fill="#6688CE" opacity="0.72"/>
<circle cx="492.7" cy="293.3" r="1.0" fill="#6688CE" opacity="0.72"/>
<circle cx="513.0" cy="270.6" r="1.0" fill="#6688CE" opacity="0.72"/>
<circle cx="503.5" cy="298.0" r="1.0" fill="#6688CE" opacity="0.72"/>
<circle cx="462.6" cy="316.5" r="1.0" fill="#6688CE" opacity="0.72"/>
<circle cx="488.0" cy="303.2" r="1.0" fill="#6688CE" opacity="0.72"/>
<circle cx="562.6" cy="225.0" r="1.0" fill="#6688CE" opacity="0.72"/>
<circle cx="465.2" cy="318.9" r="1.0" fill="#6688CE" opacity="0.72"/>
<circle cx="562.1" cy="236.5" r="1.0" fill="#6688CE" opacity="0.72"/>
<circle cx="494.6" cy="304.8" r="1.0" fill="#6688CE" opacity="0.72"/>
<circle cx="568.0" cy="228.9" r="1.0" fill="#6688CE" opacity="0.72"/>
<circle cx="553.6" cy="245.8" r="1.0" fill="#6688CE" opacity="0.72"/>
<circle cx="545.8" cy="251.8" r="1.0" fill="#6688CE" opacity="0.72"/>
<circle cx="464.7" cy="319.4" r="1.0" fill="#6688CE" opacity="0.72"/>
<circle cx="493.7" cy="291.5" r="1.0" fill="#6688CE" opacity="0.72"/>
<circle cx="462.0" cy="320.1" r="1.0" fill="#6688CE" opacity="0.72"/>
<circle cx="535.6" cy="269.1" r="1.0" fill="#6688CE" opacity="0.72"/>
<circle cx="466.0" cy="313.5" r="1.0" fill="#6688CE" opacity="0.72"/>
<circle cx="462.1" cy="318.5" r="1.0" fill="#6688CE" opacity="0.72"/>
<circle cx="467.5" cy="313.9" r="1.0" fill="#6688CE" opacity="0.72"/>
<circle cx="471.2" cy="307.3" r="1.0" fill="#6688CE" opacity="0.72"/>
<circle cx="481.8" cy="307.8" r="1.0" fill="#6688CE" opacity="0.72"/>
<circle cx="472.7" cy="316.3" r="1.0" fill="#6688CE" opacity="0.72"/>
<circle cx="474.4" cy="318.5" r="1.0" fill="#6688CE" opacity="0.72"/>
<circle cx="462.1" cy="318.9" r="1.0" fill="#6688CE" opacity="0.72"/>
<circle cx="471.3" cy="312.3" r="1.0" fill="#6688CE" opacity="0.72"/>
<circle cx="462.7" cy="320.9" r="1.0" fill="#6688CE" opacity="0.72"/>
<circle cx="472.5" cy="310.4" r="1.0" fill="#6688CE" opacity="0.72"/>
<circle cx="461.8" cy="322.4" r="1.0" fill="#6688CE" opacity="0.72"/>
<circle cx="549.9" cy="252.3" r="1.0" fill="#6688CE" opacity="0.72"/>
<circle cx="467.1" cy="318.9" r="1.0" fill="#6688CE" opacity="0.72"/>
<circle cx="475.3" cy="308.9" r="1.0" fill="#6688CE" opacity="0.72"/>
<circle cx="506.1" cy="281.1" r="1.0" fill="#6688CE" opacity="0.72"/>
<circle cx="493.8" cy="286.7" r="1.0" fill="#6688CE" opacity="0.72"/>
<circle cx="482.2" cy="300.2" r="1.0" fill="#6688CE" opacity="0.72"/>
<circle cx="462.3" cy="321.2" r="1.0" fill="#6688CE" opacity="0.72"/>
<circle cx="494.7" cy="314.8" r="1.0" fill="#6688CE" opacity="0.72"/>
<circle cx="460.5" cy="320.6" r="1.0" fill="#6688CE" opacity="0.72"/>
<circle cx="570.7" cy="217.4" r="1.0" fill="#6688CE" opacity="0.72"/>
<circle cx="544.0" cy="239.9" r="1.0" fill="#6688CE" opacity="0.72"/>
<circle cx="533.6" cy="283.1" r="1.0" fill="#6688CE" opacity="0.72"/>
<circle cx="537.0" cy="265.3" r="1.0" fill="#6688CE" opacity="0.72"/>
<circle cx="461.8" cy="322.4" r="1.0" fill="#6688CE" opacity="0.72"/>
<circle cx="464.1" cy="317.6" r="1.0" fill="#6688CE" opacity="0.72"/>
<circle cx="460.5" cy="320.7" r="1.0" fill="#6688CE" opacity="0.72"/>
<circle cx="540.5" cy="261.0" r="1.0" fill="#6688CE" opacity="0.72"/>
<circle cx="466.1" cy="313.7" r="1.0" fill="#6688CE" opacity="0.72"/>
<circle cx="569.4" cy="222.6" r="1.0" fill="#6688CE" opacity="0.72"/>
<circle cx="539.8" cy="256.5" r="1.0" fill="#6688CE" opacity="0.72"/>
<circle cx="514.3" cy="293.2" r="1.0" fill="#6688CE" opacity="0.72"/>
<circle cx="552.9" cy="229.5" r="1.0" fill="#6688CE" opacity="0.72"/>
<circle cx="510.5" cy="283.4" r="1.0" fill="#6688CE" opacity="0.72"/>
<circle cx="559.3" cy="227.2" r="1.0" fill="#6688CE" opacity="0.72"/>
<circle cx="549.8" cy="243.8" r="1.0" fill="#6688CE" opacity="0.72"/>
<circle cx="467.2" cy="315.1" r="1.0" fill="#6688CE" opacity="0.72"/>
<circle cx="563.8" cy="218.2" r="1.0" fill="#6688CE" opacity="0.72"/>
<circle cx="465.8" cy="318.3" r="1.0" fill="#6688CE" opacity="0.72"/>
<circle cx="567.3" cy="225.9" r="1.0" fill="#6688CE" opacity="0.72"/>
<circle cx="568.8" cy="204.6" r="1.0" fill="#6688CE" opacity="0.72"/>
<circle cx="559.0" cy="228.0" r="1.0" fill="#6688CE" opacity="0.72"/>
<circle cx="469.8" cy="309.9" r="1.0" fill="#6688CE" opacity="0.72"/>
<circle cx="541.2" cy="246.5" r="1.0" fill="#6688CE" opacity="0.72"/>
<circle cx="493.7" cy="295.6" r="1.0" fill="#6688CE" opacity="0.72"/>
<circle cx="466.9" cy="321.0" r="1.0" fill="#6688CE" opacity="0.72"/>
<circle cx="461.9" cy="320.7" r="1.0" fill="#6688CE" opacity="0.72"/>
<circle cx="516.7" cy="274.6" r="1.0" fill="#6688CE" opacity="0.72"/>
<circle cx="562.3" cy="233.9" r="1.0" fill="#6688CE" opacity="0.72"/>
<circle cx="567.6" cy="222.7" r="1.0" fill="#6688CE" opacity="0.72"/>
<circle cx="460.9" cy="322.4" r="1.0" fill="#6688CE" opacity="0.72"/>
<circle cx="467.3" cy="318.0" r="1.0" fill="#6688CE" opacity="0.72"/>
<circle cx="493.7" cy="293.2" r="1.0" fill="#6688CE" opacity="0.72"/>
<circle cx="516.3" cy="275.7" r="1.0" fill="#6688CE" opacity="0.72"/>
<circle cx="568.2" cy="204.8" r="1.0" fill="#6688CE" opacity="0.72"/>
<line x1="455.50" y1="326.69" x2="574.64" y2="201.10" stroke="#EE2C2C" stroke-width="1.3" stroke-dasharray="4,3.6"/>
<line x1="454.80" y1="201.10" x2="454.80" y2="326.90" stroke="#111" stroke-width="1.0"/>
<line x1="454.30" y1="326.40" x2="585.20" y2="326.40" stroke="#111" stroke-width="1.0"/>
<line x1="453.10" y1="322.90" x2="454.80" y2="322.90" stroke="#111" stroke-width="0.6"/>
<text transform="translate(452.20 326.40) scale(1 1.08)" font-size="9.1" text-anchor="end" fill="#333" stroke="#333" stroke-width="0.12">0</text>
<line x1="453.10" y1="291.27" x2="454.80" y2="291.27" stroke="#111" stroke-width="0.6"/>
<text transform="translate(452.20 294.77) scale(1 1.08)" font-size="9.1" text-anchor="end" fill="#333" stroke="#333" stroke-width="0.12">25</text>
<line x1="453.10" y1="259.65" x2="454.80" y2="259.65" stroke="#111" stroke-width="0.6"/>
<text transform="translate(452.20 263.15) scale(1 1.08)" font-size="9.1" text-anchor="end" fill="#333" stroke="#333" stroke-width="0.12">50</text>
<line x1="453.10" y1="228.02" x2="454.80" y2="228.02" stroke="#111" stroke-width="0.6"/>
<text transform="translate(452.20 231.52) scale(1 1.08)" font-size="9.1" text-anchor="end" fill="#333" stroke="#333" stroke-width="0.12">75</text>
<line x1="459.10" y1="326.40" x2="459.10" y2="328.10" stroke="#111" stroke-width="0.6"/>
<text transform="translate(459.40 335.40) scale(1 1.08)" font-size="9.1" text-anchor="middle" fill="#333" stroke="#333" stroke-width="0.12">0</text>
<line x1="489.10" y1="326.40" x2="489.10" y2="328.10" stroke="#111" stroke-width="0.6"/>
<text transform="translate(489.40 335.40) scale(1 1.08)" font-size="9.1" text-anchor="middle" fill="#333" stroke="#333" stroke-width="0.12">25</text>
<line x1="519.10" y1="326.40" x2="519.10" y2="328.10" stroke="#111" stroke-width="0.6"/>
<text transform="translate(519.40 335.40) scale(1 1.08)" font-size="9.1" text-anchor="middle" fill="#333" stroke="#333" stroke-width="0.12">50</text>
<line x1="549.10" y1="326.40" x2="549.10" y2="328.10" stroke="#111" stroke-width="0.6"/>
<text transform="translate(549.40 335.40) scale(1 1.08)" font-size="9.1" text-anchor="middle" fill="#333" stroke="#333" stroke-width="0.12">75</text>
<line x1="579.10" y1="326.40" x2="579.10" y2="328.10" stroke="#111" stroke-width="0.6"/>
<text transform="translate(579.40 335.40) scale(1 1.08)" font-size="9.1" text-anchor="middle" fill="#333" stroke="#333" stroke-width="0.12">100</text>
<text x="460.70" y="196.60" font-size="9.8" text-anchor="start" fill="#000" textLength="42.6" lengthAdjust="spacingAndGlyphs">r<tspan font-size="5.5" dy="-3.3">2</tspan><tspan dy="3.3"> = 0.929</tspan></text>
<text x="519.90" y="346.60" font-size="10.1" text-anchor="middle" fill="#000" textLength="104.0" lengthAdjust="spacingAndGlyphs">Uninfected ARPE19 #1</text>
<text x="433.20" y="264.20" font-size="10.1" text-anchor="middle" fill="#000" textLength="75.0" lengthAdjust="spacingAndGlyphs" transform="rotate(-90 433.20 264.20)">HSV&#8722;1 12 hpi #1</text>
<line x1="638.05" y1="24.70" x2="638.05" y2="80.34" stroke="#9A9A9A" stroke-width="1.0"/>
<line x1="638.05" y1="137.02" x2="638.05" y2="139.90" stroke="#9A9A9A" stroke-width="1.0"/>
<rect x="627.50" y="80.34" width="21.10" height="56.68" fill="#8DD3F3" stroke="#333" stroke-width="0.6"/>
<line x1="627.50" y1="128.15" x2="648.60" y2="128.15" stroke="#333" stroke-width="1.1"/>
<line x1="666.15" y1="27.58" x2="666.15" y2="90.94" stroke="#9A9A9A" stroke-width="1.0"/>
<line x1="666.15" y1="137.02" x2="666.15" y2="139.90" stroke="#9A9A9A" stroke-width="1.0"/>
<rect x="655.60" y="90.94" width="21.10" height="46.08" fill="#4A97F3" stroke="#333" stroke-width="0.6"/>
<line x1="655.60" y1="131.49" x2="676.70" y2="131.49" stroke="#333" stroke-width="1.1"/>
<line x1="621.40" y1="18.20" x2="621.40" y2="144.80" stroke="#111" stroke-width="1.0"/>
<line x1="620.90" y1="144.30" x2="682.80" y2="144.30" stroke="#111" stroke-width="1.0"/>
<line x1="619.70" y1="139.90" x2="621.40" y2="139.90" stroke="#111" stroke-width="0.6"/>
<text transform="translate(618.80 143.40) scale(1 1.08)" font-size="9.1" text-anchor="end" fill="#333" stroke="#333" stroke-width="0.12">0</text>
<line x1="619.70" y1="111.10" x2="621.40" y2="111.10" stroke="#111" stroke-width="0.6"/>
<text transform="translate(618.80 114.60) scale(1 1.08)" font-size="9.1" text-anchor="end" fill="#333" stroke="#333" stroke-width="0.12">25</text>
<line x1="619.70" y1="82.30" x2="621.40" y2="82.30" stroke="#111" stroke-width="0.6"/>
<text transform="translate(618.80 85.80) scale(1 1.08)" font-size="9.1" text-anchor="end" fill="#333" stroke="#333" stroke-width="0.12">50</text>
<line x1="619.70" y1="53.50" x2="621.40" y2="53.50" stroke="#111" stroke-width="0.6"/>
<text transform="translate(618.80 57.00) scale(1 1.08)" font-size="9.1" text-anchor="end" fill="#333" stroke="#333" stroke-width="0.12">75</text>
<line x1="619.70" y1="24.70" x2="621.40" y2="24.70" stroke="#111" stroke-width="0.6"/>
<text transform="translate(618.80 28.20) scale(1 1.08)" font-size="9.1" text-anchor="end" fill="#333" stroke="#333" stroke-width="0.12">100</text>
<line x1="638.05" y1="144.30" x2="638.05" y2="146.00" stroke="#111" stroke-width="0.6"/>
<line x1="666.15" y1="144.30" x2="666.15" y2="146.00" stroke="#111" stroke-width="0.6"/>
<line x1="634.00" y1="18.40" x2="671.60" y2="18.40" stroke="#000" stroke-width="1.0"/>
<text x="653.30" y="19.90" font-size="8.8" text-anchor="middle" fill="#000" stroke="#000" stroke-width="0.12">***</text>
<text x="640.50" y="160.05" font-size="10.0" text-anchor="middle" fill="#222" textLength="23.1" lengthAdjust="spacingAndGlyphs" transform="rotate(-90 640.50 160.05)">Uninf</text>
<text x="663.20" y="160.90" font-size="10.0" text-anchor="middle" fill="#222" textLength="26.0" lengthAdjust="spacingAndGlyphs" transform="rotate(-90 663.20 160.90)">HSV-1</text>
<text x="674.30" y="160.35" font-size="10.0" text-anchor="middle" fill="#222" textLength="28.3" lengthAdjust="spacingAndGlyphs" transform="rotate(-90 674.30 160.35)">(6 hpi)</text>
<text x="602.00" y="81.55" font-size="10.1" text-anchor="middle" fill="#000" textLength="68.5" lengthAdjust="spacingAndGlyphs" transform="rotate(-90 602.00 81.55)">&#936; stoichiometry</text>
<line x1="638.05" y1="196.70" x2="638.05" y2="251.49" stroke="#9A9A9A" stroke-width="1.0"/>
<line x1="638.05" y1="309.06" x2="638.05" y2="312.30" stroke="#9A9A9A" stroke-width="1.0"/>
<rect x="627.80" y="251.49" width="20.50" height="57.57" fill="#8DD3F3" stroke="#333" stroke-width="0.6"/>
<line x1="627.80" y1="299.24" x2="648.30" y2="299.24" stroke="#333" stroke-width="1.1"/>
<line x1="666.15" y1="206.76" x2="666.15" y2="267.91" stroke="#9A9A9A" stroke-width="1.0"/>
<line x1="666.15" y1="309.99" x2="666.15" y2="312.30" stroke="#9A9A9A" stroke-width="1.0"/>
<rect x="655.70" y="267.91" width="20.90" height="42.08" fill="#4A97F3" stroke="#333" stroke-width="0.6"/>
<line x1="655.70" y1="304.32" x2="676.60" y2="304.32" stroke="#333" stroke-width="1.1"/>
<circle cx="665.9" cy="204.9" r="1.1" fill="#222"/>
<line x1="621.40" y1="191.50" x2="621.40" y2="317.70" stroke="#111" stroke-width="1.0"/>
<line x1="620.90" y1="317.20" x2="682.80" y2="317.20" stroke="#111" stroke-width="1.0"/>
<line x1="619.70" y1="312.30" x2="621.40" y2="312.30" stroke="#111" stroke-width="0.6"/>
<text transform="translate(618.80 315.80) scale(1 1.08)" font-size="9.1" text-anchor="end" fill="#333" stroke="#333" stroke-width="0.12">0</text>
<line x1="619.70" y1="283.40" x2="621.40" y2="283.40" stroke="#111" stroke-width="0.6"/>
<text transform="translate(618.80 286.90) scale(1 1.08)" font-size="9.1" text-anchor="end" fill="#333" stroke="#333" stroke-width="0.12">25</text>
<line x1="619.70" y1="254.50" x2="621.40" y2="254.50" stroke="#111" stroke-width="0.6"/>
<text transform="translate(618.80 258.00) scale(1 1.08)" font-size="9.1" text-anchor="end" fill="#333" stroke="#333" stroke-width="0.12">50</text>
<line x1="619.70" y1="225.60" x2="621.40" y2="225.60" stroke="#111" stroke-width="0.6"/>
<text transform="translate(618.80 229.10) scale(1 1.08)" font-size="9.1" text-anchor="end" fill="#333" stroke="#333" stroke-width="0.12">75</text>
<line x1="619.70" y1="196.70" x2="621.40" y2="196.70" stroke="#111" stroke-width="0.6"/>
<text transform="translate(618.80 200.20) scale(1 1.08)" font-size="9.1" text-anchor="end" fill="#333" stroke="#333" stroke-width="0.12">100</text>
<line x1="638.05" y1="317.20" x2="638.05" y2="318.90" stroke="#111" stroke-width="0.6"/>
<line x1="666.15" y1="317.20" x2="666.15" y2="318.90" stroke="#111" stroke-width="0.6"/>
<line x1="634.00" y1="194.20" x2="671.60" y2="194.20" stroke="#000" stroke-width="1.0"/>
<text x="653.30" y="195.70" font-size="8.8" text-anchor="middle" fill="#000" stroke="#000" stroke-width="0.12">***</text>
<text x="641.10" y="332.60" font-size="10.0" text-anchor="middle" fill="#222" textLength="23.4" lengthAdjust="spacingAndGlyphs" transform="rotate(-90 641.10 332.60)">Uninf</text>
<text x="662.40" y="335.55" font-size="10.0" text-anchor="middle" fill="#222" textLength="25.3" lengthAdjust="spacingAndGlyphs" transform="rotate(-90 662.40 335.55)">HSV-1</text>
<text x="674.50" y="335.10" font-size="10.0" text-anchor="middle" fill="#222" textLength="33.2" lengthAdjust="spacingAndGlyphs" transform="rotate(-90 674.50 335.10)">(12 hpi)</text>
<text x="602.00" y="254.65" font-size="10.1" text-anchor="middle" fill="#000" textLength="68.5" lengthAdjust="spacingAndGlyphs" transform="rotate(-90 602.00 254.65)">&#936; stoichiometry</text>
</svg>
</body></html>
